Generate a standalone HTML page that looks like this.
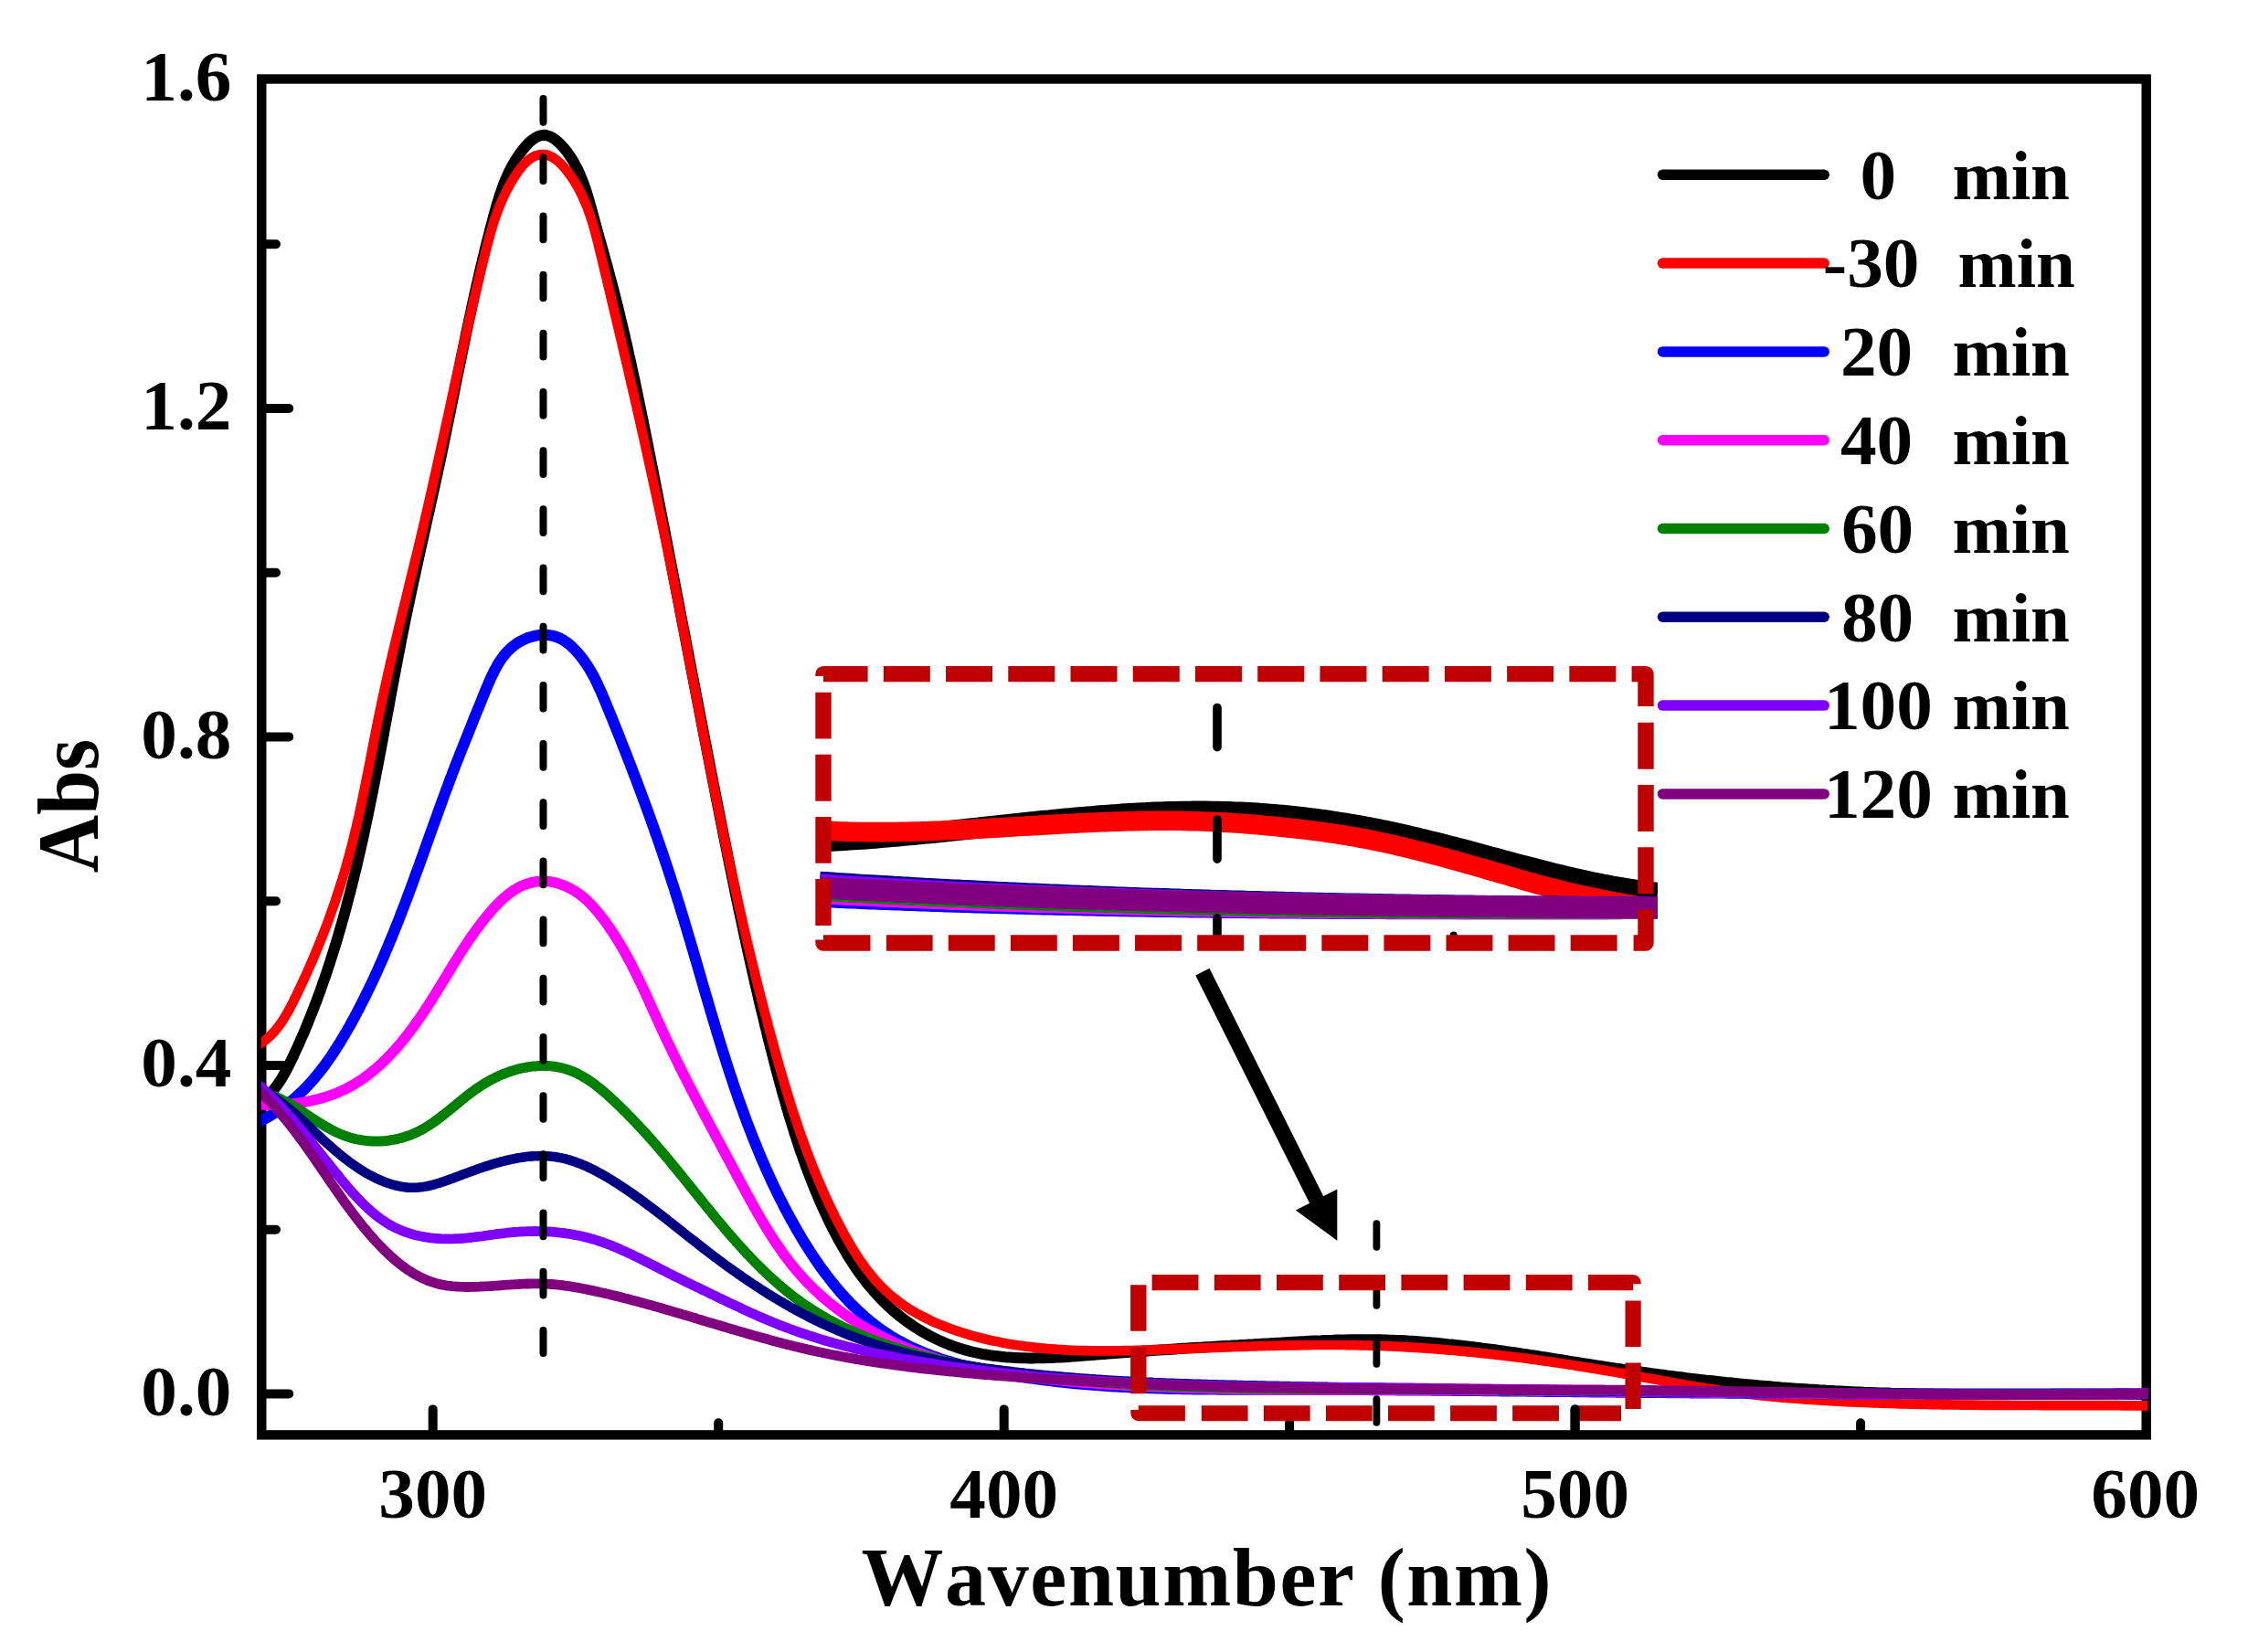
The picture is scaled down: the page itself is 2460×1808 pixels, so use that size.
<!DOCTYPE html>
<html lang="en"><head><meta charset="utf-8"><title>UV-vis absorbance spectra</title>
<style>html,body{margin:0;padding:0;background:#fff}body{width:2460px;height:1808px;overflow:hidden}</style></head>
<body>
<svg width="2460" height="1808" viewBox="0 0 2460 1808" style="display:block">
<rect width="2460" height="1808" fill="#fff"/>
<rect x="286.3" y="86.5" width="2062.3999999999996" height="1483.9" fill="none" stroke="#000" stroke-width="10.4"/>
<path d="M287.3,1525.4 H316.2 M287.3,1165.9 H316.2 M287.3,806.4 H316.2 M287.3,447.0 H316.2 M287.3,1345.7 H302 M287.3,986.2 H302 M287.3,626.7 H302 M287.3,267.2 H302 M473.7,1569.4 V1542.4 M1098.7,1569.4 V1542.4 M1723.6,1569.4 V1542.4 M786.2,1569.4 V1557.3 M1411.1,1569.4 V1557.3 M2036.1,1569.4 V1557.3" fill="none" stroke="#000" stroke-width="10" stroke-linecap="round"/>
<text transform="translate(253.3,1548.7) scale(1.0,1)" text-anchor="end" font-size="79.2" font-family="'Liberation Serif', serif" font-weight="bold">0.0</text>
<text transform="translate(253.3,1189.2) scale(1.0,1)" text-anchor="end" font-size="79.2" font-family="'Liberation Serif', serif" font-weight="bold">0.4</text>
<text transform="translate(253.3,829.7) scale(1.0,1)" text-anchor="end" font-size="79.2" font-family="'Liberation Serif', serif" font-weight="bold">0.8</text>
<text transform="translate(253.3,470.3) scale(1.0,1)" text-anchor="end" font-size="79.2" font-family="'Liberation Serif', serif" font-weight="bold">1.2</text>
<text transform="translate(253.3,109.8) scale(1.0,1)" text-anchor="end" font-size="79.2" font-family="'Liberation Serif', serif" font-weight="bold">1.6</text>
<text transform="translate(473.7,1660.7) scale(1.0,1)" text-anchor="middle" font-size="79.2" font-family="'Liberation Serif', serif" font-weight="bold">300</text>
<text transform="translate(1098.7,1660.7) scale(1.0,1)" text-anchor="middle" font-size="79.2" font-family="'Liberation Serif', serif" font-weight="bold">400</text>
<text transform="translate(1723.6,1660.7) scale(1.0,1)" text-anchor="middle" font-size="79.2" font-family="'Liberation Serif', serif" font-weight="bold">500</text>
<text transform="translate(2347.7,1660.7) scale(1.0,1)" text-anchor="middle" font-size="79.2" font-family="'Liberation Serif', serif" font-weight="bold">600</text>
<text transform="translate(1320.0,1756.5) scale(1.0,1)" text-anchor="middle" font-size="90" font-family="'Liberation Serif', serif" font-weight="bold" style="font-kerning:none" textLength="755" lengthAdjust="spacing">Wavenumber (nm)</text>
<text transform="translate(106.5,882) rotate(-90) scale(1.0,1.085)" text-anchor="middle" font-size="88" font-family="'Liberation Serif', serif" font-weight="bold">Abs</text>
<clipPath id="cc"><rect x="286" y="80" width="2064.4" height="1500"/></clipPath>
<g clip-path="url(#cc)">
<path d="M275.6,1212.3 L279.6,1210.1 L283.4,1207.7 L286.9,1205.0 L290.3,1202.3 L293.4,1199.3 L296.4,1196.2 L299.2,1193.0 L301.8,1189.7 L304.3,1186.2 L306.7,1182.6 L309.0,1179.0 L311.1,1175.3 L313.2,1171.5 L315.2,1167.7 L317.1,1163.8 L319.0,1159.9 L320.9,1156.0 L322.7,1152.1 L324.5,1148.1 L326.3,1144.2 L328.1,1140.2 L329.8,1136.2 L331.6,1132.3 L333.3,1128.3 L334.9,1124.3 L336.6,1120.3 L338.2,1116.3 L339.8,1112.3 L341.4,1108.3 L343.0,1104.2 L344.5,1100.2 L346.1,1096.2 L347.6,1092.1 L349.1,1088.0 L350.6,1084.0 L352.0,1079.9 L353.4,1075.8 L354.9,1071.7 L356.3,1067.7 L357.7,1063.6 L359.0,1059.5 L360.4,1055.4 L361.7,1051.2 L363.0,1047.1 L364.3,1043.0 L365.6,1038.9 L366.9,1034.7 L368.2,1030.6 L369.4,1026.5 L370.6,1022.3 L371.8,1018.2 L373.0,1014.0 L374.2,1009.9 L375.4,1005.7 L376.6,1001.5 L377.7,997.3 L378.8,993.2 L379.9,989.0 L381.0,984.8 L382.1,980.6 L383.2,976.4 L384.3,972.2 L385.3,968.0 L386.4,963.8 L387.4,959.6 L388.4,955.4 L389.5,951.2 L390.5,947.0 L391.4,942.8 L392.4,938.6 L393.4,934.3 L394.4,930.1 L395.3,925.9 L396.3,921.7 L397.2,917.4 L398.1,913.2 L399.0,909.0 L399.9,904.7 L400.8,900.5 L401.7,896.3 L402.6,892.0 L403.5,887.8 L404.4,883.5 L405.2,879.3 L406.1,875.1 L406.9,870.8 L407.8,866.6 L408.6,862.3 L409.5,858.1 L410.3,853.8 L411.1,849.6 L411.9,845.4 L412.8,841.1 L413.6,836.9 L414.4,832.6 L415.2,828.4 L416.0,824.1 L416.8,819.9 L417.6,815.6 L418.4,811.4 L419.2,807.1 L420.0,802.9 L420.7,798.6 L421.5,794.4 L422.3,790.1 L423.1,785.9 L423.9,781.6 L424.7,777.4 L425.5,773.1 L426.3,768.8 L427.0,764.6 L427.8,760.3 L428.6,756.1 L429.4,751.8 L430.2,747.6 L431.0,743.3 L431.8,739.1 L432.6,734.8 L433.4,730.6 L434.2,726.3 L435.0,722.1 L435.8,717.8 L436.7,713.6 L437.5,709.3 L438.3,705.1 L439.1,700.8 L440.0,696.6 L440.8,692.3 L441.7,688.1 L442.5,683.8 L443.4,679.6 L444.3,675.3 L445.1,671.1 L446.0,666.8 L446.9,662.6 L447.8,658.4 L448.7,654.1 L449.6,649.9 L450.5,645.6 L451.4,641.4 L452.3,637.1 L453.3,632.9 L454.2,628.7 L455.1,624.4 L456.0,620.2 L457.0,615.9 L457.9,611.7 L458.8,607.5 L459.8,603.2 L460.7,599.0 L461.7,594.7 L462.6,590.5 L463.6,586.3 L464.5,582.0 L465.5,577.8 L466.4,573.6 L467.3,569.3 L468.3,565.1 L469.2,560.9 L470.2,556.6 L471.1,552.4 L472.0,548.2 L473.0,543.9 L473.9,539.7 L474.9,535.5 L475.8,531.3 L476.7,527.0 L477.6,522.8 L478.6,518.6 L479.5,514.3 L480.4,510.1 L481.3,505.9 L482.2,501.7 L483.1,497.4 L484.0,493.2 L484.9,489.0 L485.7,484.8 L486.6,480.5 L487.5,476.3 L488.4,472.1 L489.2,467.9 L490.1,463.6 L491.0,459.4 L491.8,455.2 L492.7,451.0 L493.5,446.7 L494.4,442.5 L495.2,438.3 L496.1,434.1 L496.9,429.9 L497.8,425.6 L498.6,421.4 L499.5,417.2 L500.3,413.0 L501.2,408.7 L502.1,404.5 L502.9,400.3 L503.8,396.1 L504.6,391.8 L505.5,387.6 L506.4,383.4 L507.2,379.2 L508.1,375.0 L509.0,370.7 L509.8,366.5 L510.7,362.3 L511.6,358.1 L512.5,353.8 L513.4,349.6 L514.3,345.4 L515.2,341.2 L516.1,336.9 L517.0,332.7 L518.0,328.5 L518.9,324.2 L519.8,320.0 L520.8,315.8 L521.7,311.6 L522.7,307.3 L523.7,303.1 L524.6,298.9 L525.6,294.6 L526.6,290.4 L527.6,286.2 L528.6,281.9 L529.7,277.7 L530.7,273.5 L531.7,269.2 L532.8,265.0 L533.9,260.7 L535.0,256.5 L536.0,252.3 L537.1,248.0 L538.3,243.8 L539.4,239.5 L540.5,235.3 L541.7,231.1 L542.9,226.8 L544.1,222.6 L545.4,218.4 L546.7,214.2 L548.1,210.1 L549.6,205.9 L551.1,201.8 L552.7,197.8 L554.4,193.7 L556.2,189.8 L558.1,185.8 L560.2,182.0 L562.3,178.2 L564.6,174.4 L567.0,170.7 L569.6,167.1 L572.3,163.6 L575.2,160.1 L578.2,156.9 L581.3,154.0 L584.6,151.6 L587.9,149.6 L591.2,148.4 L594.6,147.8 L598.0,148.1 L601.5,149.2 L604.8,150.9 L608.2,153.2 L611.4,156.0 L614.5,159.1 L617.5,162.5 L620.3,166.0 L622.9,169.6 L625.4,173.3 L627.7,177.1 L629.8,181.0 L631.9,184.9 L633.8,188.9 L635.5,193.0 L637.2,197.1 L638.8,201.3 L640.3,205.5 L641.7,209.7 L643.0,213.9 L644.3,218.2 L645.5,222.5 L646.7,226.8 L647.9,231.1 L649.0,235.3 L650.2,239.6 L651.3,243.8 L652.5,248.1 L653.6,252.2 L654.8,256.4 L655.9,260.6 L657.1,264.7 L658.3,268.9 L659.4,273.0 L660.6,277.1 L661.7,281.3 L662.8,285.4 L664.0,289.5 L665.1,293.6 L666.2,297.7 L667.3,301.8 L668.4,306.0 L669.5,310.1 L670.6,314.3 L671.7,318.4 L672.7,322.5 L673.8,326.7 L674.8,330.9 L675.9,335.0 L676.9,339.2 L677.9,343.4 L678.9,347.6 L679.9,351.8 L680.9,355.9 L681.9,360.1 L682.9,364.3 L683.9,368.5 L684.8,372.8 L685.8,377.0 L686.8,381.2 L687.7,385.4 L688.6,389.6 L689.6,393.8 L690.5,398.1 L691.4,402.3 L692.3,406.5 L693.3,410.8 L694.2,415.0 L695.1,419.3 L696.0,423.5 L696.9,427.7 L697.7,432.0 L698.6,436.2 L699.5,440.5 L700.4,444.8 L701.3,449.0 L702.1,453.3 L703.0,457.5 L703.9,461.8 L704.7,466.0 L705.6,470.3 L706.4,474.6 L707.3,478.8 L708.1,483.1 L709.0,487.3 L709.8,491.6 L710.7,495.9 L711.5,500.1 L712.4,504.4 L713.2,508.6 L714.1,512.9 L714.9,517.2 L715.7,521.4 L716.6,525.7 L717.4,529.9 L718.2,534.2 L719.1,538.5 L719.9,542.7 L720.7,547.0 L721.6,551.2 L722.4,555.5 L723.2,559.7 L724.1,564.0 L724.9,568.2 L725.7,572.5 L726.6,576.8 L727.4,581.0 L728.2,585.3 L729.0,589.5 L729.9,593.8 L730.7,598.0 L731.5,602.3 L732.3,606.5 L733.1,610.8 L734.0,615.0 L734.8,619.3 L735.6,623.5 L736.4,627.8 L737.2,632.0 L738.1,636.3 L738.9,640.5 L739.7,644.8 L740.5,649.0 L741.3,653.3 L742.2,657.5 L743.0,661.8 L743.8,666.0 L744.6,670.3 L745.4,674.5 L746.2,678.8 L747.0,683.0 L747.9,687.3 L748.7,691.5 L749.5,695.8 L750.3,700.0 L751.1,704.3 L751.9,708.5 L752.8,712.8 L753.6,717.0 L754.4,721.3 L755.2,725.5 L756.0,729.8 L756.8,734.0 L757.6,738.3 L758.5,742.5 L759.3,746.8 L760.1,751.0 L760.9,755.3 L761.7,759.5 L762.5,763.7 L763.4,768.0 L764.2,772.2 L765.0,776.5 L765.8,780.7 L766.6,785.0 L767.4,789.2 L768.3,793.5 L769.1,797.7 L769.9,802.0 L770.7,806.2 L771.5,810.5 L772.4,814.7 L773.2,818.9 L774.0,823.2 L774.8,827.4 L775.7,831.7 L776.5,835.9 L777.3,840.2 L778.1,844.4 L779.0,848.7 L779.8,852.9 L780.6,857.2 L781.5,861.4 L782.3,865.7 L783.1,869.9 L783.9,874.1 L784.8,878.4 L785.6,882.6 L786.5,886.9 L787.3,891.1 L788.1,895.4 L789.0,899.6 L789.8,903.9 L790.7,908.1 L791.5,912.4 L792.4,916.6 L793.2,920.8 L794.1,925.1 L794.9,929.3 L795.8,933.6 L796.6,937.8 L797.5,942.1 L798.3,946.3 L799.2,950.5 L800.1,954.8 L800.9,959.0 L801.8,963.3 L802.7,967.5 L803.6,971.7 L804.4,976.0 L805.3,980.2 L806.2,984.5 L807.1,988.7 L808.0,992.9 L808.9,997.2 L809.8,1001.4 L810.7,1005.6 L811.6,1009.9 L812.5,1014.1 L813.4,1018.3 L814.3,1022.6 L815.3,1026.8 L816.2,1031.0 L817.1,1035.3 L818.0,1039.5 L819.0,1043.7 L819.9,1047.9 L820.9,1052.2 L821.8,1056.4 L822.8,1060.6 L823.7,1064.8 L824.7,1069.1 L825.6,1073.3 L826.6,1077.5 L827.6,1081.7 L828.6,1085.9 L829.6,1090.2 L830.5,1094.4 L831.5,1098.6 L832.5,1102.8 L833.6,1107.0 L834.6,1111.2 L835.6,1115.4 L836.6,1119.6 L837.6,1123.8 L838.7,1128.0 L839.7,1132.3 L840.7,1136.5 L841.8,1140.7 L842.8,1144.9 L843.9,1149.1 L845.0,1153.3 L846.1,1157.5 L847.1,1161.6 L848.2,1165.8 L849.3,1170.0 L850.4,1174.2 L851.6,1178.4 L852.7,1182.6 L853.8,1186.7 L855.0,1190.9 L856.1,1195.1 L857.3,1199.3 L858.5,1203.4 L859.7,1207.6 L860.9,1211.7 L862.1,1215.9 L863.3,1220.0 L864.6,1224.2 L865.9,1228.3 L867.1,1232.4 L868.4,1236.5 L869.7,1240.7 L871.1,1244.8 L872.4,1248.9 L873.8,1253.0 L875.1,1257.1 L876.5,1261.2 L878.0,1265.2 L879.4,1269.3 L880.9,1273.4 L882.3,1277.4 L883.8,1281.5 L885.4,1285.5 L886.9,1289.5 L888.5,1293.5 L890.1,1297.6 L891.7,1301.6 L893.4,1305.5 L895.0,1309.5 L896.7,1313.5 L898.5,1317.5 L900.2,1321.4 L902.0,1325.3 L903.9,1329.3 L905.7,1333.2 L907.6,1337.1 L909.5,1341.0 L911.5,1344.9 L913.5,1348.7 L915.5,1352.6 L917.5,1356.4 L919.6,1360.2 L921.8,1364.0 L924.0,1367.7 L926.2,1371.5 L928.4,1375.2 L930.7,1378.8 L933.1,1382.5 L935.5,1386.1 L937.9,1389.7 L940.4,1393.2 L943.0,1396.7 L945.6,1400.1 L948.2,1403.6 L950.9,1406.9 L953.7,1410.2 L956.5,1413.5 L959.4,1416.7 L962.3,1419.9 L965.3,1423.0 L968.4,1426.1 L971.5,1429.1 L974.7,1432.0 L977.9,1434.9 L981.2,1437.7 L984.6,1440.5 L988.0,1443.1 L991.5,1445.8 L995.1,1448.3 L998.7,1450.8 L1002.4,1453.2 L1006.1,1455.5 L1009.9,1457.7 L1013.7,1459.9 L1017.6,1462.0 L1021.5,1464.0 L1025.4,1465.9 L1029.4,1467.7 L1033.4,1469.4 L1037.4,1471.1 L1041.5,1472.7 L1045.5,1474.1 L1049.6,1475.5 L1053.8,1476.8 L1057.9,1477.9 L1062.0,1479.0 L1066.2,1480.0 L1070.4,1480.9 L1074.6,1481.8 L1078.8,1482.5 L1083.0,1483.2 L1087.2,1483.8 L1091.4,1484.3 L1095.7,1484.8 L1099.9,1485.2 L1104.2,1485.5 L1108.5,1485.8 L1112.8,1486.0 L1117.1,1486.2 L1121.4,1486.3 L1125.7,1486.4 L1130.0,1486.4 L1134.3,1486.3 L1138.7,1486.3 L1143.0,1486.2 L1147.4,1486.0 L1151.7,1485.9 L1156.0,1485.6 L1160.4,1485.4 L1164.7,1485.2 L1169.1,1484.9 L1173.4,1484.6 L1177.8,1484.3 L1182.2,1484.0 L1186.5,1483.6 L1190.9,1483.3 L1195.2,1483.0 L1199.6,1482.6 L1203.9,1482.3 L1208.2,1481.9 L1212.6,1481.6 L1216.9,1481.3 L1221.3,1480.9 L1225.6,1480.6 L1229.9,1480.3 L1234.2,1480.0 L1238.6,1479.6 L1242.9,1479.3 L1247.2,1479.0 L1251.5,1478.7 L1255.8,1478.4 L1260.1,1478.1 L1264.4,1477.8 L1268.7,1477.5 L1273.0,1477.2 L1277.3,1477.0 L1281.6,1476.7 L1285.9,1476.4 L1290.2,1476.1 L1294.5,1475.8 L1298.8,1475.6 L1303.1,1475.3 L1307.4,1475.0 L1311.7,1474.7 L1316.0,1474.5 L1320.3,1474.2 L1324.6,1474.0 L1328.9,1473.7 L1333.2,1473.4 L1337.5,1473.2 L1341.9,1472.9 L1346.2,1472.7 L1350.5,1472.4 L1354.8,1472.2 L1359.1,1471.9 L1363.4,1471.7 L1367.7,1471.4 L1372.0,1471.2 L1376.3,1470.9 L1380.6,1470.7 L1385.0,1470.4 L1389.3,1470.2 L1393.6,1469.9 L1397.9,1469.7 L1402.3,1469.5 L1406.6,1469.2 L1410.9,1469.0 L1415.3,1468.7 L1419.6,1468.5 L1424.0,1468.3 L1428.3,1468.1 L1432.6,1467.8 L1437.0,1467.6 L1441.3,1467.4 L1445.7,1467.3 L1450.0,1467.1 L1454.4,1466.9 L1458.7,1466.8 L1463.1,1466.6 L1467.4,1466.5 L1471.8,1466.4 L1476.1,1466.3 L1480.5,1466.2 L1484.8,1466.2 L1489.2,1466.2 L1493.5,1466.2 L1497.9,1466.2 L1502.2,1466.2 L1506.5,1466.3 L1510.9,1466.3 L1515.2,1466.4 L1519.5,1466.6 L1523.9,1466.7 L1528.2,1466.9 L1532.5,1467.1 L1536.8,1467.3 L1541.1,1467.6 L1545.5,1467.8 L1549.8,1468.1 L1554.1,1468.4 L1558.4,1468.7 L1562.7,1469.1 L1567.0,1469.4 L1571.3,1469.8 L1575.6,1470.2 L1579.9,1470.6 L1584.2,1471.1 L1588.5,1471.5 L1592.8,1472.0 L1597.1,1472.4 L1601.4,1472.9 L1605.7,1473.4 L1610.0,1473.9 L1614.3,1474.5 L1618.6,1475.0 L1622.8,1475.6 L1627.1,1476.1 L1631.4,1476.7 L1635.7,1477.3 L1640.0,1477.9 L1644.3,1478.5 L1648.5,1479.1 L1652.8,1479.7 L1657.1,1480.3 L1661.4,1480.9 L1665.7,1481.6 L1669.9,1482.2 L1674.2,1482.9 L1678.5,1483.5 L1682.8,1484.2 L1687.1,1484.9 L1691.3,1485.5 L1695.6,1486.2 L1699.9,1486.9 L1704.2,1487.6 L1708.4,1488.2 L1712.7,1488.9 L1717.0,1489.6 L1721.3,1490.3 L1725.5,1490.9 L1729.8,1491.6 L1734.1,1492.3 L1738.4,1493.0 L1742.7,1493.6 L1746.9,1494.3 L1751.2,1495.0 L1755.5,1495.6 L1759.8,1496.3 L1764.1,1497.0 L1768.3,1497.6 L1772.6,1498.2 L1776.9,1498.9 L1781.2,1499.5 L1785.5,1500.1 L1789.8,1500.7 L1794.0,1501.3 L1798.3,1501.9 L1802.6,1502.5 L1806.9,1503.1 L1811.2,1503.7 L1815.5,1504.3 L1819.8,1504.8 L1824.1,1505.4 L1828.4,1505.9 L1832.7,1506.5 L1837.0,1507.0 L1841.3,1507.5 L1845.6,1508.1 L1849.9,1508.6 L1854.2,1509.1 L1858.5,1509.6 L1862.8,1510.1 L1867.1,1510.6 L1871.4,1511.0 L1875.7,1511.5 L1880.0,1512.0 L1884.3,1512.4 L1888.6,1512.9 L1892.9,1513.3 L1897.2,1513.8 L1901.5,1514.2 L1905.8,1514.6 L1910.1,1515.0 L1914.4,1515.4 L1918.7,1515.8 L1923.0,1516.2 L1927.3,1516.6 L1931.7,1517.0 L1936.0,1517.3 L1940.3,1517.7 L1944.6,1518.0 L1948.9,1518.4 L1953.2,1518.7 L1957.5,1519.1 L1961.9,1519.4 L1966.2,1519.7 L1970.5,1520.0 L1974.8,1520.3 L1979.1,1520.6 L1983.4,1520.8 L1987.8,1521.1 L1992.1,1521.4 L1996.4,1521.6 L2000.7,1521.9 L2005.0,1522.1 L2009.4,1522.4 L2013.7,1522.6 L2018.0,1522.8 L2022.3,1523.0 L2026.7,1523.2 L2031.0,1523.4 L2035.3,1523.6 L2039.6,1523.8 L2044.0,1523.9 L2048.3,1524.1 L2052.6,1524.2 L2056.9,1524.4 L2061.3,1524.5 L2065.6,1524.6 L2069.9,1524.8 L2074.2,1524.9 L2078.6,1525.0 L2082.9,1525.1 L2087.2,1525.2 L2091.6,1525.3 L2095.9,1525.3 L2100.2,1525.4 L2104.5,1525.5 L2108.9,1525.6 L2113.2,1525.6 L2117.5,1525.7 L2121.9,1525.7 L2126.2,1525.8 L2130.5,1525.8 L2134.9,1525.9 L2139.2,1525.9 L2143.5,1525.9 L2147.9,1525.9 L2152.2,1526.0 L2156.5,1526.0 L2160.9,1526.0 L2165.2,1526.0 L2169.5,1526.0 L2173.9,1526.0 L2178.2,1526.0 L2182.5,1526.0 L2186.9,1526.0 L2191.2,1526.0 L2195.5,1526.0 L2199.8,1526.0 L2204.2,1526.0 L2208.5,1526.0 L2212.8,1526.0 L2217.2,1526.0 L2221.5,1525.9 L2225.8,1525.9 L2230.2,1525.9 L2234.5,1525.9 L2238.8,1525.9 L2243.2,1525.9 L2247.5,1525.8 L2251.8,1525.8 L2256.2,1525.8 L2260.5,1525.8 L2264.8,1525.8 L2269.1,1525.8 L2273.5,1525.8 L2277.8,1525.8 L2282.1,1525.7 L2286.5,1525.7 L2290.8,1525.7 L2295.1,1525.7 L2299.4,1525.7 L2303.8,1525.7 L2308.1,1525.7 L2312.4,1525.7 L2316.8,1525.8 L2321.1,1525.8 L2325.4,1525.8 L2329.7,1525.8 L2334.1,1525.8 L2338.4,1525.9 L2342.7,1525.9 L2347.0,1525.9 L2351.3,1526.0 L2355.7,1526.0 L2360.0,1526.0" fill="none" stroke="#000000" stroke-width="12.0" stroke-linejoin="round" stroke-linecap="butt"/>
<path d="M276.0,1147.1 L279.9,1145.2 L283.6,1143.1 L287.1,1140.8 L290.4,1138.3 L293.6,1135.6 L296.5,1132.8 L299.4,1129.9 L302.1,1126.8 L304.6,1123.5 L307.1,1120.2 L309.4,1116.8 L311.6,1113.2 L313.7,1109.6 L315.8,1106.0 L317.8,1102.3 L319.8,1098.5 L321.7,1094.7 L323.5,1090.9 L325.4,1087.1 L327.2,1083.3 L329.0,1079.4 L330.8,1075.6 L332.6,1071.8 L334.4,1067.9 L336.1,1064.1 L337.8,1060.2 L339.5,1056.4 L341.2,1052.5 L342.9,1048.6 L344.5,1044.8 L346.1,1040.9 L347.7,1037.0 L349.3,1033.1 L350.9,1029.2 L352.4,1025.3 L354.0,1021.4 L355.5,1017.5 L357.0,1013.6 L358.5,1009.6 L359.9,1005.7 L361.3,1001.8 L362.7,997.8 L364.1,993.9 L365.5,989.9 L366.9,985.9 L368.2,982.0 L369.5,978.0 L370.8,974.0 L372.1,970.0 L373.3,966.1 L374.6,962.1 L375.8,958.0 L377.0,954.0 L378.2,950.0 L379.3,946.0 L380.4,942.0 L381.6,937.9 L382.7,933.9 L383.7,929.8 L384.8,925.8 L385.8,921.7 L386.8,917.7 L387.8,913.6 L388.8,909.5 L389.8,905.4 L390.7,901.3 L391.6,897.3 L392.6,893.2 L393.5,889.1 L394.4,885.0 L395.2,880.9 L396.1,876.7 L397.0,872.6 L397.8,868.5 L398.7,864.4 L399.5,860.3 L400.3,856.1 L401.1,852.0 L402.0,847.9 L402.8,843.8 L403.6,839.6 L404.4,835.5 L405.2,831.4 L406.0,827.2 L406.8,823.1 L407.6,819.0 L408.4,814.8 L409.2,810.7 L410.0,806.6 L410.8,802.4 L411.6,798.3 L412.5,794.2 L413.3,790.0 L414.1,785.9 L415.0,781.8 L415.8,777.7 L416.7,773.6 L417.5,769.4 L418.4,765.3 L419.3,761.2 L420.2,757.1 L421.1,753.0 L422.0,748.9 L422.9,744.8 L423.8,740.7 L424.7,736.6 L425.7,732.5 L426.6,728.4 L427.5,724.3 L428.5,720.2 L429.4,716.1 L430.4,712.0 L431.4,708.0 L432.3,703.9 L433.3,699.8 L434.3,695.7 L435.3,691.6 L436.2,687.5 L437.2,683.5 L438.2,679.4 L439.2,675.3 L440.2,671.2 L441.2,667.1 L442.2,663.1 L443.2,659.0 L444.2,654.9 L445.2,650.8 L446.2,646.8 L447.1,642.7 L448.1,638.6 L449.1,634.5 L450.1,630.4 L451.1,626.4 L452.1,622.3 L453.1,618.2 L454.1,614.1 L455.1,610.1 L456.1,606.0 L457.1,601.9 L458.0,597.8 L459.0,593.7 L460.0,589.7 L461.0,585.6 L461.9,581.5 L462.9,577.4 L463.8,573.3 L464.8,569.2 L465.7,565.1 L466.7,561.0 L467.6,556.9 L468.6,552.9 L469.5,548.8 L470.4,544.7 L471.4,540.6 L472.3,536.5 L473.2,532.4 L474.1,528.3 L475.0,524.2 L476.0,520.1 L476.9,516.0 L477.8,511.9 L478.7,507.8 L479.6,503.7 L480.5,499.6 L481.4,495.5 L482.3,491.4 L483.2,487.3 L484.1,483.2 L485.0,479.1 L485.9,475.0 L486.8,470.8 L487.7,466.7 L488.6,462.6 L489.5,458.5 L490.4,454.4 L491.3,450.3 L492.2,446.2 L493.1,442.1 L493.9,438.0 L494.8,433.9 L495.7,429.8 L496.6,425.7 L497.5,421.6 L498.4,417.5 L499.3,413.4 L500.2,409.3 L501.1,405.2 L502.0,401.1 L502.9,397.0 L503.8,392.9 L504.8,388.8 L505.7,384.7 L506.6,380.6 L507.5,376.5 L508.4,372.4 L509.3,368.3 L510.3,364.2 L511.2,360.1 L512.1,356.0 L513.0,351.9 L514.0,347.8 L514.9,343.8 L515.9,339.7 L516.8,335.6 L517.8,331.5 L518.7,327.4 L519.7,323.3 L520.7,319.2 L521.6,315.2 L522.6,311.1 L523.6,307.0 L524.6,302.9 L525.5,298.9 L526.5,294.8 L527.5,290.7 L528.5,286.6 L529.6,282.6 L530.6,278.5 L531.6,274.4 L532.6,270.4 L533.7,266.3 L534.8,262.3 L535.9,258.2 L537.0,254.2 L538.2,250.2 L539.4,246.1 L540.7,242.1 L542.0,238.1 L543.4,234.2 L544.9,230.2 L546.4,226.3 L548.0,222.3 L549.7,218.4 L551.5,214.5 L553.3,210.7 L555.3,206.8 L557.4,203.0 L559.5,199.2 L561.8,195.4 L564.3,191.6 L566.8,187.9 L569.5,184.3 L572.3,180.9 L575.2,177.8 L578.3,175.0 L581.6,172.7 L584.9,170.9 L588.4,169.7 L591.9,169.0 L595.3,169.0 L598.7,169.6 L602.1,170.9 L605.4,172.6 L608.6,174.8 L611.7,177.5 L614.7,180.4 L617.7,183.6 L620.5,187.0 L623.1,190.6 L625.7,194.2 L628.1,197.8 L630.3,201.5 L632.5,205.3 L634.5,209.0 L636.4,212.8 L638.2,216.7 L639.9,220.6 L641.6,224.5 L643.1,228.4 L644.5,232.4 L645.9,236.3 L647.2,240.3 L648.5,244.4 L649.7,248.4 L650.8,252.4 L651.9,256.5 L653.0,260.6 L654.0,264.7 L655.0,268.7 L656.0,272.8 L657.0,276.9 L658.0,281.0 L659.0,285.1 L659.9,289.2 L660.9,293.3 L661.9,297.4 L662.9,301.5 L663.9,305.6 L664.8,309.7 L665.8,313.8 L666.8,317.9 L667.8,322.0 L668.7,326.1 L669.7,330.2 L670.7,334.3 L671.7,338.4 L672.6,342.5 L673.6,346.5 L674.6,350.6 L675.5,354.7 L676.5,358.8 L677.5,362.9 L678.4,367.0 L679.4,371.1 L680.4,375.2 L681.3,379.3 L682.3,383.4 L683.2,387.5 L684.2,391.6 L685.1,395.6 L686.1,399.7 L687.0,403.8 L688.0,407.9 L688.9,412.0 L689.9,416.1 L690.8,420.2 L691.8,424.3 L692.7,428.4 L693.7,432.5 L694.6,436.6 L695.5,440.7 L696.5,444.7 L697.4,448.8 L698.3,452.9 L699.3,457.0 L700.2,461.1 L701.1,465.2 L702.0,469.3 L703.0,473.4 L703.9,477.5 L704.8,481.6 L705.7,485.7 L706.6,489.8 L707.5,493.9 L708.4,498.0 L709.3,502.1 L710.2,506.2 L711.1,510.3 L712.0,514.4 L712.9,518.5 L713.8,522.6 L714.7,526.7 L715.6,530.8 L716.5,534.9 L717.4,539.0 L718.3,543.1 L719.1,547.2 L720.0,551.3 L720.9,555.4 L721.7,559.5 L722.6,563.6 L723.5,567.7 L724.3,571.8 L725.2,575.9 L726.0,580.0 L726.9,584.1 L727.7,588.2 L728.6,592.3 L729.4,596.5 L730.3,600.6 L731.1,604.7 L731.9,608.8 L732.8,612.9 L733.6,617.0 L734.4,621.1 L735.2,625.3 L736.1,629.4 L736.9,633.5 L737.7,637.6 L738.5,641.7 L739.3,645.8 L740.1,650.0 L740.9,654.1 L741.8,658.2 L742.6,662.3 L743.4,666.4 L744.2,670.6 L745.0,674.7 L745.8,678.8 L746.6,682.9 L747.4,687.1 L748.2,691.2 L749.0,695.3 L749.8,699.4 L750.6,703.6 L751.4,707.7 L752.2,711.8 L752.9,715.9 L753.7,720.0 L754.5,724.2 L755.3,728.3 L756.1,732.4 L756.9,736.6 L757.7,740.7 L758.5,744.8 L759.3,748.9 L760.1,753.1 L760.9,757.2 L761.7,761.3 L762.4,765.4 L763.2,769.6 L764.0,773.7 L764.8,777.8 L765.6,781.9 L766.4,786.1 L767.2,790.2 L768.0,794.3 L768.8,798.4 L769.6,802.6 L770.4,806.7 L771.2,810.8 L772.0,814.9 L772.8,819.1 L773.6,823.2 L774.4,827.3 L775.2,831.4 L776.0,835.6 L776.8,839.7 L777.7,843.8 L778.5,847.9 L779.3,852.0 L780.1,856.2 L780.9,860.3 L781.8,864.4 L782.6,868.5 L783.4,872.6 L784.2,876.8 L785.1,880.9 L785.9,885.0 L786.7,889.1 L787.6,893.2 L788.4,897.4 L789.3,901.5 L790.1,905.6 L791.0,909.7 L791.8,913.8 L792.7,917.9 L793.5,922.0 L794.4,926.2 L795.3,930.3 L796.1,934.4 L797.0,938.5 L797.9,942.6 L798.8,946.7 L799.7,950.8 L800.6,954.9 L801.4,959.0 L802.3,963.1 L803.2,967.2 L804.1,971.3 L805.1,975.4 L806.0,979.5 L806.9,983.6 L807.8,987.7 L808.7,991.8 L809.6,995.9 L810.6,1000.0 L811.5,1004.1 L812.5,1008.2 L813.4,1012.3 L814.3,1016.4 L815.3,1020.5 L816.3,1024.6 L817.2,1028.7 L818.2,1032.8 L819.1,1036.8 L820.1,1040.9 L821.1,1045.0 L822.1,1049.1 L823.1,1053.2 L824.1,1057.2 L825.1,1061.3 L826.1,1065.4 L827.1,1069.5 L828.1,1073.5 L829.1,1077.6 L830.1,1081.7 L831.2,1085.8 L832.2,1089.8 L833.2,1093.9 L834.3,1098.0 L835.3,1102.0 L836.4,1106.1 L837.4,1110.1 L838.5,1114.2 L839.6,1118.2 L840.6,1122.3 L841.7,1126.4 L842.8,1130.4 L843.9,1134.4 L845.0,1138.5 L846.1,1142.5 L847.2,1146.6 L848.3,1150.6 L849.4,1154.7 L850.5,1158.7 L851.7,1162.7 L852.8,1166.8 L854.0,1170.8 L855.1,1174.8 L856.3,1178.8 L857.5,1182.9 L858.7,1186.9 L859.9,1190.9 L861.1,1194.9 L862.3,1198.9 L863.6,1202.9 L864.8,1206.9 L866.1,1210.9 L867.3,1214.9 L868.6,1218.9 L869.9,1222.8 L871.3,1226.8 L872.6,1230.8 L873.9,1234.8 L875.3,1238.7 L876.7,1242.7 L878.1,1246.6 L879.5,1250.6 L880.9,1254.5 L882.4,1258.4 L883.9,1262.4 L885.3,1266.3 L886.9,1270.2 L888.4,1274.1 L889.9,1278.0 L891.5,1281.9 L893.1,1285.8 L894.7,1289.7 L896.4,1293.6 L898.0,1297.4 L899.7,1301.3 L901.4,1305.1 L903.1,1309.0 L904.9,1312.8 L906.7,1316.7 L908.5,1320.5 L910.3,1324.3 L912.2,1328.1 L914.0,1331.9 L916.0,1335.7 L917.9,1339.5 L919.9,1343.3 L921.9,1347.0 L923.9,1350.8 L926.0,1354.5 L928.1,1358.2 L930.2,1361.9 L932.4,1365.5 L934.6,1369.1 L936.9,1372.7 L939.2,1376.3 L941.5,1379.8 L943.9,1383.2 L946.4,1386.6 L948.9,1390.0 L951.5,1393.3 L954.1,1396.6 L956.8,1399.7 L959.6,1402.9 L962.4,1405.9 L965.3,1408.9 L968.2,1411.8 L971.3,1414.6 L974.4,1417.4 L977.5,1420.1 L980.8,1422.6 L984.1,1425.1 L987.5,1427.6 L990.9,1429.9 L994.4,1432.2 L998.0,1434.4 L1001.6,1436.5 L1005.2,1438.6 L1008.9,1440.5 L1012.7,1442.4 L1016.5,1444.3 L1020.3,1446.1 L1024.2,1447.8 L1028.1,1449.4 L1032.0,1451.0 L1035.9,1452.6 L1039.9,1454.1 L1043.9,1455.5 L1047.9,1456.8 L1051.9,1458.2 L1055.9,1459.4 L1059.9,1460.6 L1064.0,1461.8 L1068.0,1462.9 L1072.1,1464.0 L1076.2,1465.0 L1080.2,1466.0 L1084.3,1466.9 L1088.4,1467.8 L1092.5,1468.6 L1096.6,1469.4 L1100.7,1470.2 L1104.8,1470.9 L1108.9,1471.6 L1113.1,1472.2 L1117.2,1472.8 L1121.3,1473.4 L1125.5,1473.9 L1129.6,1474.4 L1133.8,1474.9 L1137.9,1475.3 L1142.1,1475.7 L1146.2,1476.1 L1150.4,1476.4 L1154.6,1476.7 L1158.8,1477.0 L1162.9,1477.2 L1167.1,1477.5 L1171.3,1477.7 L1175.5,1477.8 L1179.7,1478.0 L1183.9,1478.1 L1188.1,1478.2 L1192.3,1478.3 L1196.5,1478.3 L1200.7,1478.4 L1204.9,1478.4 L1209.1,1478.4 L1213.3,1478.4 L1217.5,1478.4 L1221.8,1478.3 L1226.0,1478.3 L1230.2,1478.2 L1234.4,1478.1 L1238.6,1478.0 L1242.9,1477.9 L1247.1,1477.8 L1251.3,1477.7 L1255.5,1477.6 L1259.7,1477.4 L1264.0,1477.3 L1268.2,1477.2 L1272.4,1477.0 L1276.6,1476.9 L1280.8,1476.7 L1285.1,1476.5 L1289.3,1476.4 L1293.5,1476.2 L1297.7,1476.1 L1301.9,1475.9 L1306.1,1475.8 L1310.3,1475.6 L1314.5,1475.4 L1318.8,1475.3 L1323.0,1475.1 L1327.2,1475.0 L1331.4,1474.8 L1335.6,1474.6 L1339.8,1474.5 L1344.0,1474.3 L1348.2,1474.2 L1352.4,1474.0 L1356.6,1473.9 L1360.8,1473.8 L1365.0,1473.6 L1369.2,1473.5 L1373.4,1473.3 L1377.6,1473.2 L1381.8,1473.1 L1386.0,1473.0 L1390.2,1472.9 L1394.4,1472.8 L1398.6,1472.7 L1402.8,1472.6 L1407.0,1472.5 L1411.1,1472.4 L1415.3,1472.3 L1419.5,1472.3 L1423.7,1472.2 L1427.9,1472.1 L1432.1,1472.1 L1436.3,1472.0 L1440.5,1472.0 L1444.7,1472.0 L1448.9,1472.0 L1453.1,1472.0 L1457.3,1472.0 L1461.4,1472.0 L1465.6,1472.0 L1469.8,1472.0 L1474.0,1472.1 L1478.2,1472.1 L1482.4,1472.2 L1486.6,1472.3 L1490.8,1472.4 L1495.0,1472.5 L1499.1,1472.6 L1503.3,1472.7 L1507.5,1472.8 L1511.7,1473.0 L1515.9,1473.1 L1520.1,1473.3 L1524.3,1473.5 L1528.5,1473.7 L1532.6,1473.9 L1536.8,1474.1 L1541.0,1474.4 L1545.2,1474.6 L1549.4,1474.9 L1553.6,1475.1 L1557.8,1475.4 L1562.0,1475.7 L1566.1,1476.0 L1570.3,1476.3 L1574.5,1476.6 L1578.7,1477.0 L1582.9,1477.3 L1587.1,1477.7 L1591.3,1478.0 L1595.4,1478.4 L1599.6,1478.8 L1603.8,1479.2 L1608.0,1479.6 L1612.2,1480.0 L1616.3,1480.4 L1620.5,1480.9 L1624.7,1481.3 L1628.9,1481.8 L1633.1,1482.2 L1637.2,1482.7 L1641.4,1483.2 L1645.6,1483.7 L1649.7,1484.2 L1653.9,1484.7 L1658.1,1485.2 L1662.3,1485.8 L1666.4,1486.3 L1670.6,1486.8 L1674.8,1487.4 L1678.9,1488.0 L1683.1,1488.5 L1687.3,1489.1 L1691.4,1489.7 L1695.6,1490.3 L1699.8,1490.9 L1703.9,1491.5 L1708.1,1492.1 L1712.2,1492.8 L1716.4,1493.4 L1720.5,1494.0 L1724.7,1494.7 L1728.8,1495.4 L1733.0,1496.0 L1737.1,1496.7 L1741.3,1497.4 L1745.4,1498.0 L1749.6,1498.7 L1753.7,1499.4 L1757.9,1500.1 L1762.0,1500.9 L1766.1,1501.6 L1770.3,1502.3 L1774.4,1503.0 L1778.5,1503.8 L1782.7,1504.5 L1786.8,1505.2 L1790.9,1506.0 L1795.1,1506.7 L1799.2,1507.5 L1803.3,1508.2 L1807.4,1509.0 L1811.6,1509.8 L1815.7,1510.5 L1819.8,1511.3 L1823.9,1512.0 L1828.1,1512.7 L1832.2,1513.5 L1836.3,1514.2 L1840.5,1514.9 L1844.6,1515.7 L1848.7,1516.4 L1852.9,1517.1 L1857.0,1517.8 L1861.1,1518.4 L1865.3,1519.1 L1869.4,1519.8 L1873.5,1520.4 L1877.7,1521.0 L1881.8,1521.7 L1886.0,1522.3 L1890.1,1522.8 L1894.3,1523.4 L1898.5,1524.0 L1902.6,1524.5 L1906.8,1525.0 L1911.0,1525.5 L1915.1,1526.0 L1919.3,1526.5 L1923.5,1526.9 L1927.7,1527.4 L1931.8,1527.8 L1936.0,1528.2 L1940.2,1528.6 L1944.4,1529.0 L1948.6,1529.4 L1952.8,1529.7 L1957.0,1530.1 L1961.2,1530.4 L1965.3,1530.7 L1969.5,1531.0 L1973.7,1531.3 L1977.9,1531.6 L1982.1,1531.9 L1986.3,1532.2 L1990.5,1532.5 L1994.7,1532.7 L1998.9,1532.9 L2003.1,1533.2 L2007.3,1533.4 L2011.5,1533.6 L2015.7,1533.9 L2019.9,1534.1 L2024.1,1534.3 L2028.3,1534.5 L2032.5,1534.6 L2036.7,1534.8 L2040.9,1535.0 L2045.1,1535.2 L2049.3,1535.3 L2053.5,1535.5 L2057.7,1535.6 L2061.9,1535.8 L2066.1,1535.9 L2070.3,1536.0 L2074.5,1536.2 L2078.7,1536.3 L2082.9,1536.4 L2087.1,1536.5 L2091.3,1536.6 L2095.5,1536.7 L2099.7,1536.8 L2103.9,1536.9 L2108.1,1537.0 L2112.3,1537.1 L2116.5,1537.1 L2120.6,1537.2 L2124.8,1537.3 L2129.0,1537.3 L2133.2,1537.4 L2137.4,1537.5 L2141.6,1537.5 L2145.8,1537.6 L2150.0,1537.6 L2154.2,1537.6 L2158.4,1537.7 L2162.6,1537.7 L2166.8,1537.8 L2171.0,1537.8 L2175.2,1537.8 L2179.4,1537.9 L2183.6,1537.9 L2187.8,1537.9 L2192.0,1537.9 L2196.2,1537.9 L2200.4,1538.0 L2204.6,1538.0 L2208.8,1538.0 L2213.0,1538.0 L2217.2,1538.0 L2221.4,1538.0 L2225.6,1538.0 L2229.7,1538.0 L2233.9,1538.1 L2238.1,1538.1 L2242.3,1538.1 L2246.5,1538.1 L2250.7,1538.1 L2254.9,1538.1 L2259.1,1538.1 L2263.3,1538.1 L2267.5,1538.1 L2271.7,1538.1 L2275.9,1538.1 L2280.1,1538.1 L2284.3,1538.1 L2288.5,1538.1 L2292.7,1538.2 L2296.9,1538.2 L2301.1,1538.2 L2305.3,1538.2 L2309.5,1538.2 L2313.8,1538.2 L2318.0,1538.2 L2322.2,1538.3 L2326.4,1538.3 L2330.6,1538.3 L2334.8,1538.3 L2339.0,1538.4 L2343.2,1538.4 L2347.4,1538.4 L2351.6,1538.5 L2355.8,1538.5 L2360.0,1538.6" fill="none" stroke="#ff0000" stroke-width="10.7" stroke-linejoin="round" stroke-linecap="butt"/>
<path d="M275.3,1230.9 L278.5,1229.6 L281.6,1228.2 L284.7,1226.8 L287.7,1225.3 L290.7,1223.8 L293.7,1222.2 L296.5,1220.5 L299.4,1218.9 L302.2,1217.1 L304.9,1215.3 L307.6,1213.5 L310.3,1211.6 L312.9,1209.7 L315.4,1207.7 L318.0,1205.7 L320.4,1203.7 L322.9,1201.6 L325.3,1199.4 L327.6,1197.3 L330.0,1195.1 L332.3,1192.8 L334.5,1190.5 L336.7,1188.2 L338.9,1185.9 L341.0,1183.5 L343.2,1181.1 L345.2,1178.6 L347.3,1176.1 L349.3,1173.6 L351.3,1171.1 L353.3,1168.5 L355.2,1166.0 L357.1,1163.4 L359.0,1160.7 L360.8,1158.1 L362.7,1155.4 L364.5,1152.7 L366.2,1150.0 L368.0,1147.3 L369.7,1144.5 L371.5,1141.8 L373.2,1139.0 L374.8,1136.2 L376.5,1133.4 L378.1,1130.6 L379.8,1127.8 L381.4,1125.0 L383.0,1122.2 L384.6,1119.3 L386.1,1116.5 L387.7,1113.6 L389.2,1110.7 L390.7,1107.9 L392.3,1105.0 L393.8,1102.1 L395.2,1099.2 L396.7,1096.3 L398.2,1093.4 L399.6,1090.5 L401.1,1087.6 L402.5,1084.7 L403.9,1081.8 L405.3,1078.8 L406.7,1075.9 L408.1,1073.0 L409.5,1070.0 L410.8,1067.1 L412.2,1064.1 L413.5,1061.2 L414.8,1058.2 L416.2,1055.2 L417.5,1052.3 L418.8,1049.3 L420.1,1046.3 L421.3,1043.3 L422.6,1040.3 L423.9,1037.3 L425.1,1034.3 L426.4,1031.3 L427.6,1028.3 L428.9,1025.3 L430.1,1022.3 L431.3,1019.3 L432.5,1016.3 L433.7,1013.2 L434.9,1010.2 L436.1,1007.2 L437.3,1004.1 L438.5,1001.1 L439.6,998.1 L440.8,995.0 L442.0,992.0 L443.1,989.0 L444.3,985.9 L445.4,982.9 L446.6,979.8 L447.7,976.8 L448.8,973.7 L450.0,970.7 L451.1,967.6 L452.2,964.6 L453.3,961.5 L454.4,958.5 L455.5,955.4 L456.7,952.3 L457.8,949.3 L458.9,946.2 L460.0,943.2 L461.1,940.1 L462.2,937.1 L463.3,934.0 L464.4,930.9 L465.5,927.9 L466.5,924.8 L467.6,921.8 L468.7,918.7 L469.8,915.6 L470.9,912.6 L472.0,909.5 L473.1,906.5 L474.2,903.4 L475.3,900.4 L476.4,897.3 L477.5,894.3 L478.6,891.2 L479.7,888.2 L480.8,885.2 L481.9,882.1 L483.0,879.1 L484.1,876.0 L485.2,873.0 L486.3,870.0 L487.4,867.0 L488.5,863.9 L489.7,860.9 L490.8,857.9 L491.9,854.9 L493.0,851.9 L494.2,848.9 L495.3,845.8 L496.5,842.8 L497.6,839.8 L498.8,836.8 L499.9,833.9 L501.1,830.9 L502.3,827.9 L503.4,824.9 L504.6,821.9 L505.8,818.9 L507.0,815.9 L508.2,812.9 L509.4,809.9 L510.6,806.9 L511.8,803.9 L513.0,800.9 L514.2,797.9 L515.4,794.9 L516.6,791.9 L517.8,788.9 L519.0,785.8 L520.3,782.8 L521.5,779.8 L522.7,776.7 L524.0,773.7 L525.2,770.6 L526.5,767.6 L527.7,764.5 L529.0,761.4 L530.2,758.3 L531.5,755.2 L532.8,752.1 L534.1,749.0 L535.4,746.0 L536.7,742.9 L538.1,739.9 L539.6,736.9 L541.0,734.0 L542.6,731.1 L544.2,728.2 L545.8,725.4 L547.6,722.7 L549.4,720.1 L551.3,717.6 L553.3,715.1 L555.4,712.8 L557.7,710.6 L560.0,708.4 L562.5,706.4 L565.0,704.6 L567.7,702.8 L570.5,701.3 L573.4,699.8 L576.4,698.6 L579.4,697.5 L582.5,696.6 L585.6,695.8 L588.8,695.3 L591.9,694.9 L595.1,694.8 L598.2,694.9 L601.3,695.2 L604.4,695.8 L607.4,696.5 L610.4,697.6 L613.2,698.9 L616.0,700.4 L618.7,702.1 L621.3,704.0 L623.9,706.1 L626.3,708.3 L628.7,710.7 L631.0,713.1 L633.2,715.6 L635.3,718.2 L637.4,720.8 L639.3,723.5 L641.2,726.2 L643.0,728.9 L644.7,731.7 L646.4,734.4 L648.0,737.3 L649.6,740.1 L651.1,743.0 L652.5,745.9 L653.9,748.8 L655.3,751.8 L656.6,754.7 L658.0,757.7 L659.3,760.7 L660.5,763.7 L661.8,766.7 L663.0,769.7 L664.2,772.7 L665.5,775.7 L666.7,778.7 L667.9,781.7 L669.2,784.7 L670.4,787.7 L671.6,790.8 L672.8,793.8 L674.0,796.8 L675.2,799.8 L676.4,802.8 L677.6,805.8 L678.8,808.8 L680.0,811.9 L681.2,814.9 L682.4,817.9 L683.6,820.9 L684.8,823.9 L685.9,827.0 L687.1,830.0 L688.3,833.0 L689.5,836.0 L690.6,839.1 L691.8,842.1 L692.9,845.1 L694.1,848.2 L695.3,851.2 L696.4,854.2 L697.5,857.2 L698.7,860.3 L699.8,863.3 L701.0,866.4 L702.1,869.4 L703.2,872.4 L704.3,875.5 L705.5,878.5 L706.6,881.6 L707.7,884.6 L708.8,887.6 L709.9,890.7 L711.0,893.7 L712.1,896.8 L713.2,899.8 L714.3,902.9 L715.4,905.9 L716.4,909.0 L717.5,912.1 L718.6,915.1 L719.7,918.2 L720.7,921.2 L721.8,924.3 L722.8,927.4 L723.9,930.4 L724.9,933.5 L726.0,936.6 L727.0,939.6 L728.0,942.7 L729.1,945.8 L730.1,948.9 L731.1,951.9 L732.1,955.0 L733.1,958.1 L734.1,961.2 L735.1,964.3 L736.1,967.4 L737.1,970.4 L738.1,973.5 L739.1,976.6 L740.1,979.7 L741.0,982.8 L742.0,985.9 L743.0,989.0 L743.9,992.1 L744.9,995.2 L745.8,998.3 L746.8,1001.4 L747.7,1004.5 L748.7,1007.6 L749.6,1010.8 L750.5,1013.9 L751.5,1017.0 L752.4,1020.1 L753.3,1023.2 L754.2,1026.3 L755.2,1029.4 L756.1,1032.6 L757.0,1035.7 L757.9,1038.8 L758.8,1041.9 L759.7,1045.0 L760.6,1048.2 L761.6,1051.3 L762.5,1054.4 L763.4,1057.5 L764.3,1060.6 L765.2,1063.8 L766.1,1066.9 L767.0,1070.0 L767.9,1073.1 L768.8,1076.3 L769.7,1079.4 L770.6,1082.5 L771.5,1085.6 L772.4,1088.7 L773.4,1091.9 L774.3,1095.0 L775.2,1098.1 L776.1,1101.2 L777.0,1104.3 L777.9,1107.5 L778.9,1110.6 L779.8,1113.7 L780.7,1116.8 L781.6,1119.9 L782.6,1123.0 L783.5,1126.1 L784.4,1129.2 L785.4,1132.4 L786.3,1135.5 L787.3,1138.6 L788.2,1141.7 L789.2,1144.8 L790.2,1147.9 L791.1,1151.0 L792.1,1154.1 L793.1,1157.2 L794.1,1160.3 L795.0,1163.3 L796.0,1166.4 L797.0,1169.5 L798.0,1172.6 L799.0,1175.7 L800.1,1178.8 L801.1,1181.8 L802.1,1184.9 L803.1,1188.0 L804.2,1191.1 L805.2,1194.1 L806.3,1197.2 L807.3,1200.3 L808.4,1203.3 L809.5,1206.4 L810.6,1209.4 L811.7,1212.5 L812.8,1215.5 L813.9,1218.6 L815.0,1221.6 L816.1,1224.7 L817.2,1227.7 L818.4,1230.7 L819.5,1233.7 L820.7,1236.8 L821.9,1239.8 L823.0,1242.8 L824.2,1245.8 L825.4,1248.8 L826.6,1251.8 L827.9,1254.8 L829.1,1257.8 L830.3,1260.8 L831.6,1263.8 L832.8,1266.8 L834.1,1269.8 L835.4,1272.7 L836.7,1275.7 L838.0,1278.7 L839.3,1281.6 L840.7,1284.6 L842.0,1287.5 L843.4,1290.5 L844.7,1293.4 L846.1,1296.4 L847.5,1299.3 L848.9,1302.2 L850.3,1305.2 L851.8,1308.1 L853.2,1311.0 L854.7,1313.9 L856.2,1316.8 L857.6,1319.7 L859.2,1322.6 L860.7,1325.5 L862.2,1328.3 L863.8,1331.2 L865.3,1334.1 L866.9,1336.9 L868.5,1339.8 L870.1,1342.6 L871.7,1345.5 L873.4,1348.3 L875.0,1351.1 L876.7,1354.0 L878.4,1356.8 L880.1,1359.6 L881.8,1362.4 L883.5,1365.1 L885.3,1367.9 L887.1,1370.7 L888.9,1373.4 L890.7,1376.1 L892.5,1378.8 L894.4,1381.5 L896.2,1384.2 L898.1,1386.9 L900.0,1389.5 L902.0,1392.1 L903.9,1394.8 L905.9,1397.3 L907.9,1399.9 L909.9,1402.5 L911.9,1405.0 L914.0,1407.5 L916.0,1410.0 L918.1,1412.4 L920.2,1414.9 L922.4,1417.3 L924.5,1419.7 L926.7,1422.0 L928.9,1424.4 L931.2,1426.7 L933.4,1428.9 L935.7,1431.2 L938.0,1433.4 L940.3,1435.6 L942.7,1437.7 L945.0,1439.9 L947.4,1442.0 L949.9,1444.0 L952.3,1446.1 L954.8,1448.0 L957.3,1450.0 L959.8,1451.9 L962.4,1453.8 L965.0,1455.7 L967.6,1457.5 L970.2,1459.2 L972.9,1461.0 L975.5,1462.7 L978.3,1464.3 L981.0,1465.9 L983.8,1467.5 L986.6,1469.0 L989.4,1470.5 L992.3,1472.0 L995.1,1473.4 L998.0,1474.8 L1000.9,1476.1 L1003.9,1477.4 L1006.9,1478.7 L1009.8,1479.9 L1012.8,1481.1 L1015.9,1482.3 L1018.9,1483.4 L1022.0,1484.6 L1025.0,1485.6 L1028.1,1486.7 L1031.2,1487.7 L1034.4,1488.7 L1037.5,1489.7 L1040.7,1490.6 L1043.8,1491.5 L1047.0,1492.4 L1050.2,1493.3 L1053.4,1494.1 L1056.6,1494.9 L1059.8,1495.7 L1063.0,1496.5 L1066.2,1497.2 L1069.5,1498.0 L1072.7,1498.7 L1076.0,1499.4 L1079.2,1500.0 L1082.5,1500.7 L1085.7,1501.3 L1089.0,1502.0 L1092.2,1502.6 L1095.5,1503.2 L1098.8,1503.7 L1102.0,1504.3 L1105.3,1504.9 L1108.5,1505.4 L1111.8,1505.9 L1115.1,1506.4 L1118.3,1506.9 L1121.6,1507.4 L1124.8,1507.9 L1128.1,1508.4 L1131.3,1508.8 L1134.6,1509.3 L1137.8,1509.7 L1141.1,1510.1 L1144.3,1510.5 L1147.5,1510.9 L1150.8,1511.3 L1154.0,1511.7 L1157.3,1512.1 L1160.5,1512.4 L1163.8,1512.8 L1167.0,1513.1 L1170.2,1513.5 L1173.5,1513.8 L1176.7,1514.1 L1180.0,1514.4 L1183.2,1514.7 L1186.4,1515.0 L1189.7,1515.2 L1192.9,1515.5 L1196.1,1515.7 L1199.4,1516.0 L1202.6,1516.2 L1205.8,1516.5 L1209.0,1516.7 L1212.3,1516.9 L1215.5,1517.1 L1218.7,1517.3 L1222.0,1517.5 L1225.2,1517.7 L1228.4,1517.8 L1231.6,1518.0 L1234.9,1518.2 L1238.1,1518.3 L1241.3,1518.5 L1244.6,1518.6 L1247.8,1518.8 L1251.0,1518.9 L1254.2,1519.0 L1257.4,1519.1 L1260.7,1519.2 L1263.9,1519.3 L1267.1,1519.4 L1270.3,1519.5 L1273.6,1519.6 L1276.8,1519.7 L1280.0,1519.8 L1283.2,1519.9 L1286.5,1519.9 L1289.7,1520.0 L1292.9,1520.1 L1296.1,1520.1 L1299.3,1520.2 L1302.6,1520.2 L1305.8,1520.3 L1309.0,1520.3 L1312.2,1520.4 L1315.4,1520.4 L1318.7,1520.4 L1321.9,1520.5 L1325.1,1520.5 L1328.3,1520.5 L1331.6,1520.5 L1334.8,1520.6 L1338.0,1520.6 L1341.2,1520.6 L1344.5,1520.6 L1347.7,1520.6 L1350.9,1520.6 L1354.1,1520.6 L1357.3,1520.6 L1360.6,1520.7 L1363.8,1520.7 L1367.0,1520.7 L1370.2,1520.7 L1373.5,1520.7 L1376.7,1520.7 L1379.9,1520.7 L1383.2,1520.7 L1386.4,1520.7 L1389.6,1520.7 L1392.8,1520.7 L1396.1,1520.7 L1399.3,1520.7 L1402.5,1520.7 L1405.8,1520.7 L1409.0,1520.7 L1412.2,1520.7 L1415.5,1520.7 L1418.7,1520.7 L1421.9,1520.7 L1425.2,1520.7 L1428.4,1520.7 L1431.6,1520.7 L1434.9,1520.7 L1438.1,1520.8 L1441.3,1520.8 L1444.6,1520.8 L1447.8,1520.8 L1451.0,1520.8 L1454.3,1520.8 L1457.5,1520.8 L1460.8,1520.8 L1464.0,1520.9 L1467.2,1520.9 L1470.5,1520.9 L1473.7,1520.9 L1477.0,1520.9 L1480.2,1520.9 L1483.4,1521.0 L1486.7,1521.0 L1489.9,1521.0 L1493.2,1521.0 L1496.4,1521.0 L1499.7,1521.1 L1502.9,1521.1 L1506.1,1521.1 L1509.4,1521.1 L1512.6,1521.1 L1515.9,1521.2 L1519.1,1521.2 L1522.4,1521.2 L1525.6,1521.2 L1528.9,1521.3 L1532.1,1521.3 L1535.4,1521.3 L1538.6,1521.3 L1541.9,1521.4 L1545.1,1521.4 L1548.4,1521.4 L1551.6,1521.4 L1554.9,1521.5 L1558.1,1521.5 L1561.4,1521.5 L1564.6,1521.5 L1567.9,1521.6 L1571.1,1521.6 L1574.4,1521.6 L1577.6,1521.7 L1580.9,1521.7 L1584.1,1521.7 L1587.4,1521.7 L1590.6,1521.8 L1593.9,1521.8 L1597.1,1521.8 L1600.4,1521.9 L1603.6,1521.9 L1606.9,1521.9 L1610.1,1522.0 L1613.4,1522.0 L1616.6,1522.0 L1619.9,1522.0 L1623.1,1522.1 L1626.4,1522.1 L1629.6,1522.1 L1632.9,1522.2 L1636.1,1522.2 L1639.4,1522.2 L1642.7,1522.3 L1645.9,1522.3 L1649.2,1522.3 L1652.4,1522.4 L1655.7,1522.4 L1658.9,1522.4 L1662.2,1522.5 L1665.4,1522.5 L1668.7,1522.5 L1671.9,1522.6 L1675.2,1522.6 L1678.4,1522.6 L1681.7,1522.7 L1685.0,1522.7 L1688.2,1522.7 L1691.5,1522.8 L1694.7,1522.8 L1698.0,1522.8 L1701.2,1522.9 L1704.5,1522.9 L1707.7,1522.9 L1711.0,1523.0 L1714.2,1523.0 L1717.5,1523.0 L1720.7,1523.1 L1724.0,1523.1 L1727.2,1523.1 L1730.5,1523.2 L1733.8,1523.2 L1737.0,1523.2 L1740.3,1523.3 L1743.5,1523.3 L1746.8,1523.3 L1750.0,1523.4 L1753.3,1523.4 L1756.5,1523.4 L1759.8,1523.5 L1763.0,1523.5 L1766.3,1523.5 L1769.5,1523.6 L1772.8,1523.6 L1776.0,1523.6 L1779.3,1523.6 L1782.5,1523.7 L1785.8,1523.7 L1789.0,1523.7 L1792.3,1523.8 L1795.5,1523.8 L1798.8,1523.8 L1802.0,1523.9 L1805.3,1523.9 L1808.5,1523.9 L1811.8,1523.9 L1815.0,1524.0 L1818.3,1524.0 L1821.5,1524.0 L1824.8,1524.1 L1828.0,1524.1 L1831.2,1524.1 L1834.5,1524.1 L1837.7,1524.2 L1841.0,1524.2 L1844.2,1524.2 L1847.5,1524.2 L1850.7,1524.3 L1854.0,1524.3 L1857.2,1524.3 L1860.5,1524.3 L1863.7,1524.4 L1866.9,1524.4 L1870.2,1524.4 L1873.4,1524.4 L1876.7,1524.5 L1879.9,1524.5 L1883.2,1524.5 L1886.4,1524.5 L1889.7,1524.6 L1892.9,1524.6 L1896.1,1524.6 L1899.4,1524.6 L1902.6,1524.6 L1905.9,1524.7 L1909.1,1524.7 L1912.4,1524.7 L1915.6,1524.7 L1918.8,1524.8 L1922.1,1524.8 L1925.3,1524.8 L1928.6,1524.8 L1931.8,1524.8 L1935.1,1524.9 L1938.3,1524.9 L1941.5,1524.9 L1944.8,1524.9 L1948.0,1524.9 L1951.3,1525.0 L1954.5,1525.0 L1957.7,1525.0 L1961.0,1525.0 L1964.2,1525.0 L1967.5,1525.0 L1970.7,1525.1 L1973.9,1525.1 L1977.2,1525.1 L1980.4,1525.1 L1983.7,1525.1 L1986.9,1525.1 L1990.1,1525.2 L1993.4,1525.2 L1996.6,1525.2 L1999.9,1525.2 L2003.1,1525.2 L2006.4,1525.2 L2009.6,1525.2 L2012.8,1525.3 L2016.1,1525.3 L2019.3,1525.3 L2022.6,1525.3 L2025.8,1525.3 L2029.0,1525.3 L2032.3,1525.3 L2035.5,1525.3 L2038.8,1525.4 L2042.0,1525.4 L2045.2,1525.4 L2048.5,1525.4 L2051.7,1525.4 L2055.0,1525.4 L2058.2,1525.4 L2061.4,1525.4 L2064.7,1525.4 L2067.9,1525.5 L2071.2,1525.5 L2074.4,1525.5 L2077.6,1525.5 L2080.9,1525.5 L2084.1,1525.5 L2087.4,1525.5 L2090.6,1525.5 L2093.8,1525.5 L2097.1,1525.5 L2100.3,1525.5 L2103.6,1525.5 L2106.8,1525.6 L2110.0,1525.6 L2113.3,1525.6 L2116.5,1525.6 L2119.8,1525.6 L2123.0,1525.6 L2126.2,1525.6 L2129.5,1525.6 L2132.7,1525.6 L2136.0,1525.6 L2139.2,1525.6 L2142.5,1525.6 L2145.7,1525.6 L2148.9,1525.6 L2152.2,1525.6 L2155.4,1525.6 L2158.7,1525.6 L2161.9,1525.6 L2165.2,1525.6 L2168.4,1525.6 L2171.6,1525.6 L2174.9,1525.6 L2178.1,1525.6 L2181.4,1525.6 L2184.6,1525.6 L2187.9,1525.6 L2191.1,1525.6 L2194.3,1525.6 L2197.6,1525.6 L2200.8,1525.6 L2204.1,1525.6 L2207.3,1525.6 L2210.6,1525.6 L2213.8,1525.6 L2217.0,1525.6 L2220.3,1525.6 L2223.5,1525.6 L2226.8,1525.6 L2230.0,1525.6 L2233.3,1525.6 L2236.5,1525.6 L2239.8,1525.6 L2243.0,1525.6 L2246.3,1525.6 L2249.5,1525.6 L2252.8,1525.6 L2256.0,1525.6 L2259.2,1525.6 L2262.5,1525.6 L2265.7,1525.6 L2269.0,1525.6 L2272.2,1525.5 L2275.5,1525.5 L2278.7,1525.5 L2282.0,1525.5 L2285.2,1525.5 L2288.5,1525.5 L2291.7,1525.5 L2295.0,1525.5 L2298.2,1525.5 L2301.5,1525.5 L2304.7,1525.5 L2308.0,1525.5 L2311.2,1525.5 L2314.5,1525.4 L2317.7,1525.4 L2321.0,1525.4 L2324.2,1525.4 L2327.5,1525.4 L2330.7,1525.4 L2334.0,1525.4 L2337.3,1525.4 L2340.5,1525.4 L2343.8,1525.3 L2347.0,1525.3 L2350.3,1525.3 L2353.5,1525.3 L2356.8,1525.3 L2360.0,1525.3" fill="none" stroke="#0000ff" stroke-width="12.2" stroke-linejoin="round" stroke-linecap="butt"/>
<path d="M276.0,1208.2 L278.7,1208.4 L281.4,1208.6 L284.2,1208.8 L286.9,1208.9 L289.7,1209.0 L292.4,1209.1 L295.2,1209.1 L297.9,1209.1 L300.7,1209.1 L303.5,1209.0 L306.3,1208.9 L309.0,1208.8 L311.8,1208.6 L314.6,1208.4 L317.3,1208.2 L320.1,1207.9 L322.8,1207.6 L325.6,1207.2 L328.3,1206.9 L331.1,1206.4 L333.8,1206.0 L336.5,1205.5 L339.2,1204.9 L341.9,1204.4 L344.6,1203.7 L347.2,1203.1 L349.9,1202.4 L352.5,1201.6 L355.1,1200.9 L357.8,1200.0 L360.3,1199.2 L362.9,1198.3 L365.5,1197.3 L368.0,1196.3 L370.5,1195.3 L373.0,1194.2 L375.4,1193.1 L377.9,1191.9 L380.3,1190.7 L382.7,1189.4 L385.0,1188.1 L387.4,1186.8 L389.7,1185.4 L392.0,1183.9 L394.2,1182.5 L396.4,1181.0 L398.7,1179.4 L400.9,1177.8 L403.0,1176.2 L405.2,1174.5 L407.3,1172.8 L409.4,1171.1 L411.5,1169.3 L413.5,1167.5 L415.6,1165.7 L417.6,1163.9 L419.6,1162.0 L421.5,1160.1 L423.5,1158.1 L425.4,1156.1 L427.3,1154.2 L429.2,1152.1 L431.1,1150.1 L433.0,1148.0 L434.8,1146.0 L436.6,1143.8 L438.4,1141.7 L440.2,1139.6 L441.9,1137.4 L443.7,1135.2 L445.4,1133.0 L447.1,1130.8 L448.8,1128.6 L450.5,1126.4 L452.1,1124.1 L453.8,1121.9 L455.4,1119.6 L457.0,1117.3 L458.6,1115.0 L460.2,1112.7 L461.8,1110.4 L463.3,1108.1 L464.9,1105.8 L466.4,1103.5 L467.9,1101.2 L469.4,1098.9 L470.9,1096.6 L472.4,1094.2 L473.8,1091.9 L475.3,1089.6 L476.7,1087.3 L478.2,1084.9 L479.6,1082.6 L481.0,1080.3 L482.4,1078.0 L483.8,1075.6 L485.2,1073.3 L486.7,1071.0 L488.1,1068.7 L489.5,1066.4 L490.9,1064.0 L492.3,1061.7 L493.7,1059.4 L495.1,1057.1 L496.5,1054.8 L498.0,1052.5 L499.4,1050.2 L500.8,1047.9 L502.3,1045.6 L503.7,1043.3 L505.2,1041.0 L506.7,1038.7 L508.2,1036.4 L509.7,1034.1 L511.2,1031.8 L512.7,1029.6 L514.3,1027.3 L515.8,1025.0 L517.4,1022.8 L519.0,1020.5 L520.7,1018.3 L522.3,1016.0 L524.0,1013.8 L525.6,1011.6 L527.4,1009.3 L529.1,1007.1 L530.9,1004.9 L532.7,1002.7 L534.5,1000.5 L536.3,998.3 L538.2,996.2 L540.1,994.0 L542.0,991.9 L544.0,989.9 L546.0,987.9 L548.0,985.9 L550.0,984.0 L552.1,982.1 L554.2,980.3 L556.4,978.6 L558.6,977.0 L560.8,975.4 L563.0,973.9 L565.3,972.5 L567.7,971.2 L570.0,970.0 L572.4,968.9 L574.8,968.0 L577.3,967.1 L579.8,966.4 L582.3,965.7 L584.8,965.2 L587.4,964.8 L590.0,964.6 L592.6,964.4 L595.2,964.4 L597.8,964.5 L600.4,964.8 L602.9,965.1 L605.5,965.6 L608.1,966.2 L610.7,966.9 L613.2,967.7 L615.7,968.6 L618.2,969.6 L620.7,970.7 L623.1,971.9 L625.5,973.2 L627.9,974.6 L630.2,976.0 L632.5,977.6 L634.8,979.2 L637.0,980.9 L639.1,982.6 L641.2,984.5 L643.2,986.3 L645.2,988.3 L647.1,990.3 L649.0,992.3 L650.9,994.4 L652.7,996.5 L654.5,998.7 L656.3,1000.9 L658.0,1003.1 L659.7,1005.3 L661.4,1007.5 L663.0,1009.7 L664.6,1012.0 L666.2,1014.3 L667.8,1016.6 L669.4,1018.9 L670.9,1021.2 L672.4,1023.5 L673.9,1025.8 L675.4,1028.2 L676.8,1030.5 L678.3,1032.9 L679.7,1035.3 L681.1,1037.6 L682.4,1040.0 L683.8,1042.4 L685.1,1044.8 L686.5,1047.3 L687.8,1049.7 L689.1,1052.1 L690.4,1054.6 L691.6,1057.0 L692.9,1059.5 L694.2,1061.9 L695.4,1064.4 L696.6,1066.9 L697.8,1069.3 L699.0,1071.8 L700.2,1074.3 L701.4,1076.8 L702.6,1079.3 L703.8,1081.8 L704.9,1084.3 L706.1,1086.8 L707.3,1089.3 L708.4,1091.8 L709.6,1094.3 L710.7,1096.8 L711.8,1099.3 L713.0,1101.8 L714.1,1104.4 L715.2,1106.9 L716.4,1109.4 L717.5,1111.9 L718.6,1114.4 L719.8,1116.9 L720.9,1119.4 L722.1,1121.9 L723.2,1124.4 L724.3,1126.9 L725.5,1129.4 L726.7,1131.9 L727.8,1134.4 L729.0,1136.9 L730.1,1139.3 L731.3,1141.8 L732.5,1144.3 L733.7,1146.7 L734.9,1149.2 L736.1,1151.7 L737.3,1154.1 L738.5,1156.6 L739.7,1159.0 L740.9,1161.5 L742.1,1163.9 L743.3,1166.4 L744.5,1168.8 L745.7,1171.3 L747.0,1173.7 L748.2,1176.2 L749.4,1178.6 L750.7,1181.0 L751.9,1183.5 L753.1,1185.9 L754.4,1188.3 L755.6,1190.7 L756.9,1193.2 L758.1,1195.6 L759.4,1198.0 L760.6,1200.4 L761.9,1202.9 L763.2,1205.3 L764.4,1207.7 L765.7,1210.1 L767.0,1212.5 L768.3,1215.0 L769.5,1217.4 L770.8,1219.8 L772.1,1222.2 L773.4,1224.6 L774.7,1227.0 L775.9,1229.4 L777.2,1231.9 L778.5,1234.3 L779.8,1236.7 L781.1,1239.1 L782.4,1241.5 L783.7,1244.0 L785.0,1246.4 L786.3,1248.8 L787.6,1251.2 L788.9,1253.6 L790.2,1256.1 L791.5,1258.5 L792.8,1260.9 L794.1,1263.3 L795.4,1265.8 L796.7,1268.2 L798.0,1270.6 L799.3,1273.0 L800.6,1275.5 L801.9,1277.9 L803.2,1280.4 L804.5,1282.8 L805.8,1285.2 L807.1,1287.7 L808.4,1290.1 L809.7,1292.6 L811.0,1295.0 L812.4,1297.5 L813.7,1299.9 L815.0,1302.3 L816.3,1304.8 L817.6,1307.2 L819.0,1309.7 L820.3,1312.1 L821.6,1314.5 L823.0,1317.0 L824.3,1319.4 L825.7,1321.8 L827.1,1324.2 L828.4,1326.6 L829.8,1329.0 L831.2,1331.4 L832.6,1333.8 L834.0,1336.2 L835.4,1338.6 L836.8,1341.0 L838.3,1343.3 L839.7,1345.7 L841.2,1348.0 L842.6,1350.3 L844.1,1352.7 L845.6,1355.0 L847.1,1357.3 L848.6,1359.6 L850.2,1361.9 L851.7,1364.1 L853.3,1366.4 L854.9,1368.6 L856.4,1370.9 L858.0,1373.1 L859.7,1375.3 L861.3,1377.5 L863.0,1379.6 L864.6,1381.8 L866.3,1383.9 L868.0,1386.1 L869.7,1388.2 L871.5,1390.3 L873.3,1392.3 L875.0,1394.4 L876.8,1396.4 L878.7,1398.4 L880.5,1400.4 L882.4,1402.4 L884.3,1404.4 L886.2,1406.3 L888.1,1408.3 L890.0,1410.2 L892.0,1412.0 L894.0,1413.9 L896.0,1415.8 L898.0,1417.6 L900.0,1419.4 L902.1,1421.2 L904.2,1422.9 L906.3,1424.7 L908.4,1426.4 L910.5,1428.1 L912.7,1429.8 L914.8,1431.5 L917.0,1433.1 L919.2,1434.8 L921.4,1436.4 L923.6,1438.0 L925.9,1439.6 L928.1,1441.1 L930.4,1442.7 L932.7,1444.2 L935.0,1445.7 L937.3,1447.2 L939.6,1448.6 L942.0,1450.1 L944.3,1451.5 L946.7,1452.9 L949.1,1454.3 L951.5,1455.7 L953.9,1457.0 L956.3,1458.4 L958.7,1459.7 L961.2,1461.0 L963.6,1462.2 L966.1,1463.5 L968.5,1464.7 L971.0,1465.9 L973.5,1467.1 L976.0,1468.3 L978.5,1469.5 L981.0,1470.6 L983.6,1471.8 L986.1,1472.9 L988.6,1473.9 L991.2,1475.0 L993.8,1476.1 L996.3,1477.1 L998.9,1478.1 L1001.5,1479.1 L1004.1,1480.1 L1006.7,1481.0 L1009.3,1482.0 L1011.9,1482.9 L1014.5,1483.8 L1017.1,1484.7 L1019.7,1485.5 L1022.3,1486.4 L1025.0,1487.2 L1027.6,1488.0 L1030.3,1488.8 L1032.9,1489.6 L1035.5,1490.3 L1038.2,1491.1 L1040.8,1491.8 L1043.5,1492.5 L1046.2,1493.2 L1048.8,1493.8 L1051.5,1494.5 L1054.2,1495.1 L1056.8,1495.7 L1059.5,1496.3 L1062.2,1496.9 L1064.9,1497.5 L1067.6,1498.1 L1070.2,1498.6 L1072.9,1499.1 L1075.6,1499.7 L1078.3,1500.2 L1081.0,1500.7 L1083.7,1501.1 L1086.4,1501.6 L1089.1,1502.1 L1091.8,1502.5 L1094.5,1502.9 L1097.2,1503.4 L1100.0,1503.8 L1102.7,1504.2 L1105.4,1504.6 L1108.1,1504.9 L1110.8,1505.3 L1113.5,1505.7 L1116.3,1506.0 L1119.0,1506.4 L1121.7,1506.7 L1124.4,1507.1 L1127.1,1507.4 L1129.9,1507.7 L1132.6,1508.0 L1135.3,1508.3 L1138.1,1508.6 L1140.8,1508.9 L1143.5,1509.2 L1146.2,1509.5 L1149.0,1509.7 L1151.7,1510.0 L1154.4,1510.3 L1157.2,1510.5 L1159.9,1510.8 L1162.6,1511.0 L1165.4,1511.3 L1168.1,1511.5 L1170.8,1511.8 L1173.6,1512.0 L1176.3,1512.3 L1179.0,1512.5 L1181.8,1512.7 L1184.5,1512.9 L1187.2,1513.1 L1190.0,1513.4 L1192.7,1513.6 L1195.4,1513.8 L1198.2,1514.0 L1200.9,1514.2 L1203.6,1514.4 L1206.4,1514.5 L1209.1,1514.7 L1211.9,1514.9 L1214.6,1515.1 L1217.3,1515.3 L1220.1,1515.4 L1222.8,1515.6 L1225.5,1515.8 L1228.3,1515.9 L1231.0,1516.1 L1233.8,1516.2 L1236.5,1516.4 L1239.2,1516.5 L1242.0,1516.7 L1244.7,1516.8 L1247.5,1517.0 L1250.2,1517.1 L1253.0,1517.2 L1255.7,1517.3 L1258.4,1517.5 L1261.2,1517.6 L1263.9,1517.7 L1266.7,1517.8 L1269.4,1517.9 L1272.1,1518.0 L1274.9,1518.2 L1277.6,1518.3 L1280.4,1518.4 L1283.1,1518.5 L1285.9,1518.6 L1288.6,1518.7 L1291.4,1518.7 L1294.1,1518.8 L1296.8,1518.9 L1299.6,1519.0 L1302.3,1519.1 L1305.1,1519.2 L1307.8,1519.2 L1310.6,1519.3 L1313.3,1519.4 L1316.1,1519.5 L1318.8,1519.5 L1321.6,1519.6 L1324.3,1519.7 L1327.0,1519.7 L1329.8,1519.8 L1332.5,1519.8 L1335.3,1519.9 L1338.0,1519.9 L1340.8,1520.0 L1343.5,1520.0 L1346.3,1520.1 L1349.0,1520.1 L1351.8,1520.2 L1354.5,1520.2 L1357.3,1520.3 L1360.0,1520.3 L1362.8,1520.3 L1365.5,1520.4 L1368.3,1520.4 L1371.0,1520.4 L1373.8,1520.5 L1376.5,1520.5 L1379.3,1520.5 L1382.0,1520.6 L1384.7,1520.6 L1387.5,1520.6 L1390.2,1520.6 L1393.0,1520.7 L1395.7,1520.7 L1398.5,1520.7 L1401.2,1520.7 L1404.0,1520.7 L1406.7,1520.8 L1409.5,1520.8 L1412.2,1520.8 L1415.0,1520.8 L1417.7,1520.8 L1420.5,1520.8 L1423.2,1520.8 L1426.0,1520.9 L1428.7,1520.9 L1431.5,1520.9 L1434.2,1520.9 L1437.0,1520.9 L1439.7,1520.9 L1442.5,1520.9 L1445.2,1520.9 L1448.0,1520.9 L1450.7,1520.9 L1453.5,1520.9 L1456.2,1520.9 L1459.0,1520.9 L1461.7,1521.0 L1464.5,1521.0 L1467.2,1521.0 L1470.0,1521.0 L1472.7,1521.0 L1475.5,1521.0 L1478.2,1521.0 L1481.0,1521.0 L1483.7,1521.0 L1486.5,1521.0 L1489.2,1521.0 L1492.0,1521.0 L1494.7,1521.0 L1497.5,1521.0 L1500.2,1521.0 L1503.0,1521.0 L1505.7,1521.0 L1508.5,1521.0 L1511.2,1521.0 L1514.0,1521.1 L1516.7,1521.1 L1519.5,1521.1 L1522.2,1521.1 L1525.0,1521.1 L1527.7,1521.1 L1530.5,1521.1 L1533.2,1521.1 L1536.0,1521.1 L1538.7,1521.1 L1541.5,1521.1 L1544.2,1521.2 L1547.0,1521.2 L1549.7,1521.2 L1552.5,1521.2 L1555.2,1521.2 L1558.0,1521.2 L1560.7,1521.2 L1563.5,1521.2 L1566.2,1521.3 L1569.0,1521.3 L1571.7,1521.3 L1574.5,1521.3 L1577.2,1521.3 L1580.0,1521.3 L1582.7,1521.4 L1585.5,1521.4 L1588.2,1521.4 L1590.9,1521.4 L1593.7,1521.4 L1596.4,1521.4 L1599.2,1521.5 L1601.9,1521.5 L1604.7,1521.5 L1607.4,1521.5 L1610.2,1521.5 L1612.9,1521.5 L1615.7,1521.6 L1618.4,1521.6 L1621.2,1521.6 L1623.9,1521.6 L1626.7,1521.6 L1629.4,1521.7 L1632.2,1521.7 L1634.9,1521.7 L1637.7,1521.7 L1640.4,1521.8 L1643.2,1521.8 L1645.9,1521.8 L1648.6,1521.8 L1651.4,1521.8 L1654.1,1521.9 L1656.9,1521.9 L1659.6,1521.9 L1662.4,1521.9 L1665.1,1522.0 L1667.9,1522.0 L1670.6,1522.0 L1673.4,1522.0 L1676.1,1522.1 L1678.9,1522.1 L1681.6,1522.1 L1684.4,1522.1 L1687.1,1522.2 L1689.9,1522.2 L1692.6,1522.2 L1695.3,1522.2 L1698.1,1522.3 L1700.8,1522.3 L1703.6,1522.3 L1706.3,1522.3 L1709.1,1522.4 L1711.8,1522.4 L1714.6,1522.4 L1717.3,1522.4 L1720.1,1522.5 L1722.8,1522.5 L1725.6,1522.5 L1728.3,1522.5 L1731.1,1522.6 L1733.8,1522.6 L1736.5,1522.6 L1739.3,1522.7 L1742.0,1522.7 L1744.8,1522.7 L1747.5,1522.7 L1750.3,1522.8 L1753.0,1522.8 L1755.8,1522.8 L1758.5,1522.9 L1761.3,1522.9 L1764.0,1522.9 L1766.8,1522.9 L1769.5,1523.0 L1772.2,1523.0 L1775.0,1523.0 L1777.7,1523.1 L1780.5,1523.1 L1783.2,1523.1 L1786.0,1523.1 L1788.7,1523.2 L1791.5,1523.2 L1794.2,1523.2 L1797.0,1523.3 L1799.7,1523.3 L1802.5,1523.3 L1805.2,1523.3 L1807.9,1523.4 L1810.7,1523.4 L1813.4,1523.4 L1816.2,1523.5 L1818.9,1523.5 L1821.7,1523.5 L1824.4,1523.5 L1827.2,1523.6 L1829.9,1523.6 L1832.7,1523.6 L1835.4,1523.7 L1838.1,1523.7 L1840.9,1523.7 L1843.6,1523.8 L1846.4,1523.8 L1849.1,1523.8 L1851.9,1523.8 L1854.6,1523.9 L1857.4,1523.9 L1860.1,1523.9 L1862.9,1524.0 L1865.6,1524.0 L1868.3,1524.0 L1871.1,1524.0 L1873.8,1524.1 L1876.6,1524.1 L1879.3,1524.1 L1882.1,1524.2 L1884.8,1524.2 L1887.6,1524.2 L1890.3,1524.2 L1893.1,1524.3 L1895.8,1524.3 L1898.5,1524.3 L1901.3,1524.4 L1904.0,1524.4 L1906.8,1524.4 L1909.5,1524.4 L1912.3,1524.5 L1915.0,1524.5 L1917.8,1524.5 L1920.5,1524.6 L1923.3,1524.6 L1926.0,1524.6 L1928.7,1524.6 L1931.5,1524.7 L1934.2,1524.7 L1937.0,1524.7 L1939.7,1524.7 L1942.5,1524.8 L1945.2,1524.8 L1948.0,1524.8 L1950.7,1524.8 L1953.5,1524.9 L1956.2,1524.9 L1958.9,1524.9 L1961.7,1524.9 L1964.4,1525.0 L1967.2,1525.0 L1969.9,1525.0 L1972.7,1525.0 L1975.4,1525.1 L1978.2,1525.1 L1980.9,1525.1 L1983.7,1525.1 L1986.4,1525.2 L1989.1,1525.2 L1991.9,1525.2 L1994.6,1525.2 L1997.4,1525.3 L2000.1,1525.3 L2002.9,1525.3 L2005.6,1525.3 L2008.4,1525.4 L2011.1,1525.4 L2013.9,1525.4 L2016.6,1525.4 L2019.3,1525.4 L2022.1,1525.5 L2024.8,1525.5 L2027.6,1525.5 L2030.3,1525.5 L2033.1,1525.5 L2035.8,1525.6 L2038.6,1525.6 L2041.3,1525.6 L2044.1,1525.6 L2046.8,1525.6 L2049.6,1525.7 L2052.3,1525.7 L2055.0,1525.7 L2057.8,1525.7 L2060.5,1525.7 L2063.3,1525.7 L2066.0,1525.8 L2068.8,1525.8 L2071.5,1525.8 L2074.3,1525.8 L2077.0,1525.8 L2079.8,1525.8 L2082.5,1525.9 L2085.2,1525.9 L2088.0,1525.9 L2090.7,1525.9 L2093.5,1525.9 L2096.2,1525.9 L2099.0,1525.9 L2101.7,1525.9 L2104.5,1526.0 L2107.2,1526.0 L2110.0,1526.0 L2112.7,1526.0 L2115.5,1526.0 L2118.2,1526.0 L2121.0,1526.0 L2123.7,1526.0 L2126.4,1526.0 L2129.2,1526.1 L2131.9,1526.1 L2134.7,1526.1 L2137.4,1526.1 L2140.2,1526.1 L2142.9,1526.1 L2145.7,1526.1 L2148.4,1526.1 L2151.2,1526.1 L2153.9,1526.1 L2156.7,1526.1 L2159.4,1526.1 L2162.1,1526.1 L2164.9,1526.1 L2167.6,1526.1 L2170.4,1526.1 L2173.1,1526.1 L2175.9,1526.1 L2178.6,1526.1 L2181.4,1526.1 L2184.1,1526.1 L2186.9,1526.1 L2189.6,1526.1 L2192.4,1526.1 L2195.1,1526.1 L2197.9,1526.1 L2200.6,1526.1 L2203.4,1526.1 L2206.1,1526.1 L2208.8,1526.1 L2211.6,1526.1 L2214.3,1526.1 L2217.1,1526.1 L2219.8,1526.1 L2222.6,1526.1 L2225.3,1526.1 L2228.1,1526.1 L2230.8,1526.1 L2233.6,1526.1 L2236.3,1526.1 L2239.1,1526.1 L2241.8,1526.1 L2244.6,1526.1 L2247.3,1526.0 L2250.1,1526.0 L2252.8,1526.0 L2255.6,1526.0 L2258.3,1526.0 L2261.1,1526.0 L2263.8,1526.0 L2266.6,1526.0 L2269.3,1525.9 L2272.0,1525.9 L2274.8,1525.9 L2277.5,1525.9 L2280.3,1525.9 L2283.0,1525.9 L2285.8,1525.8 L2288.5,1525.8 L2291.3,1525.8 L2294.0,1525.8 L2296.8,1525.8 L2299.5,1525.8 L2302.3,1525.7 L2305.0,1525.7 L2307.8,1525.7 L2310.5,1525.7 L2313.3,1525.6 L2316.0,1525.6 L2318.8,1525.6 L2321.5,1525.6 L2324.3,1525.5 L2327.0,1525.5 L2329.8,1525.5 L2332.5,1525.5 L2335.3,1525.4 L2338.0,1525.4 L2340.8,1525.4 L2343.5,1525.3 L2346.3,1525.3 L2349.0,1525.3 L2351.8,1525.2 L2354.5,1525.2 L2357.3,1525.2 L2360.0,1525.1" fill="none" stroke="#ff00ff" stroke-width="11.6" stroke-linejoin="round" stroke-linecap="butt"/>
<path d="M276.5,1194.4 L278.9,1194.6 L281.3,1194.8 L283.7,1195.2 L286.1,1195.6 L288.4,1196.1 L290.8,1196.7 L293.1,1197.4 L295.4,1198.1 L297.6,1198.9 L299.9,1199.7 L302.1,1200.6 L304.4,1201.6 L306.6,1202.6 L308.8,1203.7 L311.0,1204.8 L313.1,1206.0 L315.3,1207.1 L317.5,1208.4 L319.6,1209.6 L321.8,1210.9 L323.9,1212.2 L326.1,1213.6 L328.2,1214.9 L330.3,1216.3 L332.4,1217.7 L334.6,1219.1 L336.7,1220.5 L338.8,1221.9 L341.0,1223.3 L343.1,1224.6 L345.2,1226.0 L347.4,1227.4 L349.5,1228.8 L351.7,1230.1 L353.9,1231.4 L356.1,1232.7 L358.2,1234.0 L360.5,1235.2 L362.7,1236.4 L364.9,1237.5 L367.1,1238.7 L369.4,1239.7 L371.7,1240.7 L374.0,1241.7 L376.3,1242.6 L378.6,1243.5 L381.0,1244.3 L383.3,1245.0 L385.7,1245.7 L388.1,1246.3 L390.6,1246.8 L393.0,1247.3 L395.5,1247.7 L397.9,1248.1 L400.4,1248.4 L402.8,1248.7 L405.3,1248.8 L407.8,1249.0 L410.3,1249.0 L412.8,1249.0 L415.3,1249.0 L417.7,1248.9 L420.2,1248.7 L422.7,1248.5 L425.1,1248.2 L427.6,1247.8 L430.1,1247.4 L432.5,1247.0 L434.9,1246.5 L437.3,1245.9 L439.7,1245.2 L442.1,1244.6 L444.4,1243.8 L446.7,1243.0 L449.1,1242.2 L451.3,1241.2 L453.6,1240.3 L455.8,1239.3 L458.0,1238.2 L460.2,1237.1 L462.4,1235.9 L464.5,1234.7 L466.6,1233.4 L468.7,1232.1 L470.8,1230.8 L472.8,1229.4 L474.9,1228.0 L476.9,1226.5 L478.9,1225.0 L480.9,1223.6 L482.9,1222.0 L484.9,1220.5 L486.8,1218.9 L488.8,1217.4 L490.8,1215.8 L492.7,1214.2 L494.7,1212.6 L496.7,1211.0 L498.6,1209.4 L500.6,1207.7 L502.6,1206.1 L504.5,1204.5 L506.5,1202.9 L508.5,1201.3 L510.5,1199.7 L512.5,1198.2 L514.5,1196.6 L516.6,1195.1 L518.6,1193.6 L520.7,1192.1 L522.8,1190.7 L524.9,1189.2 L527.0,1187.9 L529.2,1186.5 L531.3,1185.2 L533.5,1183.9 L535.8,1182.6 L538.0,1181.4 L540.2,1180.3 L542.5,1179.1 L544.8,1178.1 L547.1,1177.0 L549.4,1176.0 L551.8,1175.1 L554.1,1174.2 L556.5,1173.3 L558.8,1172.5 L561.2,1171.7 L563.6,1171.0 L566.0,1170.3 L568.4,1169.7 L570.8,1169.1 L573.2,1168.6 L575.6,1168.2 L578.1,1167.8 L580.5,1167.4 L582.9,1167.1 L585.3,1166.9 L587.7,1166.7 L590.2,1166.5 L592.6,1166.5 L595.0,1166.5 L597.4,1166.5 L599.8,1166.6 L602.2,1166.8 L604.6,1167.0 L606.9,1167.3 L609.3,1167.7 L611.6,1168.1 L614.0,1168.6 L616.3,1169.2 L618.6,1169.8 L620.9,1170.6 L623.2,1171.3 L625.4,1172.2 L627.7,1173.1 L629.9,1174.1 L632.1,1175.1 L634.3,1176.3 L636.5,1177.4 L638.6,1178.7 L640.8,1180.0 L642.9,1181.3 L645.0,1182.7 L647.1,1184.1 L649.1,1185.6 L651.2,1187.1 L653.2,1188.7 L655.2,1190.3 L657.2,1191.9 L659.2,1193.5 L661.2,1195.2 L663.1,1196.9 L665.1,1198.6 L667.0,1200.4 L668.9,1202.1 L670.8,1203.9 L672.6,1205.6 L674.5,1207.4 L676.3,1209.2 L678.2,1210.9 L680.0,1212.7 L681.8,1214.5 L683.6,1216.3 L685.4,1218.0 L687.1,1219.8 L688.9,1221.6 L690.6,1223.4 L692.4,1225.2 L694.1,1227.0 L695.8,1228.8 L697.5,1230.6 L699.2,1232.4 L700.9,1234.2 L702.6,1236.0 L704.2,1237.8 L705.9,1239.6 L707.6,1241.4 L709.2,1243.3 L710.9,1245.1 L712.5,1246.9 L714.1,1248.8 L715.7,1250.6 L717.4,1252.5 L719.0,1254.3 L720.6,1256.2 L722.2,1258.1 L723.8,1260.0 L725.4,1261.8 L727.0,1263.7 L728.6,1265.6 L730.2,1267.5 L731.8,1269.4 L733.3,1271.3 L734.9,1273.3 L736.5,1275.2 L738.1,1277.1 L739.7,1279.0 L741.3,1281.0 L742.8,1282.9 L744.4,1284.9 L746.0,1286.8 L747.6,1288.7 L749.1,1290.7 L750.7,1292.6 L752.3,1294.6 L753.8,1296.5 L755.4,1298.5 L757.0,1300.5 L758.6,1302.4 L760.1,1304.4 L761.7,1306.3 L763.3,1308.3 L764.9,1310.3 L766.4,1312.2 L768.0,1314.2 L769.6,1316.1 L771.2,1318.1 L772.8,1320.1 L774.4,1322.0 L776.0,1324.0 L777.5,1325.9 L779.1,1327.9 L780.7,1329.8 L782.3,1331.8 L783.9,1333.7 L785.6,1335.7 L787.2,1337.6 L788.8,1339.5 L790.4,1341.4 L792.0,1343.4 L793.6,1345.3 L795.3,1347.2 L796.9,1349.1 L798.5,1351.0 L800.2,1352.9 L801.8,1354.8 L803.5,1356.7 L805.2,1358.6 L806.8,1360.5 L808.5,1362.3 L810.2,1364.2 L811.9,1366.0 L813.5,1367.9 L815.2,1369.7 L816.9,1371.6 L818.6,1373.4 L820.4,1375.2 L822.1,1377.0 L823.8,1378.8 L825.5,1380.6 L827.3,1382.4 L829.0,1384.1 L830.8,1385.9 L832.6,1387.6 L834.3,1389.4 L836.1,1391.1 L837.9,1392.8 L839.7,1394.5 L841.5,1396.2 L843.3,1397.9 L845.2,1399.6 L847.0,1401.2 L848.9,1402.9 L850.7,1404.5 L852.6,1406.1 L854.4,1407.7 L856.3,1409.3 L858.2,1410.9 L860.1,1412.5 L862.1,1414.0 L864.0,1415.6 L865.9,1417.1 L867.9,1418.6 L869.8,1420.1 L871.8,1421.6 L873.8,1423.0 L875.8,1424.5 L877.8,1425.9 L879.8,1427.3 L881.8,1428.7 L883.9,1430.1 L885.9,1431.4 L888.0,1432.8 L890.1,1434.1 L892.2,1435.4 L894.3,1436.7 L896.4,1438.0 L898.5,1439.3 L900.7,1440.5 L902.8,1441.8 L905.0,1443.0 L907.1,1444.2 L909.3,1445.4 L911.5,1446.5 L913.7,1447.7 L915.9,1448.8 L918.1,1450.0 L920.3,1451.1 L922.6,1452.2 L924.8,1453.3 L927.1,1454.3 L929.3,1455.4 L931.6,1456.4 L933.9,1457.5 L936.1,1458.5 L938.4,1459.5 L940.7,1460.5 L943.0,1461.4 L945.3,1462.4 L947.7,1463.4 L950.0,1464.3 L952.3,1465.2 L954.7,1466.1 L957.0,1467.0 L959.4,1467.9 L961.7,1468.8 L964.1,1469.6 L966.4,1470.5 L968.8,1471.3 L971.2,1472.1 L973.6,1473.0 L976.0,1473.8 L978.4,1474.5 L980.8,1475.3 L983.2,1476.1 L985.6,1476.8 L988.0,1477.6 L990.4,1478.3 L992.8,1479.0 L995.2,1479.7 L997.6,1480.4 L1000.1,1481.1 L1002.5,1481.8 L1004.9,1482.5 L1007.4,1483.1 L1009.8,1483.8 L1012.2,1484.4 L1014.7,1485.1 L1017.1,1485.7 L1019.5,1486.3 L1022.0,1486.9 L1024.4,1487.5 L1026.9,1488.1 L1029.3,1488.7 L1031.8,1489.2 L1034.2,1489.8 L1036.7,1490.3 L1039.1,1490.9 L1041.6,1491.4 L1044.0,1491.9 L1046.5,1492.4 L1048.9,1493.0 L1051.4,1493.5 L1053.8,1493.9 L1056.3,1494.4 L1058.7,1494.9 L1061.2,1495.4 L1063.6,1495.8 L1066.1,1496.3 L1068.5,1496.7 L1071.0,1497.2 L1073.4,1497.6 L1075.9,1498.0 L1078.3,1498.4 L1080.8,1498.9 L1083.2,1499.3 L1085.7,1499.7 L1088.2,1500.1 L1090.6,1500.4 L1093.1,1500.8 L1095.5,1501.2 L1098.0,1501.6 L1100.4,1501.9 L1102.9,1502.3 L1105.4,1502.6 L1107.8,1503.0 L1110.3,1503.3 L1112.8,1503.6 L1115.2,1504.0 L1117.7,1504.3 L1120.1,1504.6 L1122.6,1504.9 L1125.1,1505.2 L1127.5,1505.5 L1130.0,1505.8 L1132.5,1506.1 L1134.9,1506.4 L1137.4,1506.7 L1139.9,1507.0 L1142.3,1507.2 L1144.8,1507.5 L1147.3,1507.8 L1149.7,1508.0 L1152.2,1508.3 L1154.7,1508.6 L1157.2,1508.8 L1159.6,1509.1 L1162.1,1509.3 L1164.6,1509.5 L1167.1,1509.8 L1169.5,1510.0 L1172.0,1510.2 L1174.5,1510.5 L1177.0,1510.7 L1179.4,1510.9 L1181.9,1511.1 L1184.4,1511.3 L1186.9,1511.5 L1189.3,1511.7 L1191.8,1511.9 L1194.3,1512.1 L1196.8,1512.3 L1199.3,1512.5 L1201.7,1512.7 L1204.2,1512.9 L1206.7,1513.1 L1209.2,1513.3 L1211.7,1513.4 L1214.1,1513.6 L1216.6,1513.8 L1219.1,1513.9 L1221.6,1514.1 L1224.1,1514.3 L1226.6,1514.4 L1229.1,1514.6 L1231.5,1514.7 L1234.0,1514.9 L1236.5,1515.0 L1239.0,1515.2 L1241.5,1515.3 L1244.0,1515.4 L1246.5,1515.6 L1248.9,1515.7 L1251.4,1515.8 L1253.9,1516.0 L1256.4,1516.1 L1258.9,1516.2 L1261.4,1516.3 L1263.9,1516.4 L1266.4,1516.6 L1268.9,1516.7 L1271.4,1516.8 L1273.9,1516.9 L1276.3,1517.0 L1278.8,1517.1 L1281.3,1517.2 L1283.8,1517.3 L1286.3,1517.4 L1288.8,1517.5 L1291.3,1517.6 L1293.8,1517.6 L1296.3,1517.7 L1298.8,1517.8 L1301.3,1517.9 L1303.8,1518.0 L1306.3,1518.1 L1308.8,1518.1 L1311.3,1518.2 L1313.8,1518.3 L1316.3,1518.3 L1318.8,1518.4 L1321.3,1518.5 L1323.7,1518.5 L1326.2,1518.6 L1328.7,1518.7 L1331.2,1518.7 L1333.7,1518.8 L1336.2,1518.8 L1338.7,1518.9 L1341.2,1518.9 L1343.7,1519.0 L1346.2,1519.0 L1348.7,1519.1 L1351.2,1519.1 L1353.7,1519.2 L1356.2,1519.2 L1358.7,1519.3 L1361.2,1519.3 L1363.7,1519.3 L1366.2,1519.4 L1368.7,1519.4 L1371.2,1519.4 L1373.7,1519.5 L1376.2,1519.5 L1378.7,1519.5 L1381.2,1519.6 L1383.7,1519.6 L1386.2,1519.6 L1388.7,1519.7 L1391.2,1519.7 L1393.8,1519.7 L1396.3,1519.7 L1398.8,1519.8 L1401.3,1519.8 L1403.8,1519.8 L1406.3,1519.8 L1408.8,1519.8 L1411.3,1519.9 L1413.8,1519.9 L1416.3,1519.9 L1418.8,1519.9 L1421.3,1519.9 L1423.8,1519.9 L1426.3,1519.9 L1428.8,1520.0 L1431.3,1520.0 L1433.8,1520.0 L1436.3,1520.0 L1438.8,1520.0 L1441.3,1520.0 L1443.8,1520.0 L1446.3,1520.0 L1448.8,1520.1 L1451.3,1520.1 L1453.8,1520.1 L1456.3,1520.1 L1458.8,1520.1 L1461.3,1520.1 L1463.8,1520.1 L1466.3,1520.1 L1468.8,1520.1 L1471.3,1520.1 L1473.8,1520.1 L1476.3,1520.1 L1478.8,1520.2 L1481.4,1520.2 L1483.9,1520.2 L1486.4,1520.2 L1488.9,1520.2 L1491.4,1520.2 L1493.9,1520.2 L1496.4,1520.2 L1498.9,1520.2 L1501.4,1520.2 L1503.9,1520.2 L1506.4,1520.2 L1508.9,1520.3 L1511.4,1520.3 L1513.9,1520.3 L1516.4,1520.3 L1518.9,1520.3 L1521.4,1520.3 L1523.9,1520.3 L1526.4,1520.3 L1528.9,1520.3 L1531.4,1520.4 L1533.9,1520.4 L1536.4,1520.4 L1538.9,1520.4 L1541.4,1520.4 L1543.9,1520.4 L1546.4,1520.4 L1548.9,1520.4 L1551.4,1520.5 L1553.9,1520.5 L1556.4,1520.5 L1558.9,1520.5 L1561.4,1520.5 L1563.9,1520.5 L1566.4,1520.6 L1568.9,1520.6 L1571.4,1520.6 L1573.9,1520.6 L1576.4,1520.6 L1578.9,1520.6 L1581.4,1520.7 L1583.9,1520.7 L1586.4,1520.7 L1588.9,1520.7 L1591.4,1520.7 L1593.9,1520.8 L1596.4,1520.8 L1598.9,1520.8 L1601.4,1520.8 L1603.9,1520.8 L1606.4,1520.9 L1608.9,1520.9 L1611.4,1520.9 L1613.9,1520.9 L1616.4,1520.9 L1618.9,1521.0 L1621.4,1521.0 L1623.9,1521.0 L1626.4,1521.0 L1628.9,1521.0 L1631.3,1521.1 L1633.8,1521.1 L1636.3,1521.1 L1638.8,1521.1 L1641.3,1521.2 L1643.8,1521.2 L1646.3,1521.2 L1648.8,1521.2 L1651.3,1521.3 L1653.8,1521.3 L1656.3,1521.3 L1658.8,1521.3 L1661.3,1521.4 L1663.8,1521.4 L1666.3,1521.4 L1668.8,1521.4 L1671.3,1521.5 L1673.8,1521.5 L1676.3,1521.5 L1678.8,1521.5 L1681.3,1521.6 L1683.8,1521.6 L1686.3,1521.6 L1688.8,1521.6 L1691.3,1521.7 L1693.8,1521.7 L1696.3,1521.7 L1698.8,1521.7 L1701.2,1521.8 L1703.7,1521.8 L1706.2,1521.8 L1708.7,1521.8 L1711.2,1521.9 L1713.7,1521.9 L1716.2,1521.9 L1718.7,1522.0 L1721.2,1522.0 L1723.7,1522.0 L1726.2,1522.0 L1728.7,1522.1 L1731.2,1522.1 L1733.7,1522.1 L1736.2,1522.2 L1738.7,1522.2 L1741.2,1522.2 L1743.7,1522.2 L1746.2,1522.3 L1748.7,1522.3 L1751.1,1522.3 L1753.6,1522.4 L1756.1,1522.4 L1758.6,1522.4 L1761.1,1522.4 L1763.6,1522.5 L1766.1,1522.5 L1768.6,1522.5 L1771.1,1522.6 L1773.6,1522.6 L1776.1,1522.6 L1778.6,1522.7 L1781.1,1522.7 L1783.6,1522.7 L1786.1,1522.7 L1788.6,1522.8 L1791.1,1522.8 L1793.5,1522.8 L1796.0,1522.9 L1798.5,1522.9 L1801.0,1522.9 L1803.5,1522.9 L1806.0,1523.0 L1808.5,1523.0 L1811.0,1523.0 L1813.5,1523.1 L1816.0,1523.1 L1818.5,1523.1 L1821.0,1523.2 L1823.5,1523.2 L1826.0,1523.2 L1828.5,1523.2 L1831.0,1523.3 L1833.4,1523.3 L1835.9,1523.3 L1838.4,1523.4 L1840.9,1523.4 L1843.4,1523.4 L1845.9,1523.5 L1848.4,1523.5 L1850.9,1523.5 L1853.4,1523.5 L1855.9,1523.6 L1858.4,1523.6 L1860.9,1523.6 L1863.4,1523.7 L1865.9,1523.7 L1868.4,1523.7 L1870.8,1523.8 L1873.3,1523.8 L1875.8,1523.8 L1878.3,1523.8 L1880.8,1523.9 L1883.3,1523.9 L1885.8,1523.9 L1888.3,1524.0 L1890.8,1524.0 L1893.3,1524.0 L1895.8,1524.0 L1898.3,1524.1 L1900.8,1524.1 L1903.3,1524.1 L1905.7,1524.2 L1908.2,1524.2 L1910.7,1524.2 L1913.2,1524.2 L1915.7,1524.3 L1918.2,1524.3 L1920.7,1524.3 L1923.2,1524.4 L1925.7,1524.4 L1928.2,1524.4 L1930.7,1524.4 L1933.2,1524.5 L1935.7,1524.5 L1938.2,1524.5 L1940.7,1524.5 L1943.1,1524.6 L1945.6,1524.6 L1948.1,1524.6 L1950.6,1524.6 L1953.1,1524.7 L1955.6,1524.7 L1958.1,1524.7 L1960.6,1524.8 L1963.1,1524.8 L1965.6,1524.8 L1968.1,1524.8 L1970.6,1524.9 L1973.1,1524.9 L1975.6,1524.9 L1978.0,1524.9 L1980.5,1525.0 L1983.0,1525.0 L1985.5,1525.0 L1988.0,1525.0 L1990.5,1525.0 L1993.0,1525.1 L1995.5,1525.1 L1998.0,1525.1 L2000.5,1525.1 L2003.0,1525.2 L2005.5,1525.2 L2008.0,1525.2 L2010.5,1525.2 L2013.0,1525.3 L2015.4,1525.3 L2017.9,1525.3 L2020.4,1525.3 L2022.9,1525.3 L2025.4,1525.4 L2027.9,1525.4 L2030.4,1525.4 L2032.9,1525.4 L2035.4,1525.4 L2037.9,1525.5 L2040.4,1525.5 L2042.9,1525.5 L2045.4,1525.5 L2047.9,1525.5 L2050.4,1525.6 L2052.9,1525.6 L2055.3,1525.6 L2057.8,1525.6 L2060.3,1525.6 L2062.8,1525.6 L2065.3,1525.7 L2067.8,1525.7 L2070.3,1525.7 L2072.8,1525.7 L2075.3,1525.7 L2077.8,1525.7 L2080.3,1525.8 L2082.8,1525.8 L2085.3,1525.8 L2087.8,1525.8 L2090.3,1525.8 L2092.8,1525.8 L2095.3,1525.9 L2097.7,1525.9 L2100.2,1525.9 L2102.7,1525.9 L2105.2,1525.9 L2107.7,1525.9 L2110.2,1525.9 L2112.7,1525.9 L2115.2,1526.0 L2117.7,1526.0 L2120.2,1526.0 L2122.7,1526.0 L2125.2,1526.0 L2127.7,1526.0 L2130.2,1526.0 L2132.7,1526.0 L2135.2,1526.0 L2137.7,1526.0 L2140.2,1526.0 L2142.7,1526.1 L2145.2,1526.1 L2147.6,1526.1 L2150.1,1526.1 L2152.6,1526.1 L2155.1,1526.1 L2157.6,1526.1 L2160.1,1526.1 L2162.6,1526.1 L2165.1,1526.1 L2167.6,1526.1 L2170.1,1526.1 L2172.6,1526.1 L2175.1,1526.1 L2177.6,1526.1 L2180.1,1526.1 L2182.6,1526.1 L2185.1,1526.1 L2187.6,1526.1 L2190.1,1526.1 L2192.6,1526.1 L2195.1,1526.1 L2197.6,1526.1 L2200.1,1526.1 L2202.6,1526.1 L2205.1,1526.1 L2207.6,1526.1 L2210.1,1526.1 L2212.6,1526.1 L2215.1,1526.1 L2217.5,1526.1 L2220.0,1526.1 L2222.5,1526.1 L2225.0,1526.1 L2227.5,1526.1 L2230.0,1526.1 L2232.5,1526.1 L2235.0,1526.1 L2237.5,1526.1 L2240.0,1526.1 L2242.5,1526.1 L2245.0,1526.1 L2247.5,1526.0 L2250.0,1526.0 L2252.5,1526.0 L2255.0,1526.0 L2257.5,1526.0 L2260.0,1526.0 L2262.5,1526.0 L2265.0,1526.0 L2267.5,1526.0 L2270.0,1526.0 L2272.5,1525.9 L2275.0,1525.9 L2277.5,1525.9 L2280.0,1525.9 L2282.5,1525.9 L2285.0,1525.9 L2287.5,1525.8 L2290.0,1525.8 L2292.5,1525.8 L2295.0,1525.8 L2297.5,1525.8 L2300.0,1525.8 L2302.5,1525.7 L2305.0,1525.7 L2307.5,1525.7 L2310.0,1525.7 L2312.5,1525.7 L2315.0,1525.6 L2317.5,1525.6 L2320.0,1525.6 L2322.5,1525.6 L2325.0,1525.5 L2327.5,1525.5 L2330.0,1525.5 L2332.5,1525.5 L2335.0,1525.4 L2337.5,1525.4 L2340.0,1525.4 L2342.5,1525.4 L2345.0,1525.3 L2347.5,1525.3 L2350.0,1525.3 L2352.5,1525.2 L2355.0,1525.2 L2357.5,1525.2 L2360.0,1525.2" fill="none" stroke="#008000" stroke-width="11.0" stroke-linejoin="round" stroke-linecap="butt"/>
<path d="M275.8,1187.5 L278.1,1188.6 L280.4,1189.7 L282.6,1190.9 L284.8,1192.0 L287.0,1193.2 L289.1,1194.4 L291.2,1195.7 L293.3,1197.0 L295.4,1198.3 L297.4,1199.6 L299.5,1200.9 L301.5,1202.3 L303.4,1203.7 L305.4,1205.1 L307.3,1206.5 L309.3,1208.0 L311.2,1209.5 L313.0,1211.0 L314.9,1212.5 L316.8,1214.0 L318.6,1215.5 L320.5,1217.1 L322.3,1218.6 L324.1,1220.2 L325.9,1221.8 L327.7,1223.4 L329.5,1225.0 L331.2,1226.6 L333.0,1228.2 L334.8,1229.9 L336.6,1231.5 L338.3,1233.1 L340.1,1234.8 L341.8,1236.4 L343.6,1238.1 L345.4,1239.7 L347.1,1241.4 L348.9,1243.0 L350.7,1244.7 L352.5,1246.3 L354.3,1248.0 L356.1,1249.6 L357.9,1251.3 L359.7,1252.9 L361.5,1254.5 L363.3,1256.1 L365.2,1257.8 L367.0,1259.4 L368.9,1260.9 L370.8,1262.5 L372.7,1264.1 L374.6,1265.7 L376.6,1267.2 L378.6,1268.7 L380.5,1270.2 L382.5,1271.7 L384.6,1273.2 L386.6,1274.7 L388.7,1276.1 L390.7,1277.5 L392.8,1278.9 L394.9,1280.3 L397.1,1281.6 L399.2,1282.9 L401.3,1284.2 L403.5,1285.4 L405.7,1286.6 L407.9,1287.7 L410.1,1288.8 L412.3,1289.9 L414.5,1290.9 L416.7,1291.9 L419.0,1292.8 L421.2,1293.7 L423.5,1294.5 L425.8,1295.3 L428.0,1296.0 L430.3,1296.7 L432.6,1297.3 L434.9,1297.8 L437.2,1298.3 L439.5,1298.7 L441.8,1299.1 L444.1,1299.4 L446.4,1299.6 L448.7,1299.7 L451.0,1299.8 L453.3,1299.8 L455.6,1299.7 L458.0,1299.5 L460.3,1299.3 L462.6,1299.0 L464.9,1298.6 L467.2,1298.2 L469.5,1297.7 L471.8,1297.2 L474.1,1296.6 L476.4,1296.0 L478.7,1295.3 L481.0,1294.6 L483.4,1293.8 L485.7,1293.1 L488.0,1292.3 L490.3,1291.4 L492.7,1290.6 L495.0,1289.7 L497.3,1288.9 L499.6,1288.0 L502.0,1287.1 L504.3,1286.2 L506.7,1285.3 L509.0,1284.5 L511.4,1283.6 L513.7,1282.7 L516.1,1281.9 L518.5,1281.0 L520.8,1280.2 L523.2,1279.3 L525.6,1278.5 L527.9,1277.7 L530.3,1276.9 L532.7,1276.1 L535.1,1275.4 L537.5,1274.6 L539.8,1273.9 L542.2,1273.2 L544.6,1272.5 L547.0,1271.9 L549.4,1271.2 L551.8,1270.6 L554.1,1270.0 L556.5,1269.5 L558.9,1268.9 L561.3,1268.4 L563.7,1268.0 L566.1,1267.5 L568.5,1267.1 L570.8,1266.8 L573.2,1266.4 L575.6,1266.1 L578.0,1265.8 L580.3,1265.6 L582.7,1265.4 L585.1,1265.3 L587.4,1265.2 L589.8,1265.1 L592.2,1265.1 L594.5,1265.1 L596.9,1265.2 L599.2,1265.3 L601.6,1265.5 L603.9,1265.7 L606.2,1266.0 L608.6,1266.3 L610.9,1266.7 L613.2,1267.1 L615.6,1267.6 L617.9,1268.1 L620.2,1268.7 L622.5,1269.4 L624.8,1270.1 L627.1,1270.8 L629.3,1271.6 L631.6,1272.4 L633.9,1273.2 L636.2,1274.1 L638.4,1275.1 L640.7,1276.0 L642.9,1277.1 L645.1,1278.1 L647.4,1279.2 L649.6,1280.3 L651.8,1281.4 L654.0,1282.6 L656.2,1283.8 L658.4,1285.0 L660.6,1286.2 L662.7,1287.5 L664.9,1288.7 L667.0,1290.0 L669.2,1291.3 L671.3,1292.7 L673.4,1294.0 L675.5,1295.3 L677.6,1296.7 L679.7,1298.1 L681.8,1299.5 L683.9,1300.8 L685.9,1302.2 L687.9,1303.6 L690.0,1305.0 L692.0,1306.4 L694.0,1307.8 L696.0,1309.3 L698.0,1310.7 L700.0,1312.1 L702.0,1313.6 L704.0,1315.0 L705.9,1316.5 L707.9,1317.9 L709.9,1319.4 L711.8,1320.8 L713.8,1322.3 L715.7,1323.8 L717.6,1325.2 L719.5,1326.7 L721.5,1328.2 L723.4,1329.7 L725.3,1331.2 L727.2,1332.6 L729.1,1334.1 L731.0,1335.6 L732.9,1337.1 L734.8,1338.6 L736.7,1340.1 L738.6,1341.6 L740.5,1343.1 L742.4,1344.6 L744.3,1346.1 L746.2,1347.6 L748.0,1349.1 L749.9,1350.6 L751.8,1352.1 L753.7,1353.6 L755.6,1355.1 L757.5,1356.6 L759.4,1358.0 L761.3,1359.5 L763.2,1361.0 L765.1,1362.5 L767.0,1364.0 L768.9,1365.5 L770.8,1367.0 L772.7,1368.4 L774.6,1369.9 L776.5,1371.4 L778.5,1372.8 L780.4,1374.3 L782.3,1375.8 L784.3,1377.2 L786.2,1378.7 L788.1,1380.1 L790.1,1381.6 L792.1,1383.0 L794.0,1384.4 L796.0,1385.9 L797.9,1387.3 L799.9,1388.7 L801.9,1390.1 L803.9,1391.5 L805.9,1392.9 L807.9,1394.3 L809.9,1395.7 L811.9,1397.1 L813.9,1398.5 L815.9,1399.9 L817.9,1401.2 L819.9,1402.6 L821.9,1403.9 L824.0,1405.3 L826.0,1406.6 L828.0,1408.0 L830.1,1409.3 L832.1,1410.6 L834.2,1411.9 L836.2,1413.3 L838.3,1414.6 L840.4,1415.9 L842.4,1417.1 L844.5,1418.4 L846.6,1419.7 L848.7,1421.0 L850.8,1422.2 L852.9,1423.5 L855.0,1424.7 L857.1,1425.9 L859.2,1427.2 L861.3,1428.4 L863.4,1429.6 L865.5,1430.8 L867.7,1432.0 L869.8,1433.2 L871.9,1434.3 L874.1,1435.5 L876.2,1436.6 L878.4,1437.8 L880.5,1438.9 L882.7,1440.0 L884.8,1441.2 L887.0,1442.3 L889.2,1443.3 L891.4,1444.4 L893.5,1445.5 L895.7,1446.6 L897.9,1447.6 L900.1,1448.7 L902.3,1449.7 L904.5,1450.7 L906.7,1451.7 L908.9,1452.7 L911.2,1453.7 L913.4,1454.7 L915.6,1455.6 L917.8,1456.6 L920.1,1457.5 L922.3,1458.5 L924.6,1459.4 L926.8,1460.3 L929.1,1461.2 L931.3,1462.1 L933.6,1462.9 L935.9,1463.8 L938.1,1464.6 L940.4,1465.5 L942.7,1466.3 L945.0,1467.1 L947.3,1467.9 L949.6,1468.7 L951.9,1469.4 L954.2,1470.2 L956.5,1471.0 L958.8,1471.7 L961.1,1472.4 L963.4,1473.2 L965.8,1473.9 L968.1,1474.6 L970.4,1475.2 L972.7,1475.9 L975.1,1476.6 L977.4,1477.3 L979.8,1477.9 L982.1,1478.5 L984.5,1479.2 L986.8,1479.8 L989.2,1480.4 L991.5,1481.0 L993.9,1481.6 L996.2,1482.2 L998.6,1482.7 L1001.0,1483.3 L1003.4,1483.9 L1005.7,1484.4 L1008.1,1484.9 L1010.5,1485.5 L1012.9,1486.0 L1015.3,1486.5 L1017.6,1487.0 L1020.0,1487.5 L1022.4,1488.0 L1024.8,1488.5 L1027.2,1488.9 L1029.6,1489.4 L1032.0,1489.9 L1034.4,1490.3 L1036.8,1490.8 L1039.2,1491.2 L1041.6,1491.6 L1044.0,1492.1 L1046.4,1492.5 L1048.8,1492.9 L1051.3,1493.3 L1053.7,1493.7 L1056.1,1494.1 L1058.5,1494.5 L1060.9,1494.8 L1063.3,1495.2 L1065.8,1495.6 L1068.2,1496.0 L1070.6,1496.3 L1073.0,1496.7 L1075.4,1497.0 L1077.9,1497.4 L1080.3,1497.7 L1082.7,1498.0 L1085.1,1498.3 L1087.6,1498.7 L1090.0,1499.0 L1092.4,1499.3 L1094.8,1499.6 L1097.3,1499.9 L1099.7,1500.2 L1102.1,1500.5 L1104.5,1500.8 L1107.0,1501.1 L1109.4,1501.4 L1111.8,1501.7 L1114.2,1501.9 L1116.7,1502.2 L1119.1,1502.5 L1121.5,1502.8 L1123.9,1503.0 L1126.4,1503.3 L1128.8,1503.5 L1131.2,1503.8 L1133.6,1504.0 L1136.1,1504.3 L1138.5,1504.5 L1140.9,1504.8 L1143.4,1505.0 L1145.8,1505.2 L1148.2,1505.5 L1150.6,1505.7 L1153.1,1505.9 L1155.5,1506.1 L1157.9,1506.4 L1160.3,1506.6 L1162.8,1506.8 L1165.2,1507.0 L1167.6,1507.2 L1170.0,1507.4 L1172.5,1507.6 L1174.9,1507.8 L1177.3,1508.0 L1179.7,1508.2 L1182.2,1508.4 L1184.6,1508.5 L1187.0,1508.7 L1189.5,1508.9 L1191.9,1509.1 L1194.3,1509.2 L1196.7,1509.4 L1199.2,1509.6 L1201.6,1509.7 L1204.0,1509.9 L1206.4,1510.1 L1208.9,1510.2 L1211.3,1510.4 L1213.7,1510.5 L1216.2,1510.7 L1218.6,1510.8 L1221.0,1511.0 L1223.4,1511.1 L1225.9,1511.2 L1228.3,1511.4 L1230.7,1511.5 L1233.1,1511.6 L1235.6,1511.8 L1238.0,1511.9 L1240.4,1512.0 L1242.9,1512.1 L1245.3,1512.3 L1247.7,1512.4 L1250.1,1512.5 L1252.6,1512.6 L1255.0,1512.7 L1257.4,1512.8 L1259.8,1512.9 L1262.3,1513.1 L1264.7,1513.2 L1267.1,1513.3 L1269.6,1513.4 L1272.0,1513.5 L1274.4,1513.6 L1276.8,1513.7 L1279.3,1513.7 L1281.7,1513.8 L1284.1,1513.9 L1286.6,1514.0 L1289.0,1514.1 L1291.4,1514.2 L1293.8,1514.3 L1296.3,1514.4 L1298.7,1514.4 L1301.1,1514.5 L1303.6,1514.6 L1306.0,1514.7 L1308.4,1514.8 L1310.9,1514.8 L1313.3,1514.9 L1315.7,1515.0 L1318.1,1515.1 L1320.6,1515.1 L1323.0,1515.2 L1325.4,1515.3 L1327.9,1515.3 L1330.3,1515.4 L1332.7,1515.5 L1335.1,1515.5 L1337.6,1515.6 L1340.0,1515.6 L1342.4,1515.7 L1344.9,1515.8 L1347.3,1515.8 L1349.7,1515.9 L1352.2,1515.9 L1354.6,1516.0 L1357.0,1516.0 L1359.4,1516.1 L1361.9,1516.2 L1364.3,1516.2 L1366.7,1516.3 L1369.2,1516.3 L1371.6,1516.4 L1374.0,1516.4 L1376.5,1516.5 L1378.9,1516.5 L1381.3,1516.6 L1383.8,1516.6 L1386.2,1516.7 L1388.6,1516.7 L1391.0,1516.8 L1393.5,1516.8 L1395.9,1516.9 L1398.3,1516.9 L1400.8,1517.0 L1403.2,1517.0 L1405.6,1517.0 L1408.1,1517.1 L1410.5,1517.1 L1412.9,1517.2 L1415.4,1517.2 L1417.8,1517.3 L1420.2,1517.3 L1422.7,1517.4 L1425.1,1517.4 L1427.5,1517.5 L1430.0,1517.5 L1432.4,1517.6 L1434.8,1517.6 L1437.3,1517.6 L1439.7,1517.7 L1442.1,1517.7 L1444.6,1517.8 L1447.0,1517.8 L1449.4,1517.9 L1451.9,1517.9 L1454.3,1518.0 L1456.7,1518.0 L1459.2,1518.0 L1461.6,1518.1 L1464.0,1518.1 L1466.5,1518.2 L1468.9,1518.2 L1471.3,1518.3 L1473.8,1518.3 L1476.2,1518.3 L1478.6,1518.4 L1481.1,1518.4 L1483.5,1518.5 L1485.9,1518.5 L1488.4,1518.5 L1490.8,1518.6 L1493.2,1518.6 L1495.7,1518.7 L1498.1,1518.7 L1500.5,1518.7 L1503.0,1518.8 L1505.4,1518.8 L1507.8,1518.9 L1510.3,1518.9 L1512.7,1518.9 L1515.1,1519.0 L1517.6,1519.0 L1520.0,1519.1 L1522.4,1519.1 L1524.9,1519.1 L1527.3,1519.2 L1529.8,1519.2 L1532.2,1519.3 L1534.6,1519.3 L1537.1,1519.3 L1539.5,1519.4 L1541.9,1519.4 L1544.4,1519.5 L1546.8,1519.5 L1549.2,1519.5 L1551.7,1519.6 L1554.1,1519.6 L1556.5,1519.6 L1559.0,1519.7 L1561.4,1519.7 L1563.8,1519.7 L1566.3,1519.8 L1568.7,1519.8 L1571.1,1519.9 L1573.6,1519.9 L1576.0,1519.9 L1578.5,1520.0 L1580.9,1520.0 L1583.3,1520.0 L1585.8,1520.1 L1588.2,1520.1 L1590.6,1520.1 L1593.1,1520.2 L1595.5,1520.2 L1597.9,1520.3 L1600.4,1520.3 L1602.8,1520.3 L1605.2,1520.4 L1607.7,1520.4 L1610.1,1520.4 L1612.6,1520.5 L1615.0,1520.5 L1617.4,1520.5 L1619.9,1520.6 L1622.3,1520.6 L1624.7,1520.6 L1627.2,1520.7 L1629.6,1520.7 L1632.0,1520.7 L1634.5,1520.8 L1636.9,1520.8 L1639.4,1520.8 L1641.8,1520.9 L1644.2,1520.9 L1646.7,1520.9 L1649.1,1521.0 L1651.5,1521.0 L1654.0,1521.0 L1656.4,1521.1 L1658.8,1521.1 L1661.3,1521.1 L1663.7,1521.2 L1666.1,1521.2 L1668.6,1521.2 L1671.0,1521.3 L1673.5,1521.3 L1675.9,1521.3 L1678.3,1521.3 L1680.8,1521.4 L1683.2,1521.4 L1685.6,1521.4 L1688.1,1521.5 L1690.5,1521.5 L1692.9,1521.5 L1695.4,1521.6 L1697.8,1521.6 L1700.3,1521.6 L1702.7,1521.7 L1705.1,1521.7 L1707.6,1521.7 L1710.0,1521.8 L1712.4,1521.8 L1714.9,1521.8 L1717.3,1521.8 L1719.7,1521.9 L1722.2,1521.9 L1724.6,1521.9 L1727.0,1522.0 L1729.5,1522.0 L1731.9,1522.0 L1734.4,1522.1 L1736.8,1522.1 L1739.2,1522.1 L1741.7,1522.1 L1744.1,1522.2 L1746.5,1522.2 L1749.0,1522.2 L1751.4,1522.3 L1753.8,1522.3 L1756.3,1522.3 L1758.7,1522.3 L1761.1,1522.4 L1763.6,1522.4 L1766.0,1522.4 L1768.5,1522.5 L1770.9,1522.5 L1773.3,1522.5 L1775.8,1522.6 L1778.2,1522.6 L1780.6,1522.6 L1783.1,1522.6 L1785.5,1522.7 L1787.9,1522.7 L1790.4,1522.7 L1792.8,1522.8 L1795.2,1522.8 L1797.7,1522.8 L1800.1,1522.8 L1802.5,1522.9 L1805.0,1522.9 L1807.4,1522.9 L1809.9,1522.9 L1812.3,1523.0 L1814.7,1523.0 L1817.2,1523.0 L1819.6,1523.1 L1822.0,1523.1 L1824.5,1523.1 L1826.9,1523.1 L1829.3,1523.2 L1831.8,1523.2 L1834.2,1523.2 L1836.6,1523.3 L1839.1,1523.3 L1841.5,1523.3 L1843.9,1523.3 L1846.4,1523.4 L1848.8,1523.4 L1851.2,1523.4 L1853.7,1523.4 L1856.1,1523.5 L1858.5,1523.5 L1861.0,1523.5 L1863.4,1523.5 L1865.8,1523.6 L1868.3,1523.6 L1870.7,1523.6 L1873.1,1523.6 L1875.6,1523.7 L1878.0,1523.7 L1880.5,1523.7 L1882.9,1523.8 L1885.3,1523.8 L1887.8,1523.8 L1890.2,1523.8 L1892.6,1523.9 L1895.1,1523.9 L1897.5,1523.9 L1899.9,1523.9 L1902.4,1524.0 L1904.8,1524.0 L1907.2,1524.0 L1909.7,1524.0 L1912.1,1524.1 L1914.5,1524.1 L1917.0,1524.1 L1919.4,1524.1 L1921.8,1524.1 L1924.3,1524.2 L1926.7,1524.2 L1929.1,1524.2 L1931.6,1524.2 L1934.0,1524.3 L1936.4,1524.3 L1938.9,1524.3 L1941.3,1524.3 L1943.7,1524.4 L1946.2,1524.4 L1948.6,1524.4 L1951.0,1524.4 L1953.5,1524.4 L1955.9,1524.5 L1958.3,1524.5 L1960.8,1524.5 L1963.2,1524.5 L1965.6,1524.6 L1968.1,1524.6 L1970.5,1524.6 L1972.9,1524.6 L1975.4,1524.6 L1977.8,1524.7 L1980.2,1524.7 L1982.7,1524.7 L1985.1,1524.7 L1987.5,1524.7 L1990.0,1524.8 L1992.4,1524.8 L1994.8,1524.8 L1997.3,1524.8 L1999.7,1524.8 L2002.1,1524.9 L2004.6,1524.9 L2007.0,1524.9 L2009.4,1524.9 L2011.9,1524.9 L2014.3,1524.9 L2016.7,1525.0 L2019.2,1525.0 L2021.6,1525.0 L2024.0,1525.0 L2026.5,1525.0 L2028.9,1525.1 L2031.3,1525.1 L2033.8,1525.1 L2036.2,1525.1 L2038.6,1525.1 L2041.1,1525.1 L2043.5,1525.2 L2045.9,1525.2 L2048.4,1525.2 L2050.8,1525.2 L2053.2,1525.2 L2055.7,1525.2 L2058.1,1525.2 L2060.5,1525.3 L2063.0,1525.3 L2065.4,1525.3 L2067.8,1525.3 L2070.3,1525.3 L2072.7,1525.3 L2075.1,1525.3 L2077.6,1525.4 L2080.0,1525.4 L2082.4,1525.4 L2084.9,1525.4 L2087.3,1525.4 L2089.7,1525.4 L2092.2,1525.4 L2094.6,1525.5 L2097.0,1525.5 L2099.5,1525.5 L2101.9,1525.5 L2104.4,1525.5 L2106.8,1525.5 L2109.2,1525.5 L2111.7,1525.5 L2114.1,1525.5 L2116.5,1525.6 L2119.0,1525.6 L2121.4,1525.6 L2123.8,1525.6 L2126.3,1525.6 L2128.7,1525.6 L2131.1,1525.6 L2133.6,1525.6 L2136.0,1525.6 L2138.4,1525.6 L2140.9,1525.6 L2143.3,1525.6 L2145.7,1525.7 L2148.2,1525.7 L2150.6,1525.7 L2153.0,1525.7 L2155.5,1525.7 L2157.9,1525.7 L2160.3,1525.7 L2162.8,1525.7 L2165.2,1525.7 L2167.6,1525.7 L2170.1,1525.7 L2172.5,1525.7 L2174.9,1525.7 L2177.4,1525.7 L2179.8,1525.7 L2182.2,1525.7 L2184.7,1525.7 L2187.1,1525.7 L2189.5,1525.7 L2192.0,1525.8 L2194.4,1525.8 L2196.8,1525.8 L2199.3,1525.8 L2201.7,1525.8 L2204.1,1525.8 L2206.6,1525.8 L2209.0,1525.8 L2211.4,1525.8 L2213.9,1525.8 L2216.3,1525.8 L2218.7,1525.8 L2221.2,1525.8 L2223.6,1525.8 L2226.1,1525.8 L2228.5,1525.8 L2230.9,1525.8 L2233.4,1525.8 L2235.8,1525.8 L2238.2,1525.8 L2240.7,1525.8 L2243.1,1525.7 L2245.5,1525.7 L2248.0,1525.7 L2250.4,1525.7 L2252.8,1525.7 L2255.3,1525.7 L2257.7,1525.7 L2260.1,1525.7 L2262.6,1525.7 L2265.0,1525.7 L2267.4,1525.7 L2269.9,1525.7 L2272.3,1525.7 L2274.8,1525.7 L2277.2,1525.7 L2279.6,1525.7 L2282.1,1525.7 L2284.5,1525.7 L2286.9,1525.6 L2289.4,1525.6 L2291.8,1525.6 L2294.2,1525.6 L2296.7,1525.6 L2299.1,1525.6 L2301.5,1525.6 L2304.0,1525.6 L2306.4,1525.6 L2308.8,1525.6 L2311.3,1525.5 L2313.7,1525.5 L2316.2,1525.5 L2318.6,1525.5 L2321.0,1525.5 L2323.5,1525.5 L2325.9,1525.5 L2328.3,1525.5 L2330.8,1525.4 L2333.2,1525.4 L2335.6,1525.4 L2338.1,1525.4 L2340.5,1525.4 L2343.0,1525.4 L2345.4,1525.4 L2347.8,1525.3 L2350.3,1525.3 L2352.7,1525.3 L2355.1,1525.3 L2357.6,1525.3 L2360.0,1525.3" fill="none" stroke="#000080" stroke-width="10.6" stroke-linejoin="round" stroke-linecap="butt"/>
<path d="M275.4,1180.7 L277.3,1182.3 L279.2,1183.9 L281.1,1185.5 L282.9,1187.2 L284.8,1188.8 L286.6,1190.5 L288.4,1192.1 L290.1,1193.8 L291.9,1195.5 L293.7,1197.2 L295.4,1198.9 L297.1,1200.6 L298.8,1202.3 L300.5,1204.0 L302.2,1205.8 L303.9,1207.5 L305.6,1209.2 L307.2,1211.0 L308.8,1212.8 L310.5,1214.5 L312.1,1216.3 L313.7,1218.1 L315.3,1219.9 L316.9,1221.6 L318.5,1223.4 L320.1,1225.2 L321.7,1227.1 L323.2,1228.9 L324.8,1230.7 L326.3,1232.5 L327.9,1234.4 L329.4,1236.2 L331.0,1238.1 L332.5,1239.9 L334.0,1241.8 L335.6,1243.6 L337.1,1245.5 L338.6,1247.4 L340.1,1249.2 L341.7,1251.1 L343.2,1253.0 L344.7,1254.9 L346.2,1256.8 L347.7,1258.7 L349.3,1260.6 L350.8,1262.5 L352.3,1264.4 L353.8,1266.3 L355.4,1268.2 L356.9,1270.2 L358.4,1272.1 L360.0,1274.0 L361.5,1275.9 L363.0,1277.9 L364.6,1279.8 L366.1,1281.8 L367.7,1283.7 L369.3,1285.6 L370.8,1287.6 L372.4,1289.5 L374.0,1291.5 L375.6,1293.4 L377.2,1295.3 L378.8,1297.2 L380.5,1299.2 L382.1,1301.1 L383.7,1302.9 L385.4,1304.8 L387.1,1306.7 L388.7,1308.5 L390.4,1310.3 L392.1,1312.1 L393.9,1313.9 L395.6,1315.7 L397.3,1317.4 L399.1,1319.2 L400.9,1320.8 L402.6,1322.5 L404.5,1324.1 L406.3,1325.8 L408.1,1327.3 L410.0,1328.9 L411.8,1330.4 L413.7,1331.8 L415.6,1333.3 L417.6,1334.7 L419.5,1336.0 L421.5,1337.3 L423.5,1338.6 L425.5,1339.8 L427.5,1341.0 L429.6,1342.1 L431.7,1343.2 L433.7,1344.2 L435.9,1345.2 L438.0,1346.1 L440.2,1347.0 L442.3,1347.9 L444.5,1348.7 L446.8,1349.4 L449.0,1350.1 L451.2,1350.8 L453.5,1351.4 L455.8,1352.0 L458.1,1352.5 L460.4,1353.0 L462.7,1353.4 L465.1,1353.9 L467.4,1354.2 L469.8,1354.6 L472.1,1354.8 L474.5,1355.1 L476.9,1355.3 L479.3,1355.5 L481.7,1355.7 L484.1,1355.8 L486.6,1355.8 L489.0,1355.9 L491.4,1355.9 L493.9,1355.9 L496.3,1355.8 L498.8,1355.7 L501.2,1355.6 L503.7,1355.5 L506.1,1355.3 L508.6,1355.1 L511.1,1354.9 L513.5,1354.6 L516.0,1354.3 L518.4,1354.0 L520.9,1353.7 L523.4,1353.4 L525.8,1353.1 L528.3,1352.8 L530.8,1352.4 L533.2,1352.1 L535.7,1351.7 L538.2,1351.4 L540.6,1351.0 L543.1,1350.7 L545.5,1350.4 L548.0,1350.1 L550.4,1349.8 L552.9,1349.5 L555.3,1349.2 L557.8,1349.0 L560.2,1348.7 L562.7,1348.5 L565.1,1348.3 L567.5,1348.2 L570.0,1348.0 L572.4,1347.9 L574.8,1347.8 L577.2,1347.7 L579.7,1347.6 L582.1,1347.6 L584.5,1347.5 L586.9,1347.5 L589.3,1347.6 L591.7,1347.6 L594.1,1347.7 L596.5,1347.8 L598.9,1347.9 L601.3,1348.0 L603.7,1348.2 L606.0,1348.4 L608.4,1348.6 L610.8,1348.8 L613.2,1349.1 L615.5,1349.3 L617.9,1349.6 L620.2,1350.0 L622.6,1350.3 L624.9,1350.7 L627.3,1351.1 L629.6,1351.6 L631.9,1352.0 L634.3,1352.5 L636.6,1353.0 L638.9,1353.6 L641.2,1354.1 L643.6,1354.7 L645.9,1355.3 L648.2,1356.0 L650.5,1356.7 L652.7,1357.4 L655.0,1358.1 L657.3,1358.9 L659.6,1359.6 L661.9,1360.5 L664.1,1361.3 L666.4,1362.2 L668.7,1363.0 L670.9,1364.0 L673.2,1364.9 L675.4,1365.8 L677.7,1366.8 L679.9,1367.8 L682.1,1368.8 L684.4,1369.8 L686.6,1370.8 L688.8,1371.9 L691.1,1372.9 L693.3,1374.0 L695.5,1375.1 L697.7,1376.1 L699.9,1377.2 L702.1,1378.3 L704.4,1379.5 L706.6,1380.6 L708.8,1381.7 L711.0,1382.8 L713.2,1383.9 L715.4,1385.1 L717.6,1386.2 L719.8,1387.3 L722.0,1388.5 L724.2,1389.6 L726.4,1390.7 L728.6,1391.8 L730.8,1393.0 L733.0,1394.1 L735.2,1395.2 L737.4,1396.3 L739.6,1397.4 L741.8,1398.4 L744.0,1399.5 L746.1,1400.6 L748.3,1401.7 L750.5,1402.8 L752.7,1403.8 L754.9,1404.9 L757.1,1406.0 L759.3,1407.1 L761.5,1408.1 L763.7,1409.2 L765.9,1410.2 L768.1,1411.3 L770.3,1412.4 L772.5,1413.4 L774.7,1414.5 L776.8,1415.5 L779.0,1416.6 L781.2,1417.6 L783.4,1418.7 L785.6,1419.8 L787.8,1420.8 L790.0,1421.9 L792.2,1422.9 L794.4,1424.0 L796.6,1425.0 L798.8,1426.1 L801.0,1427.1 L803.2,1428.1 L805.4,1429.2 L807.6,1430.2 L809.8,1431.2 L812.0,1432.3 L814.2,1433.3 L816.4,1434.3 L818.6,1435.3 L820.8,1436.3 L823.0,1437.3 L825.3,1438.3 L827.5,1439.3 L829.7,1440.3 L831.9,1441.3 L834.1,1442.2 L836.4,1443.2 L838.6,1444.1 L840.8,1445.1 L843.1,1446.0 L845.3,1446.9 L847.6,1447.9 L849.8,1448.8 L852.0,1449.7 L854.3,1450.6 L856.6,1451.4 L858.8,1452.3 L861.1,1453.2 L863.4,1454.0 L865.6,1454.8 L867.9,1455.7 L870.2,1456.5 L872.5,1457.3 L874.7,1458.1 L877.0,1458.9 L879.3,1459.7 L881.6,1460.4 L883.9,1461.2 L886.2,1462.0 L888.5,1462.7 L890.8,1463.4 L893.2,1464.2 L895.5,1464.9 L897.8,1465.6 L900.1,1466.3 L902.4,1467.0 L904.8,1467.7 L907.1,1468.3 L909.4,1469.0 L911.7,1469.7 L914.1,1470.3 L916.4,1471.0 L918.8,1471.6 L921.1,1472.2 L923.5,1472.8 L925.8,1473.4 L928.1,1474.0 L930.5,1474.6 L932.9,1475.2 L935.2,1475.8 L937.6,1476.4 L939.9,1476.9 L942.3,1477.5 L944.7,1478.1 L947.0,1478.6 L949.4,1479.1 L951.8,1479.7 L954.1,1480.2 L956.5,1480.7 L958.9,1481.2 L961.3,1481.7 L963.7,1482.2 L966.0,1482.7 L968.4,1483.2 L970.8,1483.7 L973.2,1484.2 L975.6,1484.6 L978.0,1485.1 L980.4,1485.6 L982.8,1486.0 L985.1,1486.5 L987.5,1486.9 L989.9,1487.4 L992.3,1487.8 L994.7,1488.2 L997.1,1488.6 L999.5,1489.1 L1001.9,1489.5 L1004.3,1489.9 L1006.7,1490.3 L1009.1,1490.7 L1011.5,1491.1 L1013.9,1491.5 L1016.3,1491.8 L1018.7,1492.2 L1021.2,1492.6 L1023.6,1493.0 L1026.0,1493.3 L1028.4,1493.7 L1030.8,1494.1 L1033.2,1494.4 L1035.6,1494.8 L1038.0,1495.1 L1040.4,1495.5 L1042.8,1495.8 L1045.2,1496.2 L1047.6,1496.5 L1050.1,1496.8 L1052.5,1497.2 L1054.9,1497.5 L1057.3,1497.8 L1059.7,1498.1 L1062.1,1498.4 L1064.5,1498.7 L1066.9,1499.1 L1069.3,1499.4 L1071.8,1499.7 L1074.2,1500.0 L1076.6,1500.2 L1079.0,1500.5 L1081.4,1500.8 L1083.8,1501.1 L1086.2,1501.4 L1088.6,1501.7 L1091.1,1501.9 L1093.5,1502.2 L1095.9,1502.5 L1098.3,1502.8 L1100.7,1503.0 L1103.1,1503.3 L1105.6,1503.5 L1108.0,1503.8 L1110.4,1504.0 L1112.8,1504.3 L1115.2,1504.5 L1117.6,1504.8 L1120.1,1505.0 L1122.5,1505.2 L1124.9,1505.5 L1127.3,1505.7 L1129.7,1505.9 L1132.2,1506.1 L1134.6,1506.4 L1137.0,1506.6 L1139.4,1506.8 L1141.8,1507.0 L1144.3,1507.2 L1146.7,1507.4 L1149.1,1507.6 L1151.5,1507.8 L1153.9,1508.0 L1156.4,1508.2 L1158.8,1508.4 L1161.2,1508.6 L1163.6,1508.8 L1166.1,1509.0 L1168.5,1509.2 L1170.9,1509.3 L1173.3,1509.5 L1175.7,1509.7 L1178.2,1509.9 L1180.6,1510.0 L1183.0,1510.2 L1185.4,1510.4 L1187.9,1510.5 L1190.3,1510.7 L1192.7,1510.8 L1195.1,1511.0 L1197.6,1511.1 L1200.0,1511.3 L1202.4,1511.4 L1204.8,1511.6 L1207.3,1511.7 L1209.7,1511.9 L1212.1,1512.0 L1214.5,1512.2 L1217.0,1512.3 L1219.4,1512.4 L1221.8,1512.6 L1224.3,1512.7 L1226.7,1512.8 L1229.1,1512.9 L1231.5,1513.1 L1234.0,1513.2 L1236.4,1513.3 L1238.8,1513.4 L1241.2,1513.5 L1243.7,1513.6 L1246.1,1513.7 L1248.5,1513.9 L1251.0,1514.0 L1253.4,1514.1 L1255.8,1514.2 L1258.3,1514.3 L1260.7,1514.4 L1263.1,1514.5 L1265.5,1514.6 L1268.0,1514.7 L1270.4,1514.7 L1272.8,1514.8 L1275.3,1514.9 L1277.7,1515.0 L1280.1,1515.1 L1282.6,1515.2 L1285.0,1515.3 L1287.4,1515.3 L1289.8,1515.4 L1292.3,1515.5 L1294.7,1515.6 L1297.1,1515.7 L1299.6,1515.7 L1302.0,1515.8 L1304.4,1515.9 L1306.9,1515.9 L1309.3,1516.0 L1311.7,1516.1 L1314.2,1516.1 L1316.6,1516.2 L1319.0,1516.3 L1321.5,1516.3 L1323.9,1516.4 L1326.3,1516.4 L1328.8,1516.5 L1331.2,1516.6 L1333.6,1516.6 L1336.1,1516.7 L1338.5,1516.7 L1340.9,1516.8 L1343.4,1516.8 L1345.8,1516.9 L1348.2,1516.9 L1350.7,1517.0 L1353.1,1517.0 L1355.5,1517.0 L1358.0,1517.1 L1360.4,1517.1 L1362.8,1517.2 L1365.3,1517.2 L1367.7,1517.3 L1370.1,1517.3 L1372.6,1517.3 L1375.0,1517.4 L1377.4,1517.4 L1379.9,1517.4 L1382.3,1517.5 L1384.7,1517.5 L1387.2,1517.5 L1389.6,1517.6 L1392.0,1517.6 L1394.5,1517.6 L1396.9,1517.7 L1399.3,1517.7 L1401.8,1517.7 L1404.2,1517.8 L1406.6,1517.8 L1409.1,1517.8 L1411.5,1517.8 L1414.0,1517.9 L1416.4,1517.9 L1418.8,1517.9 L1421.3,1517.9 L1423.7,1518.0 L1426.1,1518.0 L1428.6,1518.0 L1431.0,1518.0 L1433.4,1518.1 L1435.9,1518.1 L1438.3,1518.1 L1440.7,1518.1 L1443.2,1518.1 L1445.6,1518.2 L1448.0,1518.2 L1450.5,1518.2 L1452.9,1518.2 L1455.3,1518.3 L1457.8,1518.3 L1460.2,1518.3 L1462.7,1518.3 L1465.1,1518.3 L1467.5,1518.4 L1470.0,1518.4 L1472.4,1518.4 L1474.8,1518.4 L1477.3,1518.4 L1479.7,1518.5 L1482.1,1518.5 L1484.6,1518.5 L1487.0,1518.5 L1489.4,1518.5 L1491.9,1518.6 L1494.3,1518.6 L1496.7,1518.6 L1499.2,1518.6 L1501.6,1518.6 L1504.0,1518.7 L1506.5,1518.7 L1508.9,1518.7 L1511.3,1518.7 L1513.8,1518.7 L1516.2,1518.8 L1518.6,1518.8 L1521.1,1518.8 L1523.5,1518.8 L1525.9,1518.9 L1528.4,1518.9 L1530.8,1518.9 L1533.2,1518.9 L1535.7,1518.9 L1538.1,1519.0 L1540.5,1519.0 L1543.0,1519.0 L1545.4,1519.0 L1547.9,1519.1 L1550.3,1519.1 L1552.7,1519.1 L1555.2,1519.1 L1557.6,1519.2 L1560.0,1519.2 L1562.5,1519.2 L1564.9,1519.3 L1567.3,1519.3 L1569.8,1519.3 L1572.2,1519.3 L1574.6,1519.4 L1577.0,1519.4 L1579.5,1519.4 L1581.9,1519.4 L1584.3,1519.5 L1586.8,1519.5 L1589.2,1519.5 L1591.6,1519.6 L1594.1,1519.6 L1596.5,1519.6 L1598.9,1519.6 L1601.4,1519.7 L1603.8,1519.7 L1606.2,1519.7 L1608.7,1519.8 L1611.1,1519.8 L1613.5,1519.8 L1616.0,1519.9 L1618.4,1519.9 L1620.8,1519.9 L1623.3,1519.9 L1625.7,1520.0 L1628.1,1520.0 L1630.6,1520.0 L1633.0,1520.1 L1635.4,1520.1 L1637.9,1520.1 L1640.3,1520.2 L1642.7,1520.2 L1645.2,1520.2 L1647.6,1520.3 L1650.0,1520.3 L1652.5,1520.3 L1654.9,1520.4 L1657.3,1520.4 L1659.7,1520.4 L1662.2,1520.5 L1664.6,1520.5 L1667.0,1520.5 L1669.5,1520.6 L1671.9,1520.6 L1674.3,1520.6 L1676.8,1520.7 L1679.2,1520.7 L1681.6,1520.7 L1684.1,1520.8 L1686.5,1520.8 L1688.9,1520.8 L1691.4,1520.9 L1693.8,1520.9 L1696.2,1520.9 L1698.7,1521.0 L1701.1,1521.0 L1703.5,1521.0 L1705.9,1521.1 L1708.4,1521.1 L1710.8,1521.1 L1713.2,1521.2 L1715.7,1521.2 L1718.1,1521.2 L1720.5,1521.3 L1723.0,1521.3 L1725.4,1521.3 L1727.8,1521.4 L1730.3,1521.4 L1732.7,1521.5 L1735.1,1521.5 L1737.6,1521.5 L1740.0,1521.6 L1742.4,1521.6 L1744.8,1521.6 L1747.3,1521.7 L1749.7,1521.7 L1752.1,1521.7 L1754.6,1521.8 L1757.0,1521.8 L1759.4,1521.8 L1761.9,1521.9 L1764.3,1521.9 L1766.7,1521.9 L1769.2,1522.0 L1771.6,1522.0 L1774.0,1522.0 L1776.4,1522.1 L1778.9,1522.1 L1781.3,1522.2 L1783.7,1522.2 L1786.2,1522.2 L1788.6,1522.3 L1791.0,1522.3 L1793.5,1522.3 L1795.9,1522.4 L1798.3,1522.4 L1800.7,1522.4 L1803.2,1522.5 L1805.6,1522.5 L1808.0,1522.5 L1810.5,1522.6 L1812.9,1522.6 L1815.3,1522.6 L1817.8,1522.7 L1820.2,1522.7 L1822.6,1522.8 L1825.1,1522.8 L1827.5,1522.8 L1829.9,1522.9 L1832.3,1522.9 L1834.8,1522.9 L1837.2,1523.0 L1839.6,1523.0 L1842.1,1523.0 L1844.5,1523.1 L1846.9,1523.1 L1849.4,1523.1 L1851.8,1523.2 L1854.2,1523.2 L1856.6,1523.2 L1859.1,1523.3 L1861.5,1523.3 L1863.9,1523.3 L1866.4,1523.4 L1868.8,1523.4 L1871.2,1523.4 L1873.7,1523.5 L1876.1,1523.5 L1878.5,1523.5 L1880.9,1523.6 L1883.4,1523.6 L1885.8,1523.6 L1888.2,1523.7 L1890.7,1523.7 L1893.1,1523.7 L1895.5,1523.8 L1898.0,1523.8 L1900.4,1523.8 L1902.8,1523.9 L1905.3,1523.9 L1907.7,1523.9 L1910.1,1524.0 L1912.5,1524.0 L1915.0,1524.0 L1917.4,1524.1 L1919.8,1524.1 L1922.3,1524.1 L1924.7,1524.1 L1927.1,1524.2 L1929.6,1524.2 L1932.0,1524.2 L1934.4,1524.3 L1936.8,1524.3 L1939.3,1524.3 L1941.7,1524.4 L1944.1,1524.4 L1946.6,1524.4 L1949.0,1524.5 L1951.4,1524.5 L1953.9,1524.5 L1956.3,1524.5 L1958.7,1524.6 L1961.1,1524.6 L1963.6,1524.6 L1966.0,1524.7 L1968.4,1524.7 L1970.9,1524.7 L1973.3,1524.7 L1975.7,1524.8 L1978.2,1524.8 L1980.6,1524.8 L1983.0,1524.8 L1985.4,1524.9 L1987.9,1524.9 L1990.3,1524.9 L1992.7,1524.9 L1995.2,1525.0 L1997.6,1525.0 L2000.0,1525.0 L2002.5,1525.1 L2004.9,1525.1 L2007.3,1525.1 L2009.8,1525.1 L2012.2,1525.2 L2014.6,1525.2 L2017.0,1525.2 L2019.5,1525.2 L2021.9,1525.2 L2024.3,1525.3 L2026.8,1525.3 L2029.2,1525.3 L2031.6,1525.3 L2034.1,1525.4 L2036.5,1525.4 L2038.9,1525.4 L2041.4,1525.4 L2043.8,1525.4 L2046.2,1525.5 L2048.6,1525.5 L2051.1,1525.5 L2053.5,1525.5 L2055.9,1525.5 L2058.4,1525.6 L2060.8,1525.6 L2063.2,1525.6 L2065.7,1525.6 L2068.1,1525.6 L2070.5,1525.7 L2073.0,1525.7 L2075.4,1525.7 L2077.8,1525.7 L2080.2,1525.7 L2082.7,1525.7 L2085.1,1525.8 L2087.5,1525.8 L2090.0,1525.8 L2092.4,1525.8 L2094.8,1525.8 L2097.3,1525.8 L2099.7,1525.9 L2102.1,1525.9 L2104.6,1525.9 L2107.0,1525.9 L2109.4,1525.9 L2111.8,1525.9 L2114.3,1525.9 L2116.7,1525.9 L2119.1,1526.0 L2121.6,1526.0 L2124.0,1526.0 L2126.4,1526.0 L2128.9,1526.0 L2131.3,1526.0 L2133.7,1526.0 L2136.2,1526.0 L2138.6,1526.0 L2141.0,1526.1 L2143.5,1526.1 L2145.9,1526.1 L2148.3,1526.1 L2150.8,1526.1 L2153.2,1526.1 L2155.6,1526.1 L2158.0,1526.1 L2160.5,1526.1 L2162.9,1526.1 L2165.3,1526.1 L2167.8,1526.1 L2170.2,1526.1 L2172.6,1526.1 L2175.1,1526.1 L2177.5,1526.1 L2179.9,1526.1 L2182.4,1526.2 L2184.8,1526.2 L2187.2,1526.2 L2189.7,1526.2 L2192.1,1526.2 L2194.5,1526.2 L2197.0,1526.2 L2199.4,1526.2 L2201.8,1526.2 L2204.3,1526.2 L2206.7,1526.2 L2209.1,1526.2 L2211.6,1526.2 L2214.0,1526.1 L2216.4,1526.1 L2218.9,1526.1 L2221.3,1526.1 L2223.7,1526.1 L2226.2,1526.1 L2228.6,1526.1 L2231.0,1526.1 L2233.5,1526.1 L2235.9,1526.1 L2238.3,1526.1 L2240.7,1526.1 L2243.2,1526.1 L2245.6,1526.1 L2248.0,1526.1 L2250.5,1526.1 L2252.9,1526.0 L2255.3,1526.0 L2257.8,1526.0 L2260.2,1526.0 L2262.6,1526.0 L2265.1,1526.0 L2267.5,1526.0 L2269.9,1526.0 L2272.4,1526.0 L2274.8,1525.9 L2277.2,1525.9 L2279.7,1525.9 L2282.1,1525.9 L2284.6,1525.9 L2287.0,1525.9 L2289.4,1525.9 L2291.9,1525.8 L2294.3,1525.8 L2296.7,1525.8 L2299.2,1525.8 L2301.6,1525.8 L2304.0,1525.7 L2306.5,1525.7 L2308.9,1525.7 L2311.3,1525.7 L2313.8,1525.7 L2316.2,1525.6 L2318.6,1525.6 L2321.1,1525.6 L2323.5,1525.6 L2325.9,1525.5 L2328.4,1525.5 L2330.8,1525.5 L2333.2,1525.5 L2335.7,1525.4 L2338.1,1525.4 L2340.5,1525.4 L2343.0,1525.4 L2345.4,1525.3 L2347.8,1525.3 L2350.3,1525.3 L2352.7,1525.2 L2355.2,1525.2 L2357.6,1525.2 L2360.0,1525.1" fill="none" stroke="#8000ff" stroke-width="10.8" stroke-linejoin="round" stroke-linecap="butt"/>
<path d="M275.3,1187.0 L277.2,1188.6 L279.1,1190.2 L280.9,1191.8 L282.7,1193.5 L284.5,1195.2 L286.3,1196.8 L288.0,1198.5 L289.8,1200.2 L291.5,1202.0 L293.2,1203.7 L294.9,1205.5 L296.6,1207.2 L298.3,1209.0 L299.9,1210.8 L301.6,1212.6 L303.2,1214.4 L304.8,1216.2 L306.4,1218.1 L308.0,1219.9 L309.6,1221.8 L311.1,1223.7 L312.7,1225.5 L314.2,1227.4 L315.8,1229.3 L317.3,1231.2 L318.8,1233.1 L320.3,1235.1 L321.8,1237.0 L323.3,1238.9 L324.8,1240.9 L326.2,1242.8 L327.7,1244.8 L329.1,1246.8 L330.6,1248.7 L332.0,1250.7 L333.4,1252.7 L334.9,1254.7 L336.3,1256.7 L337.7,1258.7 L339.1,1260.7 L340.5,1262.7 L341.9,1264.7 L343.3,1266.7 L344.7,1268.7 L346.1,1270.8 L347.5,1272.8 L348.9,1274.8 L350.3,1276.8 L351.6,1278.9 L353.0,1280.9 L354.4,1282.9 L355.8,1284.9 L357.2,1287.0 L358.6,1289.0 L359.9,1291.0 L361.3,1293.1 L362.7,1295.1 L364.1,1297.1 L365.5,1299.1 L366.9,1301.1 L368.3,1303.2 L369.7,1305.2 L371.1,1307.2 L372.5,1309.2 L373.9,1311.2 L375.3,1313.2 L376.7,1315.2 L378.2,1317.2 L379.6,1319.2 L381.1,1321.1 L382.5,1323.1 L384.0,1325.1 L385.4,1327.0 L386.9,1329.0 L388.4,1330.9 L389.9,1332.9 L391.4,1334.8 L392.9,1336.7 L394.4,1338.7 L395.9,1340.6 L397.4,1342.5 L399.0,1344.4 L400.6,1346.2 L402.1,1348.1 L403.7,1350.0 L405.3,1351.8 L406.9,1353.6 L408.5,1355.5 L410.2,1357.3 L411.8,1359.1 L413.5,1360.9 L415.2,1362.7 L416.9,1364.4 L418.6,1366.2 L420.3,1367.9 L422.0,1369.6 L423.8,1371.3 L425.6,1373.0 L427.4,1374.7 L429.2,1376.3 L431.0,1377.9 L432.8,1379.5 L434.7,1381.0 L436.6,1382.6 L438.5,1384.1 L440.4,1385.5 L442.3,1387.0 L444.3,1388.4 L446.2,1389.7 L448.2,1391.0 L450.2,1392.3 L452.3,1393.6 L454.3,1394.8 L456.4,1395.9 L458.5,1397.0 L460.6,1398.1 L462.7,1399.1 L464.9,1400.1 L467.1,1401.0 L469.3,1401.9 L471.5,1402.7 L473.7,1403.4 L476.0,1404.1 L478.3,1404.8 L480.6,1405.4 L482.9,1405.9 L485.3,1406.3 L487.6,1406.8 L490.0,1407.1 L492.4,1407.4 L494.9,1407.7 L497.3,1407.9 L499.8,1408.1 L502.2,1408.2 L504.7,1408.4 L507.2,1408.4 L509.7,1408.5 L512.2,1408.5 L514.7,1408.5 L517.2,1408.4 L519.7,1408.3 L522.2,1408.3 L524.7,1408.2 L527.2,1408.0 L529.7,1407.9 L532.3,1407.8 L534.8,1407.6 L537.3,1407.5 L539.8,1407.3 L542.2,1407.1 L544.7,1407.0 L547.2,1406.8 L549.7,1406.6 L552.2,1406.4 L554.7,1406.2 L557.1,1406.1 L559.6,1405.9 L562.1,1405.8 L564.5,1405.6 L567.0,1405.5 L569.5,1405.3 L571.9,1405.2 L574.4,1405.1 L576.8,1405.0 L579.3,1405.0 L581.7,1404.9 L584.2,1404.9 L586.6,1404.9 L589.0,1404.9 L591.5,1404.9 L593.9,1405.0 L596.3,1405.1 L598.7,1405.2 L601.1,1405.3 L603.6,1405.5 L606.0,1405.7 L608.4,1405.9 L610.8,1406.2 L613.2,1406.5 L615.6,1406.7 L618.0,1407.1 L620.4,1407.4 L622.8,1407.7 L625.2,1408.1 L627.6,1408.5 L630.0,1408.9 L632.3,1409.3 L634.7,1409.7 L637.1,1410.2 L639.5,1410.7 L641.9,1411.1 L644.2,1411.6 L646.6,1412.1 L649.0,1412.6 L651.4,1413.1 L653.7,1413.6 L656.1,1414.2 L658.5,1414.7 L660.9,1415.2 L663.2,1415.8 L665.6,1416.3 L668.0,1416.9 L670.3,1417.5 L672.7,1418.1 L675.1,1418.6 L677.4,1419.2 L679.8,1419.8 L682.1,1420.4 L684.5,1421.0 L686.9,1421.6 L689.2,1422.2 L691.6,1422.9 L693.9,1423.5 L696.3,1424.1 L698.7,1424.7 L701.0,1425.4 L703.4,1426.0 L705.7,1426.7 L708.1,1427.3 L710.4,1428.0 L712.8,1428.6 L715.1,1429.3 L717.5,1429.9 L719.8,1430.6 L722.2,1431.3 L724.5,1432.0 L726.9,1432.6 L729.2,1433.3 L731.6,1434.0 L733.9,1434.7 L736.3,1435.4 L738.6,1436.1 L741.0,1436.8 L743.3,1437.4 L745.7,1438.1 L748.0,1438.8 L750.4,1439.5 L752.7,1440.2 L755.1,1440.9 L757.4,1441.6 L759.8,1442.3 L762.1,1443.0 L764.5,1443.8 L766.8,1444.5 L769.2,1445.2 L771.5,1445.9 L773.9,1446.6 L776.2,1447.3 L778.6,1448.0 L780.9,1448.7 L783.3,1449.4 L785.6,1450.1 L788.0,1450.8 L790.3,1451.5 L792.7,1452.2 L795.0,1452.9 L797.4,1453.6 L799.7,1454.3 L802.1,1455.0 L804.4,1455.7 L806.8,1456.4 L809.1,1457.1 L811.5,1457.7 L813.8,1458.4 L816.2,1459.1 L818.6,1459.8 L820.9,1460.5 L823.3,1461.1 L825.6,1461.8 L828.0,1462.5 L830.3,1463.1 L832.7,1463.8 L835.1,1464.4 L837.4,1465.1 L839.8,1465.7 L842.1,1466.4 L844.5,1467.0 L846.9,1467.7 L849.2,1468.3 L851.6,1468.9 L854.0,1469.5 L856.3,1470.2 L858.7,1470.8 L861.1,1471.4 L863.4,1472.0 L865.8,1472.6 L868.2,1473.2 L870.6,1473.7 L872.9,1474.3 L875.3,1474.9 L877.7,1475.4 L880.1,1476.0 L882.4,1476.6 L884.8,1477.1 L887.2,1477.6 L889.6,1478.2 L892.0,1478.7 L894.3,1479.2 L896.7,1479.7 L899.1,1480.2 L901.5,1480.7 L903.9,1481.2 L906.3,1481.7 L908.7,1482.2 L911.1,1482.7 L913.5,1483.2 L915.9,1483.6 L918.3,1484.1 L920.7,1484.5 L923.0,1485.0 L925.4,1485.4 L927.8,1485.9 L930.2,1486.3 L932.6,1486.7 L935.0,1487.1 L937.4,1487.6 L939.9,1488.0 L942.3,1488.4 L944.7,1488.8 L947.1,1489.2 L949.5,1489.6 L951.9,1490.0 L954.3,1490.3 L956.7,1490.7 L959.1,1491.1 L961.5,1491.4 L963.9,1491.8 L966.3,1492.2 L968.8,1492.5 L971.2,1492.9 L973.6,1493.2 L976.0,1493.5 L978.4,1493.9 L980.8,1494.2 L983.3,1494.5 L985.7,1494.9 L988.1,1495.2 L990.5,1495.5 L992.9,1495.8 L995.3,1496.1 L997.8,1496.4 L1000.2,1496.7 L1002.6,1497.0 L1005.0,1497.3 L1007.5,1497.6 L1009.9,1497.9 L1012.3,1498.1 L1014.7,1498.4 L1017.2,1498.7 L1019.6,1498.9 L1022.0,1499.2 L1024.4,1499.5 L1026.9,1499.7 L1029.3,1500.0 L1031.7,1500.2 L1034.2,1500.5 L1036.6,1500.7 L1039.0,1501.0 L1041.4,1501.2 L1043.9,1501.4 L1046.3,1501.7 L1048.7,1501.9 L1051.2,1502.1 L1053.6,1502.4 L1056.0,1502.6 L1058.5,1502.8 L1060.9,1503.0 L1063.3,1503.2 L1065.8,1503.5 L1068.2,1503.7 L1070.6,1503.9 L1073.1,1504.1 L1075.5,1504.3 L1077.9,1504.5 L1080.4,1504.7 L1082.8,1504.9 L1085.2,1505.1 L1087.7,1505.3 L1090.1,1505.5 L1092.5,1505.6 L1095.0,1505.8 L1097.4,1506.0 L1099.8,1506.2 L1102.3,1506.4 L1104.7,1506.6 L1107.2,1506.8 L1109.6,1506.9 L1112.0,1507.1 L1114.5,1507.3 L1116.9,1507.5 L1119.3,1507.6 L1121.8,1507.8 L1124.2,1508.0 L1126.6,1508.1 L1129.1,1508.3 L1131.5,1508.5 L1134.0,1508.6 L1136.4,1508.8 L1138.8,1508.9 L1141.3,1509.1 L1143.7,1509.3 L1146.1,1509.4 L1148.6,1509.6 L1151.0,1509.7 L1153.4,1509.9 L1155.9,1510.0 L1158.3,1510.2 L1160.8,1510.3 L1163.2,1510.5 L1165.6,1510.6 L1168.1,1510.7 L1170.5,1510.9 L1172.9,1511.0 L1175.4,1511.2 L1177.8,1511.3 L1180.3,1511.4 L1182.7,1511.6 L1185.1,1511.7 L1187.6,1511.8 L1190.0,1511.9 L1192.5,1512.1 L1194.9,1512.2 L1197.3,1512.3 L1199.8,1512.5 L1202.2,1512.6 L1204.6,1512.7 L1207.1,1512.8 L1209.5,1512.9 L1212.0,1513.1 L1214.4,1513.2 L1216.8,1513.3 L1219.3,1513.4 L1221.7,1513.5 L1224.2,1513.6 L1226.6,1513.7 L1229.0,1513.8 L1231.5,1513.9 L1233.9,1514.1 L1236.4,1514.2 L1238.8,1514.3 L1241.2,1514.4 L1243.7,1514.5 L1246.1,1514.6 L1248.6,1514.7 L1251.0,1514.8 L1253.4,1514.9 L1255.9,1515.0 L1258.3,1515.0 L1260.8,1515.1 L1263.2,1515.2 L1265.6,1515.3 L1268.1,1515.4 L1270.5,1515.5 L1273.0,1515.6 L1275.4,1515.7 L1277.8,1515.8 L1280.3,1515.8 L1282.7,1515.9 L1285.2,1516.0 L1287.6,1516.1 L1290.0,1516.2 L1292.5,1516.3 L1294.9,1516.3 L1297.4,1516.4 L1299.8,1516.5 L1302.3,1516.6 L1304.7,1516.6 L1307.1,1516.7 L1309.6,1516.8 L1312.0,1516.9 L1314.5,1516.9 L1316.9,1517.0 L1319.3,1517.1 L1321.8,1517.1 L1324.2,1517.2 L1326.7,1517.3 L1329.1,1517.3 L1331.6,1517.4 L1334.0,1517.4 L1336.4,1517.5 L1338.9,1517.6 L1341.3,1517.6 L1343.8,1517.7 L1346.2,1517.7 L1348.6,1517.8 L1351.1,1517.9 L1353.5,1517.9 L1356.0,1518.0 L1358.4,1518.0 L1360.9,1518.1 L1363.3,1518.1 L1365.7,1518.2 L1368.2,1518.2 L1370.6,1518.3 L1373.1,1518.3 L1375.5,1518.4 L1378.0,1518.4 L1380.4,1518.5 L1382.8,1518.5 L1385.3,1518.6 L1387.7,1518.6 L1390.2,1518.7 L1392.6,1518.7 L1395.0,1518.7 L1397.5,1518.8 L1399.9,1518.8 L1402.4,1518.9 L1404.8,1518.9 L1407.3,1518.9 L1409.7,1519.0 L1412.2,1519.0 L1414.6,1519.0 L1417.0,1519.1 L1419.5,1519.1 L1421.9,1519.2 L1424.4,1519.2 L1426.8,1519.2 L1429.3,1519.3 L1431.7,1519.3 L1434.1,1519.3 L1436.6,1519.4 L1439.0,1519.4 L1441.5,1519.4 L1443.9,1519.4 L1446.4,1519.5 L1448.8,1519.5 L1451.2,1519.5 L1453.7,1519.6 L1456.1,1519.6 L1458.6,1519.6 L1461.0,1519.6 L1463.5,1519.7 L1465.9,1519.7 L1468.3,1519.7 L1470.8,1519.7 L1473.2,1519.7 L1475.7,1519.8 L1478.1,1519.8 L1480.6,1519.8 L1483.0,1519.8 L1485.5,1519.9 L1487.9,1519.9 L1490.3,1519.9 L1492.8,1519.9 L1495.2,1519.9 L1497.7,1520.0 L1500.1,1520.0 L1502.6,1520.0 L1505.0,1520.0 L1507.4,1520.0 L1509.9,1520.0 L1512.3,1520.1 L1514.8,1520.1 L1517.2,1520.1 L1519.7,1520.1 L1522.1,1520.1 L1524.6,1520.1 L1527.0,1520.1 L1529.4,1520.2 L1531.9,1520.2 L1534.3,1520.2 L1536.8,1520.2 L1539.2,1520.2 L1541.7,1520.2 L1544.1,1520.2 L1546.6,1520.2 L1549.0,1520.3 L1551.4,1520.3 L1553.9,1520.3 L1556.3,1520.3 L1558.8,1520.3 L1561.2,1520.3 L1563.7,1520.3 L1566.1,1520.3 L1568.5,1520.3 L1571.0,1520.3 L1573.4,1520.4 L1575.9,1520.4 L1578.3,1520.4 L1580.8,1520.4 L1583.2,1520.4 L1585.7,1520.4 L1588.1,1520.4 L1590.5,1520.4 L1593.0,1520.4 L1595.4,1520.4 L1597.9,1520.4 L1600.3,1520.4 L1602.8,1520.5 L1605.2,1520.5 L1607.7,1520.5 L1610.1,1520.5 L1612.5,1520.5 L1615.0,1520.5 L1617.4,1520.5 L1619.9,1520.5 L1622.3,1520.5 L1624.8,1520.5 L1627.2,1520.5 L1629.6,1520.5 L1632.1,1520.5 L1634.5,1520.5 L1637.0,1520.6 L1639.4,1520.6 L1641.9,1520.6 L1644.3,1520.6 L1646.8,1520.6 L1649.2,1520.6 L1651.6,1520.6 L1654.1,1520.6 L1656.5,1520.6 L1659.0,1520.6 L1661.4,1520.6 L1663.9,1520.6 L1666.3,1520.6 L1668.8,1520.6 L1671.2,1520.7 L1673.6,1520.7 L1676.1,1520.7 L1678.5,1520.7 L1681.0,1520.7 L1683.4,1520.7 L1685.9,1520.7 L1688.3,1520.7 L1690.7,1520.7 L1693.2,1520.7 L1695.6,1520.7 L1698.1,1520.8 L1700.5,1520.8 L1703.0,1520.8 L1705.4,1520.8 L1707.9,1520.8 L1710.3,1520.8 L1712.7,1520.8 L1715.2,1520.8 L1717.6,1520.8 L1720.1,1520.9 L1722.5,1520.9 L1725.0,1520.9 L1727.4,1520.9 L1729.8,1520.9 L1732.3,1520.9 L1734.7,1520.9 L1737.2,1520.9 L1739.6,1521.0 L1742.1,1521.0 L1744.5,1521.0 L1746.9,1521.0 L1749.4,1521.0 L1751.8,1521.0 L1754.3,1521.0 L1756.7,1521.1 L1759.2,1521.1 L1761.6,1521.1 L1764.1,1521.1 L1766.5,1521.1 L1768.9,1521.2 L1771.4,1521.2 L1773.8,1521.2 L1776.3,1521.2 L1778.7,1521.2 L1781.2,1521.3 L1783.6,1521.3 L1786.0,1521.3 L1788.5,1521.3 L1790.9,1521.3 L1793.4,1521.4 L1795.8,1521.4 L1798.3,1521.4 L1800.7,1521.4 L1803.1,1521.5 L1805.6,1521.5 L1808.0,1521.5 L1810.5,1521.5 L1812.9,1521.6 L1815.3,1521.6 L1817.8,1521.6 L1820.2,1521.6 L1822.7,1521.7 L1825.1,1521.7 L1827.6,1521.7 L1830.0,1521.8 L1832.4,1521.8 L1834.9,1521.8 L1837.3,1521.9 L1839.8,1521.9 L1842.2,1521.9 L1844.7,1521.9 L1847.1,1522.0 L1849.5,1522.0 L1852.0,1522.0 L1854.4,1522.1 L1856.9,1522.1 L1859.3,1522.1 L1861.7,1522.2 L1864.2,1522.2 L1866.6,1522.2 L1869.1,1522.3 L1871.5,1522.3 L1874.0,1522.3 L1876.4,1522.4 L1878.8,1522.4 L1881.3,1522.5 L1883.7,1522.5 L1886.2,1522.5 L1888.6,1522.6 L1891.1,1522.6 L1893.5,1522.6 L1895.9,1522.7 L1898.4,1522.7 L1900.8,1522.7 L1903.3,1522.8 L1905.7,1522.8 L1908.1,1522.9 L1910.6,1522.9 L1913.0,1522.9 L1915.5,1523.0 L1917.9,1523.0 L1920.3,1523.0 L1922.8,1523.1 L1925.2,1523.1 L1927.7,1523.2 L1930.1,1523.2 L1932.6,1523.2 L1935.0,1523.3 L1937.4,1523.3 L1939.9,1523.4 L1942.3,1523.4 L1944.8,1523.4 L1947.2,1523.5 L1949.6,1523.5 L1952.1,1523.5 L1954.5,1523.6 L1957.0,1523.6 L1959.4,1523.7 L1961.9,1523.7 L1964.3,1523.7 L1966.7,1523.8 L1969.2,1523.8 L1971.6,1523.9 L1974.1,1523.9 L1976.5,1523.9 L1978.9,1524.0 L1981.4,1524.0 L1983.8,1524.0 L1986.3,1524.1 L1988.7,1524.1 L1991.1,1524.2 L1993.6,1524.2 L1996.0,1524.2 L1998.5,1524.3 L2000.9,1524.3 L2003.4,1524.4 L2005.8,1524.4 L2008.2,1524.4 L2010.7,1524.5 L2013.1,1524.5 L2015.6,1524.5 L2018.0,1524.6 L2020.4,1524.6 L2022.9,1524.7 L2025.3,1524.7 L2027.8,1524.7 L2030.2,1524.8 L2032.7,1524.8 L2035.1,1524.8 L2037.5,1524.9 L2040.0,1524.9 L2042.4,1524.9 L2044.9,1525.0 L2047.3,1525.0 L2049.7,1525.0 L2052.2,1525.1 L2054.6,1525.1 L2057.1,1525.1 L2059.5,1525.2 L2061.9,1525.2 L2064.4,1525.2 L2066.8,1525.3 L2069.3,1525.3 L2071.7,1525.3 L2074.2,1525.4 L2076.6,1525.4 L2079.0,1525.4 L2081.5,1525.5 L2083.9,1525.5 L2086.4,1525.5 L2088.8,1525.5 L2091.2,1525.6 L2093.7,1525.6 L2096.1,1525.6 L2098.6,1525.7 L2101.0,1525.7 L2103.5,1525.7 L2105.9,1525.7 L2108.3,1525.8 L2110.8,1525.8 L2113.2,1525.8 L2115.7,1525.8 L2118.1,1525.9 L2120.5,1525.9 L2123.0,1525.9 L2125.4,1525.9 L2127.9,1525.9 L2130.3,1526.0 L2132.8,1526.0 L2135.2,1526.0 L2137.6,1526.0 L2140.1,1526.1 L2142.5,1526.1 L2145.0,1526.1 L2147.4,1526.1 L2149.9,1526.1 L2152.3,1526.1 L2154.7,1526.2 L2157.2,1526.2 L2159.6,1526.2 L2162.1,1526.2 L2164.5,1526.2 L2166.9,1526.2 L2169.4,1526.2 L2171.8,1526.3 L2174.3,1526.3 L2176.7,1526.3 L2179.2,1526.3 L2181.6,1526.3 L2184.0,1526.3 L2186.5,1526.3 L2188.9,1526.3 L2191.4,1526.3 L2193.8,1526.3 L2196.3,1526.3 L2198.7,1526.4 L2201.1,1526.4 L2203.6,1526.4 L2206.0,1526.4 L2208.5,1526.4 L2210.9,1526.4 L2213.4,1526.4 L2215.8,1526.4 L2218.2,1526.4 L2220.7,1526.4 L2223.1,1526.4 L2225.6,1526.4 L2228.0,1526.4 L2230.5,1526.4 L2232.9,1526.4 L2235.3,1526.3 L2237.8,1526.3 L2240.2,1526.3 L2242.7,1526.3 L2245.1,1526.3 L2247.6,1526.3 L2250.0,1526.3 L2252.4,1526.3 L2254.9,1526.3 L2257.3,1526.3 L2259.8,1526.2 L2262.2,1526.2 L2264.7,1526.2 L2267.1,1526.2 L2269.6,1526.2 L2272.0,1526.2 L2274.4,1526.1 L2276.9,1526.1 L2279.3,1526.1 L2281.8,1526.1 L2284.2,1526.1 L2286.7,1526.0 L2289.1,1526.0 L2291.6,1526.0 L2294.0,1526.0 L2296.4,1525.9 L2298.9,1525.9 L2301.3,1525.9 L2303.8,1525.8 L2306.2,1525.8 L2308.7,1525.8 L2311.1,1525.7 L2313.6,1525.7 L2316.0,1525.7 L2318.4,1525.6 L2320.9,1525.6 L2323.3,1525.6 L2325.8,1525.5 L2328.2,1525.5 L2330.7,1525.4 L2333.1,1525.4 L2335.6,1525.4 L2338.0,1525.3 L2340.4,1525.3 L2342.9,1525.2 L2345.3,1525.2 L2347.8,1525.1 L2350.2,1525.1 L2352.7,1525.0 L2355.1,1525.0 L2357.6,1524.9 L2360.0,1524.9" fill="none" stroke="#800080" stroke-width="10.8" stroke-linejoin="round" stroke-linecap="butt"/>
</g>
<path d="M594.5,108.1 V1480.9" fill="none" stroke="#000" stroke-width="8.0" stroke-linecap="round" stroke-dasharray="25.7 38.48"/>
<path d="M1506.4,1339.2 V1556.8" fill="none" stroke="#000" stroke-width="7.8" stroke-linecap="round" stroke-dasharray="25.6 38.4"/>
<path d="M1819.5,191.3 H1996.2" stroke="#000000" stroke-width="11.5" stroke-linecap="round" fill="none"/>
<text transform="translate(2035.4,217.6) scale(1.0001,1)" font-size="79.3" font-family="'Liberation Serif', serif" font-weight="bold">0</text>
<text transform="translate(2136.5,217.6) scale(1.0001,1)" font-size="77" font-family="'Liberation Serif', serif" font-weight="bold">min</text>
<path d="M1819.5,288.1 H1996.2" stroke="#ff0000" stroke-width="11.5" stroke-linecap="round" fill="none"/>
<text transform="translate(1994.8,314.4) scale(1.0001,1)" font-size="79.3" font-family="'Liberation Serif', serif" font-weight="bold">-30</text>
<text transform="translate(2142.5,314.4) scale(1.0001,1)" font-size="77" font-family="'Liberation Serif', serif" font-weight="bold">min</text>
<path d="M1819.5,384.9 H1996.2" stroke="#0000ff" stroke-width="11.5" stroke-linecap="round" fill="none"/>
<text transform="translate(2013.9,411.2) scale(1.0001,1)" font-size="79.3" font-family="'Liberation Serif', serif" font-weight="bold">20</text>
<text transform="translate(2136.5,411.2) scale(1.0001,1)" font-size="77" font-family="'Liberation Serif', serif" font-weight="bold">min</text>
<path d="M1819.5,481.7 H1996.2" stroke="#ff00ff" stroke-width="11.5" stroke-linecap="round" fill="none"/>
<text transform="translate(2013.9,508.0) scale(1.0001,1)" font-size="79.3" font-family="'Liberation Serif', serif" font-weight="bold">40</text>
<text transform="translate(2136.5,508.0) scale(1.0001,1)" font-size="77" font-family="'Liberation Serif', serif" font-weight="bold">min</text>
<path d="M1819.5,578.5 H1996.2" stroke="#008000" stroke-width="11.5" stroke-linecap="round" fill="none"/>
<text transform="translate(2014.9,604.8) scale(1.0001,1)" font-size="79.3" font-family="'Liberation Serif', serif" font-weight="bold">60</text>
<text transform="translate(2136.5,604.8) scale(1.0001,1)" font-size="77" font-family="'Liberation Serif', serif" font-weight="bold">min</text>
<path d="M1819.5,675.3 H1996.2" stroke="#000080" stroke-width="11.5" stroke-linecap="round" fill="none"/>
<text transform="translate(2014.9,701.6) scale(1.0001,1)" font-size="79.3" font-family="'Liberation Serif', serif" font-weight="bold">80</text>
<text transform="translate(2136.5,701.6) scale(1.0001,1)" font-size="77" font-family="'Liberation Serif', serif" font-weight="bold">min</text>
<path d="M1819.5,772.1 H1996.2" stroke="#8000ff" stroke-width="11.5" stroke-linecap="round" fill="none"/>
<text transform="translate(1995.9,798.4) scale(1.0001,1)" font-size="79.3" font-family="'Liberation Serif', serif" font-weight="bold">100</text>
<text transform="translate(2136.5,798.4) scale(1.0001,1)" font-size="77" font-family="'Liberation Serif', serif" font-weight="bold">min</text>
<path d="M1819.5,868.9 H1996.2" stroke="#800080" stroke-width="11.5" stroke-linecap="round" fill="none"/>
<text transform="translate(1995.9,895.2) scale(1.0001,1)" font-size="79.3" font-family="'Liberation Serif', serif" font-weight="bold">120</text>
<text transform="translate(2136.5,895.2) scale(1.0001,1)" font-size="77" font-family="'Liberation Serif', serif" font-weight="bold">min</text>
<clipPath id="ic"><rect x="897" y="746" width="917" height="290"/></clipPath>
<g clip-path="url(#ic)">
<path d="M897.1,920.9 L901.7,920.7 L906.3,920.4 L911.0,920.2 L915.6,920.0 L920.2,919.7 L924.8,919.4 L929.5,919.1 L934.1,918.8 L938.7,918.5 L943.4,918.2 L948.0,917.9 L952.6,917.5 L957.3,917.2 L961.9,916.8 L966.5,916.4 L971.2,916.0 L975.8,915.6 L980.4,915.2 L985.1,914.8 L989.7,914.4 L994.4,913.9 L999.0,913.5 L1003.6,913.0 L1008.3,912.6 L1012.9,912.1 L1017.6,911.7 L1022.2,911.2 L1026.9,910.7 L1031.5,910.2 L1036.2,909.7 L1040.8,909.3 L1045.4,908.8 L1050.1,908.3 L1054.7,907.8 L1059.4,907.3 L1064.0,906.8 L1068.7,906.3 L1073.3,905.7 L1078.0,905.2 L1082.6,904.7 L1087.3,904.2 L1091.9,903.7 L1096.6,903.2 L1101.3,902.7 L1105.9,902.2 L1110.6,901.7 L1115.2,901.2 L1119.9,900.7 L1124.5,900.2 L1129.2,899.7 L1133.8,899.3 L1138.5,898.8 L1143.1,898.3 L1147.8,897.9 L1152.4,897.4 L1157.1,896.9 L1161.8,896.5 L1166.4,896.0 L1171.1,895.6 L1175.7,895.2 L1180.4,894.8 L1185.0,894.4 L1189.7,894.0 L1194.3,893.6 L1199.0,893.2 L1203.7,892.8 L1208.3,892.5 L1213.0,892.1 L1217.6,891.8 L1222.3,891.5 L1226.9,891.1 L1231.6,890.8 L1236.2,890.6 L1240.9,890.3 L1245.6,890.0 L1250.2,889.8 L1254.9,889.6 L1259.5,889.3 L1264.2,889.1 L1268.8,889.0 L1273.5,888.8 L1278.1,888.6 L1282.8,888.5 L1287.4,888.4 L1292.1,888.3 L1296.7,888.2 L1301.4,888.2 L1306.0,888.1 L1310.7,888.1 L1315.3,888.1 L1320.0,888.1 L1324.6,888.2 L1329.3,888.2 L1333.9,888.3 L1338.6,888.4 L1343.2,888.5 L1347.9,888.7 L1352.5,888.9 L1357.1,889.1 L1361.8,889.3 L1366.4,889.5 L1371.1,889.8 L1375.7,890.1 L1380.4,890.4 L1385.0,890.7 L1389.6,891.1 L1394.3,891.5 L1398.9,891.9 L1403.5,892.3 L1408.2,892.7 L1412.8,893.2 L1417.4,893.7 L1422.0,894.2 L1426.7,894.7 L1431.3,895.3 L1435.9,895.9 L1440.5,896.5 L1445.1,897.1 L1449.8,897.7 L1454.4,898.4 L1459.0,899.1 L1463.6,899.8 L1468.2,900.5 L1472.8,901.2 L1477.4,902.0 L1482.0,902.8 L1486.6,903.6 L1491.1,904.4 L1495.7,905.3 L1500.3,906.1 L1504.9,907.0 L1509.5,907.9 L1514.0,908.9 L1518.6,909.8 L1523.2,910.8 L1527.7,911.8 L1532.3,912.8 L1536.8,913.8 L1541.4,914.8 L1545.9,915.9 L1550.5,917.0 L1555.0,918.1 L1559.6,919.2 L1564.1,920.3 L1568.6,921.4 L1573.2,922.5 L1577.7,923.7 L1582.2,924.8 L1586.7,926.0 L1591.3,927.2 L1595.8,928.4 L1600.3,929.5 L1604.8,930.7 L1609.3,931.9 L1613.8,933.1 L1618.4,934.4 L1622.9,935.6 L1627.4,936.8 L1631.9,938.0 L1636.4,939.2 L1640.9,940.4 L1645.4,941.7 L1649.9,942.9 L1654.4,944.1 L1658.9,945.3 L1663.4,946.5 L1668.0,947.7 L1672.5,948.9 L1677.0,950.0 L1681.5,951.2 L1686.0,952.4 L1690.5,953.5 L1695.1,954.7 L1699.6,955.8 L1704.1,956.9 L1708.6,958.0 L1713.2,959.1 L1717.7,960.2 L1722.2,961.2 L1726.8,962.3 L1731.3,963.3 L1735.9,964.3 L1740.4,965.2 L1745.0,966.2 L1749.5,967.1 L1754.1,968.0 L1758.7,968.9 L1763.2,969.8 L1767.8,970.6 L1772.4,971.4 L1777.0,972.2 L1781.6,972.9 L1786.2,973.7 L1790.8,974.4 L1795.4,975.0 L1800.1,975.6 L1804.7,976.2 L1809.3,976.8 L1814.0,977.3" fill="none" stroke="#000000" stroke-width="23" stroke-linejoin="round"/>
<path d="M897.0,908.9 L901.7,909.2 L906.3,909.4 L911.0,909.6 L915.7,909.8 L920.3,910.0 L925.0,910.1 L929.6,910.3 L934.3,910.4 L939.0,910.5 L943.6,910.5 L948.3,910.6 L952.9,910.6 L957.6,910.6 L962.3,910.6 L966.9,910.6 L971.6,910.6 L976.2,910.5 L980.9,910.5 L985.6,910.4 L990.2,910.3 L994.9,910.2 L999.5,910.1 L1004.2,910.0 L1008.9,909.8 L1013.5,909.7 L1018.2,909.5 L1022.8,909.4 L1027.5,909.2 L1032.2,909.0 L1036.8,908.8 L1041.5,908.6 L1046.2,908.4 L1050.8,908.1 L1055.5,907.9 L1060.1,907.7 L1064.8,907.4 L1069.5,907.2 L1074.1,906.9 L1078.8,906.7 L1083.4,906.4 L1088.1,906.1 L1092.8,905.9 L1097.4,905.6 L1102.1,905.3 L1106.8,905.0 L1111.4,904.8 L1116.1,904.5 L1120.7,904.2 L1125.4,903.9 L1130.1,903.7 L1134.7,903.4 L1139.4,903.1 L1144.0,902.9 L1148.7,902.6 L1153.4,902.3 L1158.0,902.1 L1162.7,901.8 L1167.3,901.6 L1172.0,901.3 L1176.7,901.1 L1181.3,900.8 L1186.0,900.6 L1190.6,900.4 L1195.3,900.2 L1200.0,900.0 L1204.6,899.8 L1209.3,899.6 L1213.9,899.4 L1218.6,899.3 L1223.3,899.1 L1227.9,899.0 L1232.6,898.8 L1237.2,898.7 L1241.9,898.6 L1246.5,898.5 L1251.2,898.4 L1255.9,898.4 L1260.5,898.3 L1265.2,898.3 L1269.8,898.3 L1274.5,898.2 L1279.1,898.3 L1283.8,898.3 L1288.5,898.3 L1293.1,898.4 L1297.8,898.5 L1302.4,898.6 L1307.1,898.7 L1311.7,898.8 L1316.4,899.0 L1321.1,899.2 L1325.7,899.4 L1330.4,899.6 L1335.0,899.9 L1339.7,900.1 L1344.3,900.4 L1349.0,900.7 L1353.6,901.0 L1358.3,901.3 L1362.9,901.7 L1367.6,902.1 L1372.2,902.4 L1376.9,902.8 L1381.5,903.2 L1386.2,903.7 L1390.8,904.1 L1395.5,904.5 L1400.1,905.0 L1404.8,905.5 L1409.4,906.0 L1414.0,906.5 L1418.7,907.0 L1423.3,907.5 L1427.9,908.0 L1432.6,908.6 L1437.2,909.2 L1441.8,909.8 L1446.5,910.4 L1451.1,911.1 L1455.7,911.7 L1460.3,912.4 L1464.9,913.1 L1469.5,913.8 L1474.1,914.6 L1478.7,915.4 L1483.3,916.2 L1487.9,917.0 L1492.5,917.8 L1497.1,918.7 L1501.6,919.6 L1506.2,920.6 L1510.7,921.5 L1515.3,922.5 L1519.9,923.5 L1524.4,924.5 L1528.9,925.6 L1533.5,926.6 L1538.0,927.7 L1542.6,928.8 L1547.1,929.9 L1551.6,931.1 L1556.1,932.2 L1560.6,933.4 L1565.2,934.5 L1569.7,935.7 L1574.2,936.9 L1578.7,938.1 L1583.2,939.4 L1587.7,940.6 L1592.2,941.8 L1596.7,943.1 L1601.2,944.3 L1605.7,945.6 L1610.1,946.8 L1614.6,948.1 L1619.1,949.4 L1623.6,950.7 L1628.1,952.0 L1632.5,953.3 L1637.0,954.6 L1641.5,955.9 L1646.0,957.2 L1650.4,958.5 L1654.9,959.9 L1659.4,961.2 L1663.8,962.5 L1668.3,963.8 L1672.8,965.1 L1677.3,966.3 L1681.8,967.6 L1686.3,968.8 L1690.8,970.0 L1695.3,971.2 L1699.8,972.3 L1704.3,973.5 L1708.8,974.6 L1713.4,975.7 L1717.9,976.7 L1722.4,977.8 L1727.0,978.8 L1731.5,979.8 L1736.1,980.8 L1740.6,981.8 L1745.2,982.7 L1749.8,983.7 L1754.3,984.6 L1758.9,985.5 L1763.5,986.4 L1768.1,987.3 L1772.7,988.2 L1777.3,989.0 L1781.8,989.9 L1786.4,990.7 L1791.0,991.5 L1795.6,992.3 L1800.2,993.1 L1804.8,993.9 L1809.4,994.7 L1814.0,995.4" fill="none" stroke="#ff0000" stroke-width="21.6" stroke-linejoin="round"/>
<path d="M897.0,981.5 L901.6,981.7 L906.2,981.9 L910.8,982.1 L915.4,982.3 L920.0,982.5 L924.6,982.7 L929.2,982.9 L933.8,983.1 L938.4,983.3 L943.1,983.5 L947.7,983.7 L952.3,983.9 L956.9,984.0 L961.5,984.2 L966.1,984.4 L970.7,984.6 L975.3,984.8 L979.9,984.9 L984.5,985.1 L989.1,985.3 L993.7,985.4 L998.3,985.6 L1002.9,985.8 L1007.5,985.9 L1012.1,986.1 L1016.7,986.3 L1021.3,986.4 L1026.0,986.6 L1030.6,986.7 L1035.2,986.9 L1039.8,987.0 L1044.4,987.2 L1049.0,987.3 L1053.6,987.5 L1058.2,987.6 L1062.8,987.8 L1067.4,987.9 L1072.0,988.0 L1076.6,988.2 L1081.2,988.3 L1085.8,988.4 L1090.4,988.6 L1095.1,988.7 L1099.7,988.8 L1104.3,988.9 L1108.9,989.1 L1113.5,989.2 L1118.1,989.3 L1122.7,989.4 L1127.3,989.6 L1131.9,989.7 L1136.5,989.8 L1141.1,989.9 L1145.7,990.0 L1150.3,990.1 L1155.0,990.2 L1159.6,990.3 L1164.2,990.4 L1168.8,990.5 L1173.4,990.6 L1178.0,990.7 L1182.6,990.8 L1187.2,990.9 L1191.8,991.0 L1196.4,991.1 L1201.0,991.2 L1205.6,991.3 L1210.2,991.4 L1214.9,991.5 L1219.5,991.6 L1224.1,991.7 L1228.7,991.7 L1233.3,991.8 L1237.9,991.9 L1242.5,992.0 L1247.1,992.1 L1251.7,992.1 L1256.3,992.2 L1260.9,992.3 L1265.5,992.4 L1270.2,992.4 L1274.8,992.5 L1279.4,992.6 L1284.0,992.6 L1288.6,992.7 L1293.2,992.8 L1297.8,992.8 L1302.4,992.9 L1307.0,993.0 L1311.6,993.0 L1316.2,993.1 L1320.8,993.1 L1325.5,993.2 L1330.1,993.3 L1334.7,993.3 L1339.3,993.4 L1343.9,993.4 L1348.5,993.5 L1353.1,993.5 L1357.7,993.6 L1362.3,993.6 L1366.9,993.7 L1371.5,993.7 L1376.1,993.8 L1380.8,993.8 L1385.4,993.8 L1390.0,993.9 L1394.6,993.9 L1399.2,994.0 L1403.8,994.0 L1408.4,994.0 L1413.0,994.1 L1417.6,994.1 L1422.2,994.1 L1426.8,994.2 L1431.5,994.2 L1436.1,994.2 L1440.7,994.3 L1445.3,994.3 L1449.9,994.3 L1454.5,994.4 L1459.1,994.4 L1463.7,994.4 L1468.3,994.4 L1472.9,994.5 L1477.5,994.5 L1482.2,994.5 L1486.8,994.5 L1491.4,994.5 L1496.0,994.6 L1500.6,994.6 L1505.2,994.6 L1509.8,994.6 L1514.4,994.6 L1519.0,994.7 L1523.6,994.7 L1528.2,994.7 L1532.9,994.7 L1537.5,994.7 L1542.1,994.7 L1546.7,994.7 L1551.3,994.7 L1555.9,994.8 L1560.5,994.8 L1565.1,994.8 L1569.7,994.8 L1574.3,994.8 L1578.9,994.8 L1583.6,994.8 L1588.2,994.8 L1592.8,994.8 L1597.4,994.8 L1602.0,994.8 L1606.6,994.8 L1611.2,994.8 L1615.8,994.8 L1620.4,994.8 L1625.0,994.8 L1629.6,994.8 L1634.3,994.8 L1638.9,994.8 L1643.5,994.8 L1648.1,994.8 L1652.7,994.8 L1657.3,994.8 L1661.9,994.8 L1666.5,994.8 L1671.1,994.8 L1675.7,994.8 L1680.3,994.8 L1685.0,994.8 L1689.6,994.8 L1694.2,994.8 L1698.8,994.8 L1703.4,994.8 L1708.0,994.8 L1712.6,994.8 L1717.2,994.8 L1721.8,994.8 L1726.4,994.7 L1731.0,994.7 L1735.7,994.7 L1740.3,994.7 L1744.9,994.7 L1749.5,994.7 L1754.1,994.7 L1758.7,994.7 L1763.3,994.7 L1767.9,994.7 L1772.5,994.7 L1777.1,994.6 L1781.7,994.6 L1786.3,994.6 L1791.0,994.6 L1795.6,994.6 L1800.2,994.6 L1804.8,994.6 L1809.4,994.6 L1814.0,994.5" fill="none" stroke="#0000ff" stroke-width="23" stroke-linejoin="round"/>
<path d="M897.0,977.9 L901.6,978.1 L906.2,978.3 L910.8,978.6 L915.4,978.8 L920.0,979.0 L924.6,979.2 L929.2,979.5 L933.8,979.7 L938.4,979.9 L943.0,980.1 L947.7,980.3 L952.3,980.5 L956.9,980.7 L961.5,981.0 L966.1,981.2 L970.7,981.4 L975.3,981.6 L979.9,981.8 L984.5,982.0 L989.1,982.2 L993.7,982.4 L998.3,982.5 L1002.9,982.7 L1007.5,982.9 L1012.1,983.1 L1016.7,983.3 L1021.3,983.5 L1025.9,983.7 L1030.6,983.8 L1035.2,984.0 L1039.8,984.2 L1044.4,984.4 L1049.0,984.5 L1053.6,984.7 L1058.2,984.9 L1062.8,985.0 L1067.4,985.2 L1072.0,985.4 L1076.6,985.5 L1081.2,985.7 L1085.8,985.9 L1090.4,986.0 L1095.0,986.2 L1099.6,986.3 L1104.3,986.5 L1108.9,986.6 L1113.5,986.8 L1118.1,986.9 L1122.7,987.1 L1127.3,987.2 L1131.9,987.4 L1136.5,987.5 L1141.1,987.6 L1145.7,987.8 L1150.3,987.9 L1154.9,988.1 L1159.5,988.2 L1164.1,988.3 L1168.8,988.4 L1173.4,988.6 L1178.0,988.7 L1182.6,988.8 L1187.2,988.9 L1191.8,989.1 L1196.4,989.2 L1201.0,989.3 L1205.6,989.4 L1210.2,989.5 L1214.8,989.7 L1219.4,989.8 L1224.0,989.9 L1228.7,990.0 L1233.3,990.1 L1237.9,990.2 L1242.5,990.3 L1247.1,990.4 L1251.7,990.5 L1256.3,990.6 L1260.9,990.7 L1265.5,990.8 L1270.1,990.9 L1274.7,991.0 L1279.3,991.1 L1283.9,991.2 L1288.6,991.3 L1293.2,991.4 L1297.8,991.5 L1302.4,991.6 L1307.0,991.7 L1311.6,991.7 L1316.2,991.8 L1320.8,991.9 L1325.4,992.0 L1330.0,992.1 L1334.6,992.1 L1339.2,992.2 L1343.9,992.3 L1348.5,992.4 L1353.1,992.4 L1357.7,992.5 L1362.3,992.6 L1366.9,992.7 L1371.5,992.7 L1376.1,992.8 L1380.7,992.9 L1385.3,992.9 L1389.9,993.0 L1394.6,993.0 L1399.2,993.1 L1403.8,993.2 L1408.4,993.2 L1413.0,993.3 L1417.6,993.3 L1422.2,993.4 L1426.8,993.4 L1431.4,993.5 L1436.0,993.5 L1440.6,993.6 L1445.3,993.6 L1449.9,993.7 L1454.5,993.7 L1459.1,993.8 L1463.7,993.8 L1468.3,993.9 L1472.9,993.9 L1477.5,994.0 L1482.1,994.0 L1486.7,994.0 L1491.3,994.1 L1496.0,994.1 L1500.6,994.1 L1505.2,994.2 L1509.8,994.2 L1514.4,994.2 L1519.0,994.3 L1523.6,994.3 L1528.2,994.3 L1532.8,994.4 L1537.4,994.4 L1542.0,994.4 L1546.7,994.4 L1551.3,994.5 L1555.9,994.5 L1560.5,994.5 L1565.1,994.5 L1569.7,994.6 L1574.3,994.6 L1578.9,994.6 L1583.5,994.6 L1588.1,994.6 L1592.7,994.6 L1597.4,994.7 L1602.0,994.7 L1606.6,994.7 L1611.2,994.7 L1615.8,994.7 L1620.4,994.7 L1625.0,994.7 L1629.6,994.7 L1634.2,994.7 L1638.8,994.8 L1643.5,994.8 L1648.1,994.8 L1652.7,994.8 L1657.3,994.8 L1661.9,994.8 L1666.5,994.8 L1671.1,994.8 L1675.7,994.8 L1680.3,994.8 L1684.9,994.8 L1689.5,994.8 L1694.2,994.8 L1698.8,994.8 L1703.4,994.8 L1708.0,994.8 L1712.6,994.8 L1717.2,994.7 L1721.8,994.7 L1726.4,994.7 L1731.0,994.7 L1735.6,994.7 L1740.3,994.7 L1744.9,994.7 L1749.5,994.7 L1754.1,994.7 L1758.7,994.7 L1763.3,994.6 L1767.9,994.6 L1772.5,994.6 L1777.1,994.6 L1781.7,994.6 L1786.3,994.6 L1791.0,994.5 L1795.6,994.5 L1800.2,994.5 L1804.8,994.5 L1809.4,994.5 L1814.0,994.4" fill="none" stroke="#ff00ff" stroke-width="23" stroke-linejoin="round"/>
<path d="M897.0,974.3 L901.6,974.6 L906.2,974.8 L910.8,975.1 L915.4,975.3 L920.0,975.5 L924.6,975.8 L929.2,976.0 L933.8,976.3 L938.4,976.5 L943.0,976.7 L947.7,977.0 L952.3,977.2 L956.9,977.4 L961.5,977.6 L966.1,977.9 L970.7,978.1 L975.3,978.3 L979.9,978.5 L984.5,978.7 L989.1,979.0 L993.7,979.2 L998.3,979.4 L1002.9,979.6 L1007.5,979.8 L1012.1,980.0 L1016.7,980.2 L1021.3,980.4 L1025.9,980.6 L1030.5,980.8 L1035.2,981.0 L1039.8,981.2 L1044.4,981.4 L1049.0,981.6 L1053.6,981.8 L1058.2,982.0 L1062.8,982.2 L1067.4,982.4 L1072.0,982.5 L1076.6,982.7 L1081.2,982.9 L1085.8,983.1 L1090.4,983.3 L1095.0,983.4 L1099.6,983.6 L1104.2,983.8 L1108.8,984.0 L1113.5,984.1 L1118.1,984.3 L1122.7,984.5 L1127.3,984.6 L1131.9,984.8 L1136.5,984.9 L1141.1,985.1 L1145.7,985.3 L1150.3,985.4 L1154.9,985.6 L1159.5,985.7 L1164.1,985.9 L1168.7,986.0 L1173.3,986.2 L1177.9,986.3 L1182.6,986.5 L1187.2,986.6 L1191.8,986.8 L1196.4,986.9 L1201.0,987.0 L1205.6,987.2 L1210.2,987.3 L1214.8,987.4 L1219.4,987.6 L1224.0,987.7 L1228.6,987.8 L1233.2,988.0 L1237.8,988.1 L1242.5,988.2 L1247.1,988.3 L1251.7,988.5 L1256.3,988.6 L1260.9,988.7 L1265.5,988.8 L1270.1,988.9 L1274.7,989.1 L1279.3,989.2 L1283.9,989.3 L1288.5,989.4 L1293.1,989.5 L1297.7,989.6 L1302.4,989.7 L1307.0,989.8 L1311.6,989.9 L1316.2,990.0 L1320.8,990.1 L1325.4,990.2 L1330.0,990.3 L1334.6,990.4 L1339.2,990.5 L1343.8,990.6 L1348.4,990.7 L1353.0,990.8 L1357.7,990.9 L1362.3,991.0 L1366.9,991.1 L1371.5,991.2 L1376.1,991.2 L1380.7,991.3 L1385.3,991.4 L1389.9,991.5 L1394.5,991.6 L1399.1,991.6 L1403.7,991.7 L1408.4,991.8 L1413.0,991.9 L1417.6,991.9 L1422.2,992.0 L1426.8,992.1 L1431.4,992.2 L1436.0,992.2 L1440.6,992.3 L1445.2,992.3 L1449.8,992.4 L1454.4,992.5 L1459.1,992.5 L1463.7,992.6 L1468.3,992.7 L1472.9,992.7 L1477.5,992.8 L1482.1,992.8 L1486.7,992.9 L1491.3,992.9 L1495.9,993.0 L1500.5,993.0 L1505.1,993.1 L1509.8,993.1 L1514.4,993.2 L1519.0,993.2 L1523.6,993.3 L1528.2,993.3 L1532.8,993.4 L1537.4,993.4 L1542.0,993.4 L1546.6,993.5 L1551.2,993.5 L1555.8,993.5 L1560.5,993.6 L1565.1,993.6 L1569.7,993.6 L1574.3,993.7 L1578.9,993.7 L1583.5,993.7 L1588.1,993.8 L1592.7,993.8 L1597.3,993.8 L1601.9,993.8 L1606.6,993.9 L1611.2,993.9 L1615.8,993.9 L1620.4,993.9 L1625.0,993.9 L1629.6,994.0 L1634.2,994.0 L1638.8,994.0 L1643.4,994.0 L1648.0,994.0 L1652.7,994.0 L1657.3,994.1 L1661.9,994.1 L1666.5,994.1 L1671.1,994.1 L1675.7,994.1 L1680.3,994.1 L1684.9,994.1 L1689.5,994.1 L1694.1,994.1 L1698.8,994.1 L1703.4,994.1 L1708.0,994.1 L1712.6,994.1 L1717.2,994.1 L1721.8,994.1 L1726.4,994.1 L1731.0,994.1 L1735.6,994.1 L1740.2,994.1 L1744.9,994.1 L1749.5,994.1 L1754.1,994.1 L1758.7,994.1 L1763.3,994.1 L1767.9,994.1 L1772.5,994.0 L1777.1,994.0 L1781.7,994.0 L1786.3,994.0 L1791.0,994.0 L1795.6,994.0 L1800.2,993.9 L1804.8,993.9 L1809.4,993.9 L1814.0,993.9" fill="none" stroke="#008000" stroke-width="23" stroke-linejoin="round"/>
<path d="M897.0,965.2 L901.6,965.5 L906.2,965.8 L910.8,966.1 L915.4,966.4 L920.0,966.7 L924.6,967.0 L929.2,967.3 L933.8,967.6 L938.4,967.9 L943.0,968.2 L947.6,968.4 L952.2,968.7 L956.8,969.0 L961.4,969.3 L966.0,969.5 L970.6,969.8 L975.2,970.1 L979.8,970.4 L984.4,970.6 L989.0,970.9 L993.6,971.1 L998.2,971.4 L1002.8,971.7 L1007.4,971.9 L1012.0,972.2 L1016.7,972.4 L1021.3,972.7 L1025.9,972.9 L1030.5,973.2 L1035.1,973.4 L1039.7,973.7 L1044.3,973.9 L1048.9,974.1 L1053.5,974.4 L1058.1,974.6 L1062.7,974.8 L1067.3,975.1 L1071.9,975.3 L1076.5,975.5 L1081.1,975.8 L1085.7,976.0 L1090.3,976.2 L1094.9,976.4 L1099.5,976.6 L1104.1,976.9 L1108.8,977.1 L1113.4,977.3 L1118.0,977.5 L1122.6,977.7 L1127.2,977.9 L1131.8,978.1 L1136.4,978.3 L1141.0,978.5 L1145.6,978.7 L1150.2,978.9 L1154.8,979.1 L1159.4,979.3 L1164.0,979.5 L1168.6,979.7 L1173.2,979.9 L1177.9,980.1 L1182.5,980.3 L1187.1,980.4 L1191.7,980.6 L1196.3,980.8 L1200.9,981.0 L1205.5,981.2 L1210.1,981.3 L1214.7,981.5 L1219.3,981.7 L1223.9,981.9 L1228.5,982.0 L1233.1,982.2 L1237.7,982.4 L1242.4,982.5 L1247.0,982.7 L1251.6,982.9 L1256.2,983.0 L1260.8,983.2 L1265.4,983.3 L1270.0,983.5 L1274.6,983.6 L1279.2,983.8 L1283.8,983.9 L1288.4,984.1 L1293.0,984.2 L1297.7,984.4 L1302.3,984.5 L1306.9,984.7 L1311.5,984.8 L1316.1,985.0 L1320.7,985.1 L1325.3,985.2 L1329.9,985.4 L1334.5,985.5 L1339.1,985.6 L1343.7,985.8 L1348.3,985.9 L1353.0,986.0 L1357.6,986.1 L1362.2,986.3 L1366.8,986.4 L1371.4,986.5 L1376.0,986.6 L1380.6,986.8 L1385.2,986.9 L1389.8,987.0 L1394.4,987.1 L1399.0,987.2 L1403.7,987.3 L1408.3,987.4 L1412.9,987.6 L1417.5,987.7 L1422.1,987.8 L1426.7,987.9 L1431.3,988.0 L1435.9,988.1 L1440.5,988.2 L1445.1,988.3 L1449.8,988.4 L1454.4,988.5 L1459.0,988.6 L1463.6,988.7 L1468.2,988.8 L1472.8,988.9 L1477.4,989.0 L1482.0,989.1 L1486.6,989.1 L1491.2,989.2 L1495.9,989.3 L1500.5,989.4 L1505.1,989.5 L1509.7,989.6 L1514.3,989.7 L1518.9,989.7 L1523.5,989.8 L1528.1,989.9 L1532.7,990.0 L1537.3,990.1 L1542.0,990.1 L1546.6,990.2 L1551.2,990.3 L1555.8,990.4 L1560.4,990.4 L1565.0,990.5 L1569.6,990.6 L1574.2,990.6 L1578.8,990.7 L1583.5,990.8 L1588.1,990.8 L1592.7,990.9 L1597.3,991.0 L1601.9,991.0 L1606.5,991.1 L1611.1,991.1 L1615.7,991.2 L1620.3,991.3 L1625.0,991.3 L1629.6,991.4 L1634.2,991.4 L1638.8,991.5 L1643.4,991.5 L1648.0,991.6 L1652.6,991.6 L1657.2,991.7 L1661.8,991.7 L1666.4,991.8 L1671.1,991.8 L1675.7,991.9 L1680.3,991.9 L1684.9,992.0 L1689.5,992.0 L1694.1,992.0 L1698.7,992.1 L1703.3,992.1 L1707.9,992.2 L1712.6,992.2 L1717.2,992.2 L1721.8,992.3 L1726.4,992.3 L1731.0,992.4 L1735.6,992.4 L1740.2,992.4 L1744.8,992.5 L1749.4,992.5 L1754.1,992.5 L1758.7,992.5 L1763.3,992.6 L1767.9,992.6 L1772.5,992.6 L1777.1,992.7 L1781.7,992.7 L1786.3,992.7 L1790.9,992.7 L1795.6,992.8 L1800.2,992.8 L1804.8,992.8 L1809.4,992.8 L1814.0,992.9" fill="none" stroke="#000080" stroke-width="23" stroke-linejoin="round"/>
<path d="M897.0,968.0 L901.6,968.3 L906.2,968.6 L910.8,968.8 L915.4,969.1 L920.0,969.4 L924.6,969.7 L929.2,970.0 L933.8,970.2 L938.4,970.5 L943.0,970.8 L947.6,971.0 L952.2,971.3 L956.8,971.6 L961.4,971.8 L966.0,972.1 L970.6,972.3 L975.3,972.6 L979.9,972.8 L984.5,973.1 L989.1,973.3 L993.7,973.6 L998.3,973.8 L1002.9,974.1 L1007.5,974.3 L1012.1,974.5 L1016.7,974.8 L1021.3,975.0 L1025.9,975.2 L1030.5,975.5 L1035.1,975.7 L1039.7,975.9 L1044.3,976.2 L1048.9,976.4 L1053.5,976.6 L1058.1,976.8 L1062.7,977.0 L1067.3,977.2 L1072.0,977.5 L1076.6,977.7 L1081.2,977.9 L1085.8,978.1 L1090.4,978.3 L1095.0,978.5 L1099.6,978.7 L1104.2,978.9 L1108.8,979.1 L1113.4,979.3 L1118.0,979.5 L1122.6,979.7 L1127.2,979.9 L1131.8,980.1 L1136.4,980.2 L1141.0,980.4 L1145.7,980.6 L1150.3,980.8 L1154.9,981.0 L1159.5,981.2 L1164.1,981.3 L1168.7,981.5 L1173.3,981.7 L1177.9,981.9 L1182.5,982.0 L1187.1,982.2 L1191.7,982.4 L1196.3,982.5 L1200.9,982.7 L1205.5,982.9 L1210.1,983.0 L1214.8,983.2 L1219.4,983.3 L1224.0,983.5 L1228.6,983.6 L1233.2,983.8 L1237.8,983.9 L1242.4,984.1 L1247.0,984.2 L1251.6,984.4 L1256.2,984.5 L1260.8,984.7 L1265.4,984.8 L1270.0,985.0 L1274.7,985.1 L1279.3,985.2 L1283.9,985.4 L1288.5,985.5 L1293.1,985.6 L1297.7,985.8 L1302.3,985.9 L1306.9,986.0 L1311.5,986.1 L1316.1,986.3 L1320.7,986.4 L1325.3,986.5 L1330.0,986.6 L1334.6,986.8 L1339.2,986.9 L1343.8,987.0 L1348.4,987.1 L1353.0,987.2 L1357.6,987.3 L1362.2,987.4 L1366.8,987.6 L1371.4,987.7 L1376.0,987.8 L1380.7,987.9 L1385.3,988.0 L1389.9,988.1 L1394.5,988.2 L1399.1,988.3 L1403.7,988.4 L1408.3,988.5 L1412.9,988.6 L1417.5,988.7 L1422.1,988.8 L1426.7,988.9 L1431.4,989.0 L1436.0,989.0 L1440.6,989.1 L1445.2,989.2 L1449.8,989.3 L1454.4,989.4 L1459.0,989.5 L1463.6,989.6 L1468.2,989.6 L1472.8,989.7 L1477.4,989.8 L1482.1,989.9 L1486.7,990.0 L1491.3,990.0 L1495.9,990.1 L1500.5,990.2 L1505.1,990.3 L1509.7,990.3 L1514.3,990.4 L1518.9,990.5 L1523.5,990.5 L1528.2,990.6 L1532.8,990.7 L1537.4,990.7 L1542.0,990.8 L1546.6,990.9 L1551.2,990.9 L1555.8,991.0 L1560.4,991.1 L1565.0,991.1 L1569.6,991.2 L1574.3,991.2 L1578.9,991.3 L1583.5,991.3 L1588.1,991.4 L1592.7,991.4 L1597.3,991.5 L1601.9,991.5 L1606.5,991.6 L1611.1,991.6 L1615.7,991.7 L1620.4,991.7 L1625.0,991.8 L1629.6,991.8 L1634.2,991.9 L1638.8,991.9 L1643.4,992.0 L1648.0,992.0 L1652.6,992.1 L1657.2,992.1 L1661.9,992.1 L1666.5,992.2 L1671.1,992.2 L1675.7,992.3 L1680.3,992.3 L1684.9,992.3 L1689.5,992.4 L1694.1,992.4 L1698.7,992.4 L1703.3,992.5 L1708.0,992.5 L1712.6,992.5 L1717.2,992.6 L1721.8,992.6 L1726.4,992.6 L1731.0,992.6 L1735.6,992.7 L1740.2,992.7 L1744.8,992.7 L1749.5,992.8 L1754.1,992.8 L1758.7,992.8 L1763.3,992.8 L1767.9,992.8 L1772.5,992.9 L1777.1,992.9 L1781.7,992.9 L1786.3,992.9 L1791.0,993.0 L1795.6,993.0 L1800.2,993.0 L1804.8,993.0 L1809.4,993.0 L1814.0,993.0" fill="none" stroke="#8000ff" stroke-width="23" stroke-linejoin="round"/>
<path d="M897.0,971.6 L901.6,971.9 L906.2,972.1 L910.8,972.3 L915.4,972.6 L920.0,972.8 L924.6,973.0 L929.2,973.3 L933.8,973.5 L938.4,973.7 L943.0,973.9 L947.6,974.2 L952.2,974.4 L956.8,974.6 L961.5,974.8 L966.1,975.0 L970.7,975.3 L975.3,975.5 L979.9,975.7 L984.5,975.9 L989.1,976.1 L993.7,976.3 L998.3,976.5 L1002.9,976.7 L1007.5,976.9 L1012.1,977.1 L1016.7,977.3 L1021.3,977.5 L1025.9,977.7 L1030.5,977.9 L1035.1,978.1 L1039.7,978.3 L1044.4,978.5 L1049.0,978.7 L1053.6,978.9 L1058.2,979.0 L1062.8,979.2 L1067.4,979.4 L1072.0,979.6 L1076.6,979.8 L1081.2,979.9 L1085.8,980.1 L1090.4,980.3 L1095.0,980.5 L1099.6,980.6 L1104.2,980.8 L1108.8,981.0 L1113.4,981.2 L1118.1,981.3 L1122.7,981.5 L1127.3,981.6 L1131.9,981.8 L1136.5,982.0 L1141.1,982.1 L1145.7,982.3 L1150.3,982.4 L1154.9,982.6 L1159.5,982.7 L1164.1,982.9 L1168.7,983.1 L1173.3,983.2 L1177.9,983.3 L1182.6,983.5 L1187.2,983.6 L1191.8,983.8 L1196.4,983.9 L1201.0,984.1 L1205.6,984.2 L1210.2,984.3 L1214.8,984.5 L1219.4,984.6 L1224.0,984.8 L1228.6,984.9 L1233.2,985.0 L1237.8,985.1 L1242.5,985.3 L1247.1,985.4 L1251.7,985.5 L1256.3,985.7 L1260.9,985.8 L1265.5,985.9 L1270.1,986.0 L1274.7,986.1 L1279.3,986.3 L1283.9,986.4 L1288.5,986.5 L1293.1,986.6 L1297.7,986.7 L1302.4,986.8 L1307.0,987.0 L1311.6,987.1 L1316.2,987.2 L1320.8,987.3 L1325.4,987.4 L1330.0,987.5 L1334.6,987.6 L1339.2,987.7 L1343.8,987.8 L1348.4,987.9 L1353.0,988.0 L1357.7,988.1 L1362.3,988.2 L1366.9,988.3 L1371.5,988.4 L1376.1,988.5 L1380.7,988.6 L1385.3,988.7 L1389.9,988.8 L1394.5,988.9 L1399.1,989.0 L1403.7,989.0 L1408.4,989.1 L1413.0,989.2 L1417.6,989.3 L1422.2,989.4 L1426.8,989.5 L1431.4,989.6 L1436.0,989.6 L1440.6,989.7 L1445.2,989.8 L1449.8,989.9 L1454.4,990.0 L1459.1,990.0 L1463.7,990.1 L1468.3,990.2 L1472.9,990.2 L1477.5,990.3 L1482.1,990.4 L1486.7,990.5 L1491.3,990.5 L1495.9,990.6 L1500.5,990.7 L1505.1,990.7 L1509.8,990.8 L1514.4,990.9 L1519.0,990.9 L1523.6,991.0 L1528.2,991.1 L1532.8,991.1 L1537.4,991.2 L1542.0,991.2 L1546.6,991.3 L1551.2,991.3 L1555.8,991.4 L1560.5,991.5 L1565.1,991.5 L1569.7,991.6 L1574.3,991.6 L1578.9,991.7 L1583.5,991.7 L1588.1,991.8 L1592.7,991.8 L1597.3,991.9 L1601.9,991.9 L1606.6,992.0 L1611.2,992.0 L1615.8,992.1 L1620.4,992.1 L1625.0,992.2 L1629.6,992.2 L1634.2,992.2 L1638.8,992.3 L1643.4,992.3 L1648.0,992.4 L1652.7,992.4 L1657.3,992.4 L1661.9,992.5 L1666.5,992.5 L1671.1,992.6 L1675.7,992.6 L1680.3,992.6 L1684.9,992.7 L1689.5,992.7 L1694.1,992.7 L1698.8,992.8 L1703.4,992.8 L1708.0,992.8 L1712.6,992.9 L1717.2,992.9 L1721.8,992.9 L1726.4,992.9 L1731.0,993.0 L1735.6,993.0 L1740.2,993.0 L1744.9,993.1 L1749.5,993.1 L1754.1,993.1 L1758.7,993.1 L1763.3,993.2 L1767.9,993.2 L1772.5,993.2 L1777.1,993.2 L1781.7,993.2 L1786.3,993.3 L1791.0,993.3 L1795.6,993.3 L1800.2,993.3 L1804.8,993.3 L1809.4,993.4 L1814.0,993.4" fill="none" stroke="#800080" stroke-width="23.5" stroke-linejoin="round"/>
<path d="M1332,774.5 V817.7 M1332,897 V940.2 M1332,1004.8 V1046" fill="none" stroke="#000" stroke-width="9.6" stroke-linecap="round"/>
<path d="M1590.7,1023.5 V1040" fill="none" stroke="#000" stroke-width="8" stroke-linecap="round"/>
</g>
<path d="M901,740 V737.6 H1801 V773" fill="none" stroke="#c00000" stroke-width="17.4" stroke-linejoin="round" stroke-dasharray="51 17.23"/>
<path d="M1801,790.8 V1032 H1787.6" fill="none" stroke="#c00000" stroke-width="17.4" stroke-linejoin="round" stroke-dasharray="51 17.2"/>
<path d="M1769.6,1032 H970" fill="none" stroke="#c00000" stroke-width="17.4" stroke-linejoin="round" stroke-dasharray="50.9 17.19"/>
<path d="M952.5,1032 H901 V1028.5" fill="none" stroke="#c00000" stroke-width="17.4" stroke-linejoin="round"/>
<path d="M901,1013 V757.6" fill="none" stroke="#c00000" stroke-width="17.4" stroke-linejoin="round" stroke-dasharray="50.9 17.23"/>
<path d="M1260.6,1403.6 H1787.1 V1406" fill="none" stroke="#c00000" stroke-width="17.2" stroke-linejoin="round" stroke-dasharray="50.8 17.4"/>
<path d="M1787.1,1423.5 V1542.1" fill="none" stroke="#c00000" stroke-width="17.2" stroke-linejoin="round" stroke-dasharray="50.5 17.6"/>
<path d="M1774,1546.8 H1314" fill="none" stroke="#c00000" stroke-width="17.0" stroke-linejoin="round" stroke-dasharray="50.8 17.27"/>
<path d="M1296.9,1546.8 H1245.8 V1543" fill="none" stroke="#c00000" stroke-width="17.0" stroke-linejoin="round"/>
<path d="M1245.8,1525.2 V1406.3" fill="none" stroke="#c00000" stroke-width="17.4" stroke-linejoin="round" stroke-dasharray="50.5 17.9"/>
<path d="M1723.6,1569.4 V1542.4" fill="none" stroke="#000" stroke-width="10" stroke-linecap="round"/>
<path d="M1315.9,1063.6 L1441.5,1314.8" stroke="#000" stroke-width="17" fill="none"/>
<path d="M1463.3,1357.8 L1417.9,1324.4 L1463.3,1301.5 Z" fill="#000"/>
</svg>
</body></html>
